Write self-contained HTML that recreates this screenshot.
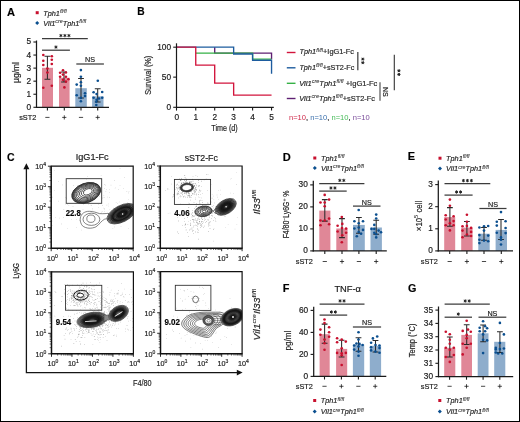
<!DOCTYPE html>
<html><head><meta charset="utf-8"><style>
html,body{margin:0;padding:0;background:#fff;}
body{width:520px;height:422px;overflow:hidden;}
svg{display:block;will-change:transform;}
text{stroke:#222;stroke-width:0.18px;}
</style></head><body>
<svg width="520" height="422" viewBox="0 0 520 422" style="font-family:'Liberation Sans',sans-serif">
<rect x="0" y="0" width="520" height="422" fill="#fff"/>
<text x="7.0" y="15.7" font-size="11" text-anchor="start" fill="#000" font-weight="bold" textLength="8.0" lengthAdjust="spacingAndGlyphs" >A</text>
<rect x="35.7" y="11.2" width="3.0" height="3.0" fill="#c8102e"/>
<path d="M37.2 21.0L39.2 23.0L37.2 25.0L35.2 23.0Z" fill="#0b4f8f"/>
<text x="43.3" y="15.5" font-size="7.3" fill="#2a2a2a"><tspan font-style="italic">Tph1</tspan><tspan dy="-2.8" font-size="5.3" stroke-width="0.05" font-style="italic">fl/fl</tspan></text>
<text x="43.3" y="25.9" font-size="7.3" fill="#2a2a2a"><tspan font-style="italic">Vil1</tspan><tspan dy="-2.8" font-size="5.3" stroke-width="0.05" font-style="italic">cre</tspan><tspan dy="2.8" font-style="italic">Tph1</tspan><tspan dy="-2.8" font-size="5.3" stroke-width="0.05" font-style="italic">fl/fl</tspan></text>
<rect x="42" y="67.8" width="11" height="39.5" fill="#e08797" stroke="none" stroke-width="1"/>
<rect x="59" y="77.7" width="10.59" height="29.59" fill="#e08797" stroke="none" stroke-width="1"/>
<rect x="75.3" y="88.2" width="11.5" height="19.09" fill="#8eadcc" stroke="none" stroke-width="1"/>
<rect x="92.1" y="96.3" width="11.40" height="11.0" fill="#8eadcc" stroke="none" stroke-width="1"/>
<path d="M47.4 56.3V79.2M44.5 56.3H50.3M44.5 79.2H50.3" stroke="#2a2a2a" stroke-width="1.05" fill="none"/>
<path d="M64 72V82M61.1 72H66.9M61.1 82H66.9" stroke="#2a2a2a" stroke-width="1.05" fill="none"/>
<path d="M81 78.4V97.9M78.1 78.4H83.9M78.1 97.9H83.9" stroke="#2a2a2a" stroke-width="1.05" fill="none"/>
<path d="M97.7 88.8V102M94.8 88.8H100.60M94.8 102H100.60" stroke="#2a2a2a" stroke-width="1.05" fill="none"/>
<circle cx="43.3" cy="55" r="1.32" fill="#c8102e"/>
<circle cx="51.8" cy="56.3" r="1.32" fill="#c8102e"/>
<circle cx="43.3" cy="60.8" r="1.32" fill="#c8102e"/>
<circle cx="51.8" cy="59.7" r="1.32" fill="#c8102e"/>
<circle cx="43.3" cy="65" r="1.32" fill="#c8102e"/>
<circle cx="51.8" cy="64" r="1.32" fill="#c8102e"/>
<circle cx="47.4" cy="68.5" r="1.32" fill="#c8102e"/>
<circle cx="47.4" cy="72.5" r="1.32" fill="#c8102e"/>
<circle cx="43.3" cy="87.8" r="1.32" fill="#c8102e"/>
<circle cx="51.8" cy="85.7" r="1.32" fill="#c8102e"/>
<circle cx="63" cy="70.3" r="1.32" fill="#c8102e"/>
<circle cx="60.1" cy="72.8" r="1.32" fill="#c8102e"/>
<circle cx="65.9" cy="72.5" r="1.32" fill="#c8102e"/>
<circle cx="63" cy="74.6" r="1.32" fill="#c8102e"/>
<circle cx="60.1" cy="76.8" r="1.32" fill="#c8102e"/>
<circle cx="65.9" cy="76.8" r="1.32" fill="#c8102e"/>
<circle cx="68.4" cy="79.2" r="1.32" fill="#c8102e"/>
<circle cx="63" cy="79.7" r="1.32" fill="#c8102e"/>
<circle cx="65.9" cy="81.6" r="1.32" fill="#c8102e"/>
<circle cx="64.4" cy="87.4" r="1.32" fill="#c8102e"/>
<circle cx="80.9" cy="70.1" r="1.32" fill="#0b4f8f"/>
<circle cx="80.9" cy="76.8" r="1.32" fill="#0b4f8f"/>
<circle cx="80.9" cy="82.3" r="1.32" fill="#0b4f8f"/>
<circle cx="76.7" cy="84.6" r="1.32" fill="#0b4f8f"/>
<circle cx="80.9" cy="85.8" r="1.32" fill="#0b4f8f"/>
<circle cx="85" cy="93.2" r="1.32" fill="#0b4f8f"/>
<circle cx="76.7" cy="95.3" r="1.32" fill="#0b4f8f"/>
<circle cx="85" cy="96.1" r="1.32" fill="#0b4f8f"/>
<circle cx="80.9" cy="97.9" r="1.32" fill="#0b4f8f"/>
<circle cx="80.9" cy="101.2" r="1.32" fill="#0b4f8f"/>
<circle cx="97.8" cy="80.7" r="1.32" fill="#0b4f8f"/>
<circle cx="93.6" cy="92.2" r="1.32" fill="#0b4f8f"/>
<circle cx="102.2" cy="92" r="1.32" fill="#0b4f8f"/>
<circle cx="96.6" cy="94.1" r="1.32" fill="#0b4f8f"/>
<circle cx="93.6" cy="97.7" r="1.32" fill="#0b4f8f"/>
<circle cx="99" cy="98.5" r="1.32" fill="#0b4f8f"/>
<circle cx="102.2" cy="97.7" r="1.32" fill="#0b4f8f"/>
<circle cx="96.6" cy="99.7" r="1.32" fill="#0b4f8f"/>
<circle cx="96.3" cy="101.7" r="1.32" fill="#0b4f8f"/>
<circle cx="96.3" cy="105" r="1.32" fill="#0b4f8f"/>
<line x1="36.5" y1="40.5" x2="36.5" y2="107.89" stroke="#1a1a1a" stroke-width="1.25" />
<line x1="35.9" y1="107.3" x2="109" y2="107.3" stroke="#1a1a1a" stroke-width="1.25" />
<line x1="33.4" y1="107.3" x2="36.5" y2="107.3" stroke="#1a1a1a" stroke-width="1.1" />
<text x="31.0" y="109.75" font-size="8.3" text-anchor="end" fill="#1a1a1a" >0</text>
<line x1="33.4" y1="94.24" x2="36.5" y2="94.24" stroke="#1a1a1a" stroke-width="1.1" />
<text x="31.0" y="96.69" font-size="8.3" text-anchor="end" fill="#1a1a1a" >1</text>
<line x1="33.4" y1="81.17" x2="36.5" y2="81.17" stroke="#1a1a1a" stroke-width="1.1" />
<text x="31.0" y="83.63" font-size="8.3" text-anchor="end" fill="#1a1a1a" >2</text>
<line x1="33.4" y1="68.12" x2="36.5" y2="68.12" stroke="#1a1a1a" stroke-width="1.1" />
<text x="31.0" y="70.57" font-size="8.3" text-anchor="end" fill="#1a1a1a" >3</text>
<line x1="33.4" y1="55.05" x2="36.5" y2="55.05" stroke="#1a1a1a" stroke-width="1.1" />
<text x="31.0" y="57.51" font-size="8.3" text-anchor="end" fill="#1a1a1a" >4</text>
<line x1="33.4" y1="42.0" x2="36.5" y2="42.0" stroke="#1a1a1a" stroke-width="1.1" />
<text x="31.0" y="44.45" font-size="8.3" text-anchor="end" fill="#1a1a1a" >5</text>
<line x1="47.4" y1="107.3" x2="47.4" y2="110.39" stroke="#1a1a1a" stroke-width="1.1" />
<line x1="64.3" y1="107.3" x2="64.3" y2="110.39" stroke="#1a1a1a" stroke-width="1.1" />
<line x1="81" y1="107.3" x2="81" y2="110.39" stroke="#1a1a1a" stroke-width="1.1" />
<line x1="97.7" y1="107.3" x2="97.7" y2="110.39" stroke="#1a1a1a" stroke-width="1.1" />
<line x1="42" y1="38.7" x2="87.8" y2="38.7" stroke="#3c3c3c" stroke-width="1.25" />
<g stroke="#222" stroke-width="1.0" stroke-linecap="round"><line x1="60.90" y1="34.35" x2="60.90" y2="36.85"/><line x1="59.82" y1="34.98" x2="61.98" y2="36.23"/><line x1="59.82" y1="36.23" x2="61.98" y2="34.98"/><line x1="64.90" y1="34.35" x2="64.90" y2="36.85"/><line x1="63.82" y1="34.98" x2="65.98" y2="36.23"/><line x1="63.82" y1="36.23" x2="65.98" y2="34.98"/><line x1="68.90" y1="34.35" x2="68.90" y2="36.85"/><line x1="67.82" y1="34.98" x2="69.98" y2="36.23"/><line x1="67.82" y1="36.23" x2="69.98" y2="34.98"/></g>
<line x1="42" y1="50.2" x2="69.9" y2="50.2" stroke="#3c3c3c" stroke-width="1.25" />
<g stroke="#222" stroke-width="1.0" stroke-linecap="round"><line x1="55.95" y1="45.85" x2="55.95" y2="48.35"/><line x1="54.87" y1="46.48" x2="57.03" y2="47.73"/><line x1="54.87" y1="47.73" x2="57.03" y2="46.48"/></g>
<line x1="76.3" y1="64" x2="103.9" y2="64" stroke="#3c3c3c" stroke-width="1.25" />
<text x="90.1" y="62.4" font-size="7.1" text-anchor="middle" fill="#1a1a1a" textLength="10" lengthAdjust="spacingAndGlyphs" >NS</text>
<text x="36.2" y="120" font-size="7.3" text-anchor="end" fill="#1a1a1a" >sST2</text>
<line x1="45.3" y1="117.4" x2="49.5" y2="117.4" stroke="#1a1a1a" stroke-width="0.8" />
<path d="M62.19 117.4H66.39M64.3 115.3V119.5" stroke="#1a1a1a" stroke-width="0.8" fill="none"/>
<line x1="78.9" y1="117.4" x2="83.1" y2="117.4" stroke="#1a1a1a" stroke-width="0.8" />
<path d="M95.60 117.4H99.8M97.7 115.3V119.5" stroke="#1a1a1a" stroke-width="0.8" fill="none"/>
<text x="19.0" y="72.5" font-size="9.4" text-anchor="middle" fill="#1a1a1a" textLength="21" lengthAdjust="spacingAndGlyphs" transform="rotate(-90 19.0 72.5)" >µg/ml</text>
<text x="137.2" y="15.3" font-size="11" text-anchor="start" fill="#000" font-weight="bold" textLength="7.4" lengthAdjust="spacingAndGlyphs" >B</text>
<path d="M214.70 47.19V53.19H271.55V59.17" fill="none" stroke="#5e1f72" stroke-width="1.35" stroke-linejoin="miter" stroke-linecap="butt"/>
<path d="M195.75 53.19H252.60V59.17H271.55" fill="none" stroke="#35b146" stroke-width="1.35" stroke-linejoin="miter" stroke-linecap="butt"/>
<path d="M176.8 47.19H233.65V54.02H252.60V60.25H271.55V73.85" fill="none" stroke="#1d5c9e" stroke-width="1.35" stroke-linejoin="miter" stroke-linecap="butt"/>
<path d="M176.8 47.19H195.75V65.16H214.70V83.13H233.65V95.11H271.55" fill="none" stroke="#d2143c" stroke-width="1.35" stroke-linejoin="miter" stroke-linecap="butt"/>
<line x1="176.5" y1="43.3" x2="176.5" y2="107.9" stroke="#1a1a1a" stroke-width="1.2" />
<line x1="175.9" y1="107.3" x2="273.8" y2="107.3" stroke="#1a1a1a" stroke-width="1.2" />
<line x1="173.2" y1="47.19" x2="176.5" y2="47.19" stroke="#1a1a1a" stroke-width="1.1" />
<text x="171.0" y="49.69" font-size="8.3" text-anchor="end" fill="#1a1a1a" >100</text>
<line x1="173.2" y1="77.14" x2="176.5" y2="77.14" stroke="#1a1a1a" stroke-width="1.1" />
<text x="171.0" y="79.64" font-size="8.3" text-anchor="end" fill="#1a1a1a" >50</text>
<line x1="173.2" y1="107.3" x2="176.5" y2="107.3" stroke="#1a1a1a" stroke-width="1.1" />
<text x="171.0" y="109.8" font-size="8.3" text-anchor="end" fill="#1a1a1a" >0</text>
<line x1="176.5" y1="107.3" x2="176.5" y2="110.6" stroke="#1a1a1a" stroke-width="1.1" />
<text x="176.8" y="119.6" font-size="8.3" text-anchor="middle" fill="#1a1a1a" >0</text>
<line x1="195.75" y1="107.3" x2="195.75" y2="110.6" stroke="#1a1a1a" stroke-width="1.1" />
<text x="195.75" y="119.6" font-size="8.3" text-anchor="middle" fill="#1a1a1a" >1</text>
<line x1="214.70" y1="107.3" x2="214.70" y2="110.6" stroke="#1a1a1a" stroke-width="1.1" />
<text x="214.70" y="119.6" font-size="8.3" text-anchor="middle" fill="#1a1a1a" >2</text>
<line x1="233.65" y1="107.3" x2="233.65" y2="110.6" stroke="#1a1a1a" stroke-width="1.1" />
<text x="233.65" y="119.6" font-size="8.3" text-anchor="middle" fill="#1a1a1a" >3</text>
<line x1="252.60" y1="107.3" x2="252.60" y2="110.6" stroke="#1a1a1a" stroke-width="1.1" />
<text x="252.60" y="119.6" font-size="8.3" text-anchor="middle" fill="#1a1a1a" >4</text>
<line x1="271.55" y1="107.3" x2="271.55" y2="110.6" stroke="#1a1a1a" stroke-width="1.1" />
<text x="271.55" y="119.6" font-size="8.3" text-anchor="middle" fill="#1a1a1a" >5</text>
<text x="224.5" y="131.4" font-size="8.4" text-anchor="middle" fill="#1a1a1a" textLength="26.4" lengthAdjust="spacingAndGlyphs" >Time (d)</text>
<text x="150.6" y="75.3" font-size="8.6" text-anchor="middle" fill="#1a1a1a" textLength="39" lengthAdjust="spacingAndGlyphs" transform="rotate(-90 150.6 75.3)" >Survival (%)</text>
<line x1="286.8" y1="52.5" x2="295.5" y2="52.5" stroke="#d2143c" stroke-width="1.4" />
<line x1="286.8" y1="67.8" x2="295.5" y2="67.8" stroke="#1d5c9e" stroke-width="1.4" />
<line x1="286.8" y1="83.3" x2="295.5" y2="83.3" stroke="#35b146" stroke-width="1.4" />
<line x1="286.8" y1="98.5" x2="295.5" y2="98.5" stroke="#5e1f72" stroke-width="1.4" />
<text x="299.4" y="54.3" font-size="7.3" fill="#2a2a2a" textLength="54.6" lengthAdjust="spacingAndGlyphs"><tspan font-style="italic">Tph1</tspan><tspan dy="-2.8" font-size="5.3" stroke-width="0.05" font-style="italic">fl/fl</tspan><tspan dy="2.8">+IgG1-Fc</tspan></text>
<text x="299.4" y="69.9" font-size="7.3" fill="#2a2a2a" textLength="55.0" lengthAdjust="spacingAndGlyphs"><tspan font-style="italic">Tph1</tspan><tspan dy="-2.8" font-size="5.3" stroke-width="0.05" font-style="italic">fl/fl</tspan><tspan dy="2.8">+sST2-Fc</tspan></text>
<text x="299.2" y="85.6" font-size="7.3" fill="#2a2a2a" textLength="78.2" lengthAdjust="spacingAndGlyphs"><tspan font-style="italic">Vil1</tspan><tspan dy="-2.8" font-size="5.3" stroke-width="0.05" font-style="italic">cre</tspan><tspan dy="2.8" font-style="italic">Tph1</tspan><tspan dy="-2.8" font-size="5.3" stroke-width="0.05" font-style="italic">fl/fl</tspan><tspan dy="2.8"> +IgG1-Fc</tspan></text>
<text x="299.2" y="100.7" font-size="7.3" fill="#2a2a2a" textLength="75.8" lengthAdjust="spacingAndGlyphs"><tspan font-style="italic">Vil1</tspan><tspan dy="-2.8" font-size="5.3" stroke-width="0.05" font-style="italic">cre</tspan><tspan dy="2.8" font-style="italic">Tph1</tspan><tspan dy="-2.8" font-size="5.3" stroke-width="0.05" font-style="italic">fl/fl</tspan><tspan dy="2.8">+sST2-Fc</tspan></text>
<line x1="357.8" y1="51.9" x2="357.8" y2="70.3" stroke="#555" stroke-width="1.4" />
<line x1="380.0" y1="82.3" x2="380.0" y2="100.7" stroke="#777" stroke-width="1.5" />
<line x1="394.3" y1="54.7" x2="394.3" y2="90.3" stroke="#333" stroke-width="1.1" />
<g stroke="#222" stroke-width="1.0" stroke-linecap="round"><line x1="361.60" y1="59.10" x2="364.00" y2="59.10"/><line x1="362.20" y1="58.06" x2="363.40" y2="60.14"/><line x1="362.20" y1="60.14" x2="363.40" y2="58.06"/><line x1="361.60" y1="62.70" x2="364.00" y2="62.70"/><line x1="362.20" y1="61.66" x2="363.40" y2="63.74"/><line x1="362.20" y1="63.74" x2="363.40" y2="61.66"/></g>
<g stroke="#222" stroke-width="1.0" stroke-linecap="round"><line x1="397.70" y1="70.75" x2="400.10" y2="70.75"/><line x1="398.30" y1="69.71" x2="399.50" y2="71.79"/><line x1="398.30" y1="71.79" x2="399.50" y2="69.71"/><line x1="397.70" y1="74.45" x2="400.10" y2="74.45"/><line x1="398.30" y1="73.41" x2="399.50" y2="75.49"/><line x1="398.30" y1="75.49" x2="399.50" y2="73.41"/></g>
<text x="383.0" y="91.8" font-size="7" text-anchor="middle" fill="#1a1a1a" transform="rotate(90 383.0 91.8)" >NS</text>
<text x="289" y="119.8" font-size="7.4" textLength="80.8" lengthAdjust="spacingAndGlyphs"><tspan fill="#d0284a" stroke="none">n=10</tspan><tspan fill="#333">, </tspan><tspan fill="#3a70ad" stroke="none">n=10</tspan><tspan fill="#333">, </tspan><tspan fill="#45bb58" stroke="none">n=10</tspan><tspan fill="#333">, </tspan><tspan fill="#7a4c9a" stroke="none">n=10</tspan></text>
<text x="7.0" y="160.5" font-size="11" text-anchor="start" fill="#000" font-weight="bold" textLength="7.6" lengthAdjust="spacingAndGlyphs" >C</text>
<text x="92.2" y="160.1" font-size="8.7" text-anchor="middle" fill="#1a1a1a" textLength="33.0" lengthAdjust="spacingAndGlyphs" >IgG1-Fc</text>
<text x="201.3" y="160.6" font-size="8.7" text-anchor="middle" fill="#1a1a1a" textLength="33.2" lengthAdjust="spacingAndGlyphs" >sST2-Fc</text>
<path d="M26.4 168.5V372.6H238" fill="none" stroke="#151515" stroke-width="1.3"/>
<path d="M26.4 163.3L23.4 169.2L29.4 169.2Z" fill="#111"/>
<path d="M242.6 372.6L236.8 369.8L236.8 375.4Z" fill="#111"/>
<text x="18.7" y="270.8" font-size="9.4" text-anchor="middle" fill="#1a1a1a" textLength="15.8" lengthAdjust="spacingAndGlyphs" transform="rotate(-90 18.7 270.8)" >Ly6G</text>
<text x="142.3" y="385.6" font-size="9.4" text-anchor="middle" fill="#1a1a1a" textLength="18.6" lengthAdjust="spacingAndGlyphs" >F4/80</text>
<text x="260" y="202" font-size="9.2" text-anchor="middle" transform="rotate(-90 260 202)" fill="#1a1a1a" textLength="25" lengthAdjust="spacingAndGlyphs"><tspan font-style="italic">Il33</tspan><tspan dy="-4" font-size="6.2" stroke-width="0.05">fl/fl</tspan></text>
<text x="260" y="314.6" font-size="9.2" text-anchor="middle" transform="rotate(-90 260 314.6)" fill="#1a1a1a" textLength="51.6" lengthAdjust="spacingAndGlyphs"><tspan font-style="italic">Vil1</tspan><tspan dy="-4" font-size="6.2" stroke-width="0.05" font-style="italic">cre</tspan><tspan dy="4" font-style="italic">Il33</tspan><tspan dy="-4" font-size="6.2" stroke-width="0.05">fl/fl</tspan></text>
<clipPath id="c1"><rect x="51.2" y="166.2" width="81.99" height="82.0"/></clipPath>
<g stroke="#111" stroke-width="0.6"><line x1="49.40" y1="242.03" x2="51.2" y2="242.03"/><line x1="57.37" y1="248.2" x2="57.37" y2="250.0"/><line x1="49.40" y1="238.42" x2="51.2" y2="238.42"/><line x1="60.98" y1="248.2" x2="60.98" y2="250.0"/><line x1="49.40" y1="235.86" x2="51.2" y2="235.86"/><line x1="63.54" y1="248.2" x2="63.54" y2="250.0"/><line x1="49.40" y1="233.87" x2="51.2" y2="233.87"/><line x1="65.53" y1="248.2" x2="65.53" y2="250.0"/><line x1="49.40" y1="232.25" x2="51.2" y2="232.25"/><line x1="67.15" y1="248.2" x2="67.15" y2="250.0"/><line x1="49.40" y1="230.88" x2="51.2" y2="230.88"/><line x1="68.52" y1="248.2" x2="68.52" y2="250.0"/><line x1="49.40" y1="229.69" x2="51.2" y2="229.69"/><line x1="69.71" y1="248.2" x2="69.71" y2="250.0"/><line x1="49.40" y1="228.64" x2="51.2" y2="228.64"/><line x1="70.76" y1="248.2" x2="70.76" y2="250.0"/><line x1="49.40" y1="221.53" x2="51.2" y2="221.53"/><line x1="77.87" y1="248.2" x2="77.87" y2="250.0"/><line x1="49.40" y1="217.92" x2="51.2" y2="217.92"/><line x1="81.48" y1="248.2" x2="81.48" y2="250.0"/><line x1="49.40" y1="215.36" x2="51.2" y2="215.36"/><line x1="84.04" y1="248.2" x2="84.04" y2="250.0"/><line x1="49.40" y1="213.37" x2="51.2" y2="213.37"/><line x1="86.03" y1="248.2" x2="86.03" y2="250.0"/><line x1="49.40" y1="211.75" x2="51.2" y2="211.75"/><line x1="87.65" y1="248.2" x2="87.65" y2="250.0"/><line x1="49.40" y1="210.38" x2="51.2" y2="210.38"/><line x1="89.02" y1="248.2" x2="89.02" y2="250.0"/><line x1="49.40" y1="209.19" x2="51.2" y2="209.19"/><line x1="90.21" y1="248.2" x2="90.21" y2="250.0"/><line x1="49.40" y1="208.14" x2="51.2" y2="208.14"/><line x1="91.26" y1="248.2" x2="91.26" y2="250.0"/><line x1="49.40" y1="201.03" x2="51.2" y2="201.03"/><line x1="98.37" y1="248.2" x2="98.37" y2="250.0"/><line x1="49.40" y1="197.42" x2="51.2" y2="197.42"/><line x1="101.98" y1="248.2" x2="101.98" y2="250.0"/><line x1="49.40" y1="194.86" x2="51.2" y2="194.86"/><line x1="104.54" y1="248.2" x2="104.54" y2="250.0"/><line x1="49.40" y1="192.87" x2="51.2" y2="192.87"/><line x1="106.53" y1="248.2" x2="106.53" y2="250.0"/><line x1="49.40" y1="191.25" x2="51.2" y2="191.25"/><line x1="108.15" y1="248.2" x2="108.15" y2="250.0"/><line x1="49.40" y1="189.88" x2="51.2" y2="189.88"/><line x1="109.52" y1="248.2" x2="109.52" y2="250.0"/><line x1="49.40" y1="188.69" x2="51.2" y2="188.69"/><line x1="110.71" y1="248.2" x2="110.71" y2="250.0"/><line x1="49.40" y1="187.64" x2="51.2" y2="187.64"/><line x1="111.76" y1="248.2" x2="111.76" y2="250.0"/><line x1="49.40" y1="180.53" x2="51.2" y2="180.53"/><line x1="118.87" y1="248.2" x2="118.87" y2="250.0"/><line x1="49.40" y1="176.92" x2="51.2" y2="176.92"/><line x1="122.48" y1="248.2" x2="122.48" y2="250.0"/><line x1="49.40" y1="174.36" x2="51.2" y2="174.36"/><line x1="125.04" y1="248.2" x2="125.04" y2="250.0"/><line x1="49.40" y1="172.37" x2="51.2" y2="172.37"/><line x1="127.03" y1="248.2" x2="127.03" y2="250.0"/><line x1="49.40" y1="170.75" x2="51.2" y2="170.75"/><line x1="128.65" y1="248.2" x2="128.65" y2="250.0"/><line x1="49.40" y1="169.38" x2="51.2" y2="169.38"/><line x1="130.02" y1="248.2" x2="130.02" y2="250.0"/><line x1="49.40" y1="168.19" x2="51.2" y2="168.19"/><line x1="131.21" y1="248.2" x2="131.21" y2="250.0"/><line x1="49.40" y1="167.14" x2="51.2" y2="167.14"/><line x1="132.26" y1="248.2" x2="132.26" y2="250.0"/></g>
<g stroke="#111" stroke-width="0.9"><line x1="47.90" y1="248.20" x2="51.2" y2="248.20"/><line x1="51.20" y1="248.2" x2="51.20" y2="251.2"/><line x1="47.90" y1="227.70" x2="51.2" y2="227.70"/><line x1="71.70" y1="248.2" x2="71.70" y2="251.2"/><line x1="47.90" y1="207.20" x2="51.2" y2="207.20"/><line x1="92.20" y1="248.2" x2="92.20" y2="251.2"/><line x1="47.90" y1="186.70" x2="51.2" y2="186.70"/><line x1="112.70" y1="248.2" x2="112.70" y2="251.2"/><line x1="47.90" y1="166.20" x2="51.2" y2="166.20"/><line x1="133.20" y1="248.2" x2="133.20" y2="251.2"/></g>
<text x="46.0" y="251.00" font-size="7.2" text-anchor="end" fill="#1a1a1a">10<tspan font-size="5" dy="-3">0</tspan></text>
<text x="52.50" y="260.50" font-size="7.2" text-anchor="middle" fill="#1a1a1a">10<tspan font-size="5" dy="-3">0</tspan></text>
<text x="46.0" y="230.50" font-size="7.2" text-anchor="end" fill="#1a1a1a">10<tspan font-size="5" dy="-3">1</tspan></text>
<text x="73.00" y="260.50" font-size="7.2" text-anchor="middle" fill="#1a1a1a">10<tspan font-size="5" dy="-3">1</tspan></text>
<text x="46.0" y="210.00" font-size="7.2" text-anchor="end" fill="#1a1a1a">10<tspan font-size="5" dy="-3">2</tspan></text>
<text x="93.50" y="260.50" font-size="7.2" text-anchor="middle" fill="#1a1a1a">10<tspan font-size="5" dy="-3">2</tspan></text>
<text x="46.0" y="189.50" font-size="7.2" text-anchor="end" fill="#1a1a1a">10<tspan font-size="5" dy="-3">3</tspan></text>
<text x="114.00" y="260.50" font-size="7.2" text-anchor="middle" fill="#1a1a1a">10<tspan font-size="5" dy="-3">3</tspan></text>
<text x="46.0" y="169.00" font-size="7.2" text-anchor="end" fill="#1a1a1a">10<tspan font-size="5" dy="-3">4</tspan></text>
<text x="134.50" y="260.50" font-size="7.2" text-anchor="middle" fill="#1a1a1a">10<tspan font-size="5" dy="-3">4</tspan></text>
<g fill="#999" clip-path="url(#c1)"><circle cx="90.4" cy="213.2" r="0.3"/><circle cx="91.0" cy="201.6" r="0.3"/><circle cx="75.5" cy="203.0" r="0.3"/><circle cx="120.5" cy="211.9" r="0.3"/><circle cx="118.8" cy="209.5" r="0.3"/><circle cx="104.7" cy="208.6" r="0.3"/><circle cx="59.3" cy="218.0" r="0.3"/><circle cx="107.1" cy="213.0" r="0.3"/><circle cx="58.8" cy="181.6" r="0.3"/><circle cx="76.4" cy="199.4" r="0.3"/><circle cx="102.7" cy="205.4" r="0.3"/><circle cx="107.5" cy="197.0" r="0.3"/><circle cx="102.8" cy="211.5" r="0.3"/><circle cx="81.5" cy="230.0" r="0.3"/><circle cx="108.2" cy="222.8" r="0.3"/><circle cx="82.4" cy="195.6" r="0.3"/><circle cx="88.4" cy="204.5" r="0.3"/><circle cx="109.9" cy="209.5" r="0.3"/><circle cx="86.2" cy="192.6" r="0.3"/><circle cx="84.5" cy="223.1" r="0.3"/><circle cx="105.4" cy="185.1" r="0.3"/><circle cx="97.1" cy="224.3" r="0.3"/><circle cx="51.7" cy="201.5" r="0.3"/><circle cx="93.7" cy="194.6" r="0.3"/><circle cx="106.9" cy="205.1" r="0.3"/><circle cx="63.8" cy="217.6" r="0.3"/><circle cx="110.7" cy="219.2" r="0.3"/><circle cx="127.7" cy="211.1" r="0.3"/><circle cx="98.6" cy="187.8" r="0.3"/><circle cx="109.5" cy="197.4" r="0.3"/><circle cx="86.0" cy="188.3" r="0.3"/><circle cx="74.7" cy="198.6" r="0.3"/><circle cx="124.4" cy="177.6" r="0.3"/><circle cx="63.9" cy="209.4" r="0.3"/><circle cx="127.8" cy="214.1" r="0.3"/><circle cx="54.2" cy="170.7" r="0.3"/><circle cx="103.9" cy="195.7" r="0.3"/><circle cx="71.4" cy="219.7" r="0.3"/><circle cx="120.2" cy="208.2" r="0.3"/><circle cx="101.4" cy="212.1" r="0.3"/><circle cx="131.1" cy="214.7" r="0.3"/><circle cx="107.4" cy="213.7" r="0.3"/><circle cx="61.5" cy="223.9" r="0.3"/><circle cx="117.0" cy="213.4" r="0.3"/><circle cx="52.6" cy="197.1" r="0.3"/><circle cx="114.5" cy="180.6" r="0.3"/><circle cx="92.0" cy="220.3" r="0.3"/><circle cx="67.2" cy="228.5" r="0.3"/><circle cx="108.1" cy="203.9" r="0.3"/><circle cx="103.1" cy="215.1" r="0.3"/><circle cx="98.6" cy="222.0" r="0.3"/><circle cx="81.4" cy="200.2" r="0.3"/><circle cx="118.9" cy="206.4" r="0.3"/><circle cx="76.6" cy="219.3" r="0.3"/><circle cx="128.2" cy="199.8" r="0.3"/><circle cx="65.6" cy="204.1" r="0.3"/><circle cx="92.7" cy="201.8" r="0.3"/><circle cx="126.9" cy="191.6" r="0.3"/><circle cx="123.7" cy="188.2" r="0.3"/><circle cx="120.8" cy="218.0" r="0.3"/><circle cx="103.6" cy="208.0" r="0.3"/><circle cx="99.4" cy="214.1" r="0.3"/><circle cx="92.1" cy="209.9" r="0.3"/><circle cx="108.6" cy="206.0" r="0.3"/><circle cx="112.8" cy="213.9" r="0.3"/><circle cx="140.2" cy="210.5" r="0.3"/><circle cx="86.6" cy="200.8" r="0.3"/><circle cx="95.7" cy="218.9" r="0.3"/><circle cx="88.6" cy="211.4" r="0.3"/><circle cx="136.4" cy="170.1" r="0.3"/><circle cx="104.8" cy="209.3" r="0.3"/><circle cx="86.5" cy="215.2" r="0.3"/><circle cx="102.2" cy="198.7" r="0.3"/><circle cx="149.5" cy="211.0" r="0.3"/><circle cx="83.8" cy="204.6" r="0.3"/><circle cx="91.0" cy="205.1" r="0.3"/><circle cx="36.0" cy="199.2" r="0.3"/><circle cx="118.2" cy="189.6" r="0.3"/><circle cx="94.5" cy="219.3" r="0.3"/><circle cx="114.8" cy="226.9" r="0.3"/><circle cx="58.6" cy="201.1" r="0.3"/><circle cx="88.5" cy="214.7" r="0.3"/><circle cx="120.0" cy="168.4" r="0.3"/><circle cx="120.0" cy="185.7" r="0.3"/><circle cx="111.0" cy="185.1" r="0.3"/><circle cx="99.9" cy="222.7" r="0.3"/><circle cx="92.7" cy="208.7" r="0.3"/><circle cx="113.5" cy="208.0" r="0.3"/><circle cx="94.1" cy="227.5" r="0.3"/><circle cx="119.1" cy="201.9" r="0.3"/><circle cx="156.4" cy="189.9" r="0.3"/><circle cx="116.1" cy="202.3" r="0.3"/><circle cx="98.9" cy="215.9" r="0.3"/><circle cx="100.9" cy="214.9" r="0.3"/><circle cx="62.4" cy="184.9" r="0.3"/><circle cx="109.5" cy="192.5" r="0.3"/><circle cx="73.4" cy="185.4" r="0.3"/><circle cx="123.9" cy="216.5" r="0.3"/><circle cx="128.4" cy="192.9" r="0.3"/><circle cx="96.0" cy="190.0" r="0.3"/><circle cx="112.9" cy="228.3" r="0.3"/><circle cx="76.4" cy="227.8" r="0.3"/><circle cx="117.7" cy="203.5" r="0.3"/><circle cx="52.6" cy="225.7" r="0.3"/><circle cx="93.9" cy="197.6" r="0.3"/><circle cx="104.8" cy="211.7" r="0.3"/><circle cx="129.0" cy="191.7" r="0.3"/><circle cx="121.0" cy="226.8" r="0.3"/><circle cx="127.9" cy="203.5" r="0.3"/><circle cx="79.6" cy="220.3" r="0.3"/><circle cx="98.5" cy="207.7" r="0.3"/><circle cx="127.3" cy="202.3" r="0.3"/><circle cx="45.5" cy="200.6" r="0.3"/><circle cx="55.2" cy="217.5" r="0.3"/><circle cx="103.0" cy="197.4" r="0.3"/><circle cx="95.8" cy="217.7" r="0.3"/><circle cx="97.7" cy="224.6" r="0.3"/><circle cx="94.7" cy="220.6" r="0.3"/><circle cx="128.8" cy="228.5" r="0.3"/><circle cx="81.2" cy="218.3" r="0.3"/><circle cx="54.7" cy="190.8" r="0.3"/><circle cx="52.8" cy="221.0" r="0.3"/><circle cx="68.9" cy="205.8" r="0.3"/><circle cx="91.8" cy="205.6" r="0.3"/><circle cx="83.0" cy="209.3" r="0.3"/><circle cx="135.4" cy="206.6" r="0.3"/><circle cx="107.7" cy="220.0" r="0.3"/></g>
<g fill="#888" clip-path="url(#c1)"><circle cx="83.0" cy="187.0" r="0.3"/><circle cx="85.7" cy="201.2" r="0.3"/><circle cx="71.6" cy="196.7" r="0.3"/><circle cx="99.1" cy="193.1" r="0.3"/><circle cx="90.1" cy="197.3" r="0.3"/><circle cx="86.5" cy="185.9" r="0.3"/><circle cx="72.2" cy="196.1" r="0.3"/><circle cx="94.9" cy="186.0" r="0.3"/><circle cx="77.9" cy="192.6" r="0.3"/><circle cx="73.8" cy="198.8" r="0.3"/><circle cx="78.2" cy="200.0" r="0.3"/><circle cx="67.4" cy="204.8" r="0.3"/><circle cx="77.3" cy="185.2" r="0.3"/><circle cx="93.9" cy="188.4" r="0.3"/><circle cx="65.6" cy="197.7" r="0.3"/><circle cx="89.5" cy="189.3" r="0.3"/><circle cx="97.0" cy="193.8" r="0.3"/><circle cx="94.9" cy="192.0" r="0.3"/><circle cx="101.8" cy="191.0" r="0.3"/><circle cx="86.8" cy="179.8" r="0.3"/><circle cx="99.4" cy="196.3" r="0.3"/><circle cx="84.1" cy="191.7" r="0.3"/><circle cx="101.1" cy="175.2" r="0.3"/><circle cx="98.4" cy="204.2" r="0.3"/><circle cx="81.3" cy="200.7" r="0.3"/><circle cx="104.8" cy="184.4" r="0.3"/><circle cx="95.4" cy="195.5" r="0.3"/><circle cx="79.6" cy="196.3" r="0.3"/><circle cx="92.7" cy="196.3" r="0.3"/><circle cx="87.2" cy="192.1" r="0.3"/><circle cx="77.9" cy="195.3" r="0.3"/><circle cx="96.3" cy="189.8" r="0.3"/><circle cx="78.1" cy="192.0" r="0.3"/><circle cx="115.1" cy="187.9" r="0.3"/><circle cx="87.2" cy="176.2" r="0.3"/><circle cx="94.9" cy="193.0" r="0.3"/><circle cx="104.3" cy="188.2" r="0.3"/><circle cx="88.7" cy="196.1" r="0.3"/><circle cx="73.0" cy="206.8" r="0.3"/><circle cx="89.2" cy="187.8" r="0.3"/><circle cx="104.6" cy="197.2" r="0.3"/><circle cx="73.6" cy="195.3" r="0.3"/><circle cx="91.1" cy="192.8" r="0.3"/><circle cx="81.9" cy="189.4" r="0.3"/><circle cx="109.8" cy="189.7" r="0.3"/><circle cx="73.8" cy="190.7" r="0.3"/><circle cx="105.9" cy="191.2" r="0.3"/><circle cx="106.6" cy="189.7" r="0.3"/><circle cx="80.8" cy="198.1" r="0.3"/><circle cx="66.5" cy="198.1" r="0.3"/></g>
<g clip-path="url(#c1)"><ellipse cx="86.20" cy="192.90" rx="15.00" ry="9.70" transform="rotate(-20 86.20 192.90)" fill="#666" stroke="#222" stroke-width="0.7"/><ellipse cx="86.30" cy="192.83" rx="14.35" ry="9.27" transform="rotate(-20 86.30 192.83)" fill="#888" stroke="#222" stroke-width="0.7"/><ellipse cx="86.44" cy="192.73" rx="13.44" ry="8.67" transform="rotate(-20 86.44 192.73)" fill="#aaa" stroke="#222" stroke-width="0.7"/><ellipse cx="86.60" cy="192.62" rx="12.40" ry="7.98" transform="rotate(-20 86.60 192.62)" fill="#ddd" stroke="#222" stroke-width="0.7"/><ellipse cx="86.80" cy="192.48" rx="11.10" ry="7.12" transform="rotate(-20 86.80 192.48)" fill="#fff" stroke="#222" stroke-width="0.7"/><ellipse cx="87.02" cy="192.33" rx="9.67" ry="6.17" transform="rotate(-20 87.02 192.33)" fill="#fff" stroke="#222" stroke-width="0.7"/><ellipse cx="87.26" cy="192.16" rx="8.11" ry="5.14" transform="rotate(-20 87.26 192.16)" fill="#fff" stroke="#222" stroke-width="0.7"/><ellipse cx="87.52" cy="191.98" rx="6.42" ry="4.02" transform="rotate(-20 87.52 191.98)" fill="#fff" stroke="#222" stroke-width="0.7"/><ellipse cx="87.80" cy="191.78" rx="4.60" ry="2.82" transform="rotate(-20 87.80 191.78)" fill="#fff" stroke="#222" stroke-width="0.7"/></g>
<path d="M80.20 219.50C80.15 217.53 80.98 215.35 82.20 214.00C83.42 212.65 85.45 211.73 87.50 211.40C89.55 211.07 92.50 211.63 94.50 212.00C96.50 212.37 97.75 213.33 99.50 213.60C101.25 213.87 103.42 213.57 105.00 213.60C106.58 213.63 108.17 213.03 109.00 213.80C109.83 214.57 110.75 217.30 110.00 218.20C109.25 219.10 106.08 218.48 104.50 219.20C102.92 219.92 101.92 221.23 100.50 222.50C99.08 223.77 97.92 225.85 96.00 226.80C94.08 227.75 91.25 228.37 89.00 228.20C86.75 228.03 83.97 227.25 82.50 225.80C81.03 224.35 80.25 221.47 80.20 219.50Z" fill="#fff" stroke="#333" stroke-width="0.6" clip-path="url(#c1)"/>
<ellipse cx="91.4" cy="219.3" rx="8.4" ry="6.1" fill="none" stroke="#333" stroke-width="0.6"/>
<ellipse cx="90.9" cy="218.7" rx="4.1" ry="3.7" fill="none" stroke="#333" stroke-width="0.6"/>
<g clip-path="url(#c1)"><ellipse cx="121.60" cy="213.70" rx="15.80" ry="8.20" transform="rotate(-27 121.60 213.70)" fill="#aaa" stroke="#1a1a1a" stroke-width="0.6"/><ellipse cx="121.67" cy="213.73" rx="14.52" ry="7.54" transform="rotate(-27 121.67 213.73)" fill="#888" stroke="#1a1a1a" stroke-width="0.6"/><ellipse cx="121.74" cy="213.75" rx="13.24" ry="6.89" transform="rotate(-27 121.74 213.75)" fill="#666" stroke="#1a1a1a" stroke-width="0.6"/><ellipse cx="121.82" cy="213.78" rx="11.97" ry="6.23" transform="rotate(-27 121.82 213.78)" fill="#333" stroke="#1a1a1a" stroke-width="0.6"/><ellipse cx="121.89" cy="213.81" rx="10.69" ry="5.57" transform="rotate(-27 121.89 213.81)" fill="#111" stroke="#1a1a1a" stroke-width="0.6"/><ellipse cx="121.96" cy="213.83" rx="9.41" ry="4.91" transform="rotate(-27 121.96 213.83)" fill="#444" stroke="#1a1a1a" stroke-width="0.6"/><ellipse cx="122.03" cy="213.86" rx="8.13" ry="4.26" transform="rotate(-27 122.03 213.86)" fill="#555" stroke="#1a1a1a" stroke-width="0.6"/><ellipse cx="122.10" cy="213.89" rx="6.85" ry="3.60" transform="rotate(-27 122.10 213.89)" fill="#333" stroke="#1a1a1a" stroke-width="0.6"/><ellipse cx="122.18" cy="213.92" rx="5.58" ry="2.94" transform="rotate(-27 122.18 213.92)" fill="#111" stroke="#1a1a1a" stroke-width="0.6"/><ellipse cx="122.25" cy="213.94" rx="4.30" ry="2.29" transform="rotate(-27 122.25 213.94)" fill="#111" stroke="#1a1a1a" stroke-width="0.6"/><ellipse cx="122.32" cy="213.97" rx="3.02" ry="1.63" transform="rotate(-27 122.32 213.97)" fill="#222" stroke="#1a1a1a" stroke-width="0.6"/></g>
<circle cx="122.6" cy="214.0" r="0.75" fill="#fff"/>
<path d="M51.2 166.2H133.2V248.2" fill="none" stroke="#111" stroke-width="1.2"/>
<path d="M51.2 165.7V248.2H133.7" fill="none" stroke="#111" stroke-width="1.5"/>
<rect x="66.2" y="178.7" width="35.5" height="24.60" fill="none" stroke="#2a2a2a" stroke-width="0.85"/>
<text x="65.8" y="215.9" font-size="8.6" text-anchor="start" fill="#000" font-weight="bold" textLength="15.0" lengthAdjust="spacingAndGlyphs" >22.8</text>
<clipPath id="c2"><rect x="160.3" y="166.0" width="81.79" height="82.19"/></clipPath>
<g stroke="#111" stroke-width="0.6"><line x1="158.5" y1="242.01" x2="160.3" y2="242.01"/><line x1="166.46" y1="248.2" x2="166.46" y2="250.0"/><line x1="158.5" y1="238.40" x2="160.3" y2="238.40"/><line x1="170.06" y1="248.2" x2="170.06" y2="250.0"/><line x1="158.5" y1="235.83" x2="160.3" y2="235.83"/><line x1="172.61" y1="248.2" x2="172.61" y2="250.0"/><line x1="158.5" y1="233.84" x2="160.3" y2="233.84"/><line x1="174.59" y1="248.2" x2="174.59" y2="250.0"/><line x1="158.5" y1="232.21" x2="160.3" y2="232.21"/><line x1="176.21" y1="248.2" x2="176.21" y2="250.0"/><line x1="158.5" y1="230.83" x2="160.3" y2="230.83"/><line x1="177.58" y1="248.2" x2="177.58" y2="250.0"/><line x1="158.5" y1="229.64" x2="160.3" y2="229.64"/><line x1="178.77" y1="248.2" x2="178.77" y2="250.0"/><line x1="158.5" y1="228.59" x2="160.3" y2="228.59"/><line x1="179.81" y1="248.2" x2="179.81" y2="250.0"/><line x1="158.5" y1="221.46" x2="160.3" y2="221.46"/><line x1="186.91" y1="248.2" x2="186.91" y2="250.0"/><line x1="158.5" y1="217.85" x2="160.3" y2="217.85"/><line x1="190.51" y1="248.2" x2="190.51" y2="250.0"/><line x1="158.5" y1="215.28" x2="160.3" y2="215.28"/><line x1="193.06" y1="248.2" x2="193.06" y2="250.0"/><line x1="158.5" y1="213.29" x2="160.3" y2="213.29"/><line x1="195.04" y1="248.2" x2="195.04" y2="250.0"/><line x1="158.5" y1="211.66" x2="160.3" y2="211.66"/><line x1="196.66" y1="248.2" x2="196.66" y2="250.0"/><line x1="158.5" y1="210.28" x2="160.3" y2="210.28"/><line x1="198.03" y1="248.2" x2="198.03" y2="250.0"/><line x1="158.5" y1="209.09" x2="160.3" y2="209.09"/><line x1="199.22" y1="248.2" x2="199.22" y2="250.0"/><line x1="158.5" y1="208.04" x2="160.3" y2="208.04"/><line x1="200.26" y1="248.2" x2="200.26" y2="250.0"/><line x1="158.5" y1="200.91" x2="160.3" y2="200.91"/><line x1="207.36" y1="248.2" x2="207.36" y2="250.0"/><line x1="158.5" y1="197.30" x2="160.3" y2="197.30"/><line x1="210.96" y1="248.2" x2="210.96" y2="250.0"/><line x1="158.5" y1="194.73" x2="160.3" y2="194.73"/><line x1="213.51" y1="248.2" x2="213.51" y2="250.0"/><line x1="158.5" y1="192.74" x2="160.3" y2="192.74"/><line x1="215.49" y1="248.2" x2="215.49" y2="250.0"/><line x1="158.5" y1="191.11" x2="160.3" y2="191.11"/><line x1="217.11" y1="248.2" x2="217.11" y2="250.0"/><line x1="158.5" y1="189.73" x2="160.3" y2="189.73"/><line x1="218.48" y1="248.2" x2="218.48" y2="250.0"/><line x1="158.5" y1="188.54" x2="160.3" y2="188.54"/><line x1="219.67" y1="248.2" x2="219.67" y2="250.0"/><line x1="158.5" y1="187.49" x2="160.3" y2="187.49"/><line x1="220.71" y1="248.2" x2="220.71" y2="250.0"/><line x1="158.5" y1="180.36" x2="160.3" y2="180.36"/><line x1="227.81" y1="248.2" x2="227.81" y2="250.0"/><line x1="158.5" y1="176.75" x2="160.3" y2="176.75"/><line x1="231.41" y1="248.2" x2="231.41" y2="250.0"/><line x1="158.5" y1="174.18" x2="160.3" y2="174.18"/><line x1="233.96" y1="248.2" x2="233.96" y2="250.0"/><line x1="158.5" y1="172.19" x2="160.3" y2="172.19"/><line x1="235.94" y1="248.2" x2="235.94" y2="250.0"/><line x1="158.5" y1="170.56" x2="160.3" y2="170.56"/><line x1="237.56" y1="248.2" x2="237.56" y2="250.0"/><line x1="158.5" y1="169.18" x2="160.3" y2="169.18"/><line x1="238.93" y1="248.2" x2="238.93" y2="250.0"/><line x1="158.5" y1="167.99" x2="160.3" y2="167.99"/><line x1="240.12" y1="248.2" x2="240.12" y2="250.0"/><line x1="158.5" y1="166.94" x2="160.3" y2="166.94"/><line x1="241.16" y1="248.2" x2="241.16" y2="250.0"/></g>
<g stroke="#111" stroke-width="0.9"><line x1="157.0" y1="248.20" x2="160.3" y2="248.20"/><line x1="160.30" y1="248.2" x2="160.30" y2="251.2"/><line x1="157.0" y1="227.65" x2="160.3" y2="227.65"/><line x1="180.75" y1="248.2" x2="180.75" y2="251.2"/><line x1="157.0" y1="207.10" x2="160.3" y2="207.10"/><line x1="201.20" y1="248.2" x2="201.20" y2="251.2"/><line x1="157.0" y1="186.55" x2="160.3" y2="186.55"/><line x1="221.65" y1="248.2" x2="221.65" y2="251.2"/><line x1="157.0" y1="166.00" x2="160.3" y2="166.00"/><line x1="242.10" y1="248.2" x2="242.10" y2="251.2"/></g>
<text x="155.10" y="251.00" font-size="7.2" text-anchor="end" fill="#1a1a1a">10<tspan font-size="5" dy="-3">0</tspan></text>
<text x="161.60" y="260.50" font-size="7.2" text-anchor="middle" fill="#1a1a1a">10<tspan font-size="5" dy="-3">0</tspan></text>
<text x="155.10" y="230.45" font-size="7.2" text-anchor="end" fill="#1a1a1a">10<tspan font-size="5" dy="-3">1</tspan></text>
<text x="182.05" y="260.50" font-size="7.2" text-anchor="middle" fill="#1a1a1a">10<tspan font-size="5" dy="-3">1</tspan></text>
<text x="155.10" y="209.90" font-size="7.2" text-anchor="end" fill="#1a1a1a">10<tspan font-size="5" dy="-3">2</tspan></text>
<text x="202.50" y="260.50" font-size="7.2" text-anchor="middle" fill="#1a1a1a">10<tspan font-size="5" dy="-3">2</tspan></text>
<text x="155.10" y="189.35" font-size="7.2" text-anchor="end" fill="#1a1a1a">10<tspan font-size="5" dy="-3">3</tspan></text>
<text x="222.95" y="260.50" font-size="7.2" text-anchor="middle" fill="#1a1a1a">10<tspan font-size="5" dy="-3">3</tspan></text>
<text x="155.10" y="168.80" font-size="7.2" text-anchor="end" fill="#1a1a1a">10<tspan font-size="5" dy="-3">4</tspan></text>
<text x="243.40" y="260.50" font-size="7.2" text-anchor="middle" fill="#1a1a1a">10<tspan font-size="5" dy="-3">4</tspan></text>
<g fill="#333" clip-path="url(#c2)"><circle cx="186.5" cy="189.7" r="0.33"/><circle cx="183.0" cy="187.4" r="0.33"/><circle cx="189.2" cy="189.2" r="0.33"/><circle cx="190.1" cy="188.6" r="0.33"/><circle cx="185.1" cy="190.6" r="0.33"/><circle cx="187.1" cy="184.8" r="0.33"/><circle cx="183.5" cy="187.8" r="0.33"/><circle cx="186.2" cy="188.4" r="0.33"/><circle cx="186.8" cy="188.4" r="0.33"/><circle cx="186.1" cy="183.3" r="0.33"/><circle cx="189.0" cy="191.6" r="0.33"/><circle cx="189.1" cy="187.1" r="0.33"/><circle cx="189.1" cy="184.3" r="0.33"/><circle cx="176.9" cy="188.0" r="0.33"/><circle cx="182.0" cy="190.5" r="0.33"/><circle cx="181.2" cy="178.3" r="0.33"/><circle cx="181.4" cy="193.5" r="0.33"/><circle cx="184.8" cy="182.9" r="0.33"/><circle cx="182.8" cy="189.7" r="0.33"/><circle cx="189.4" cy="188.4" r="0.33"/><circle cx="194.5" cy="190.3" r="0.33"/><circle cx="186.7" cy="189.9" r="0.33"/><circle cx="195.4" cy="191.3" r="0.33"/><circle cx="192.1" cy="183.9" r="0.33"/><circle cx="186.0" cy="190.4" r="0.33"/><circle cx="185.3" cy="191.6" r="0.33"/><circle cx="189.9" cy="191.1" r="0.33"/><circle cx="185.7" cy="197.0" r="0.33"/><circle cx="193.2" cy="187.0" r="0.33"/><circle cx="187.3" cy="197.1" r="0.33"/><circle cx="185.0" cy="190.9" r="0.33"/><circle cx="191.9" cy="187.8" r="0.33"/><circle cx="180.7" cy="188.5" r="0.33"/><circle cx="188.7" cy="191.9" r="0.33"/><circle cx="190.9" cy="187.9" r="0.33"/><circle cx="191.2" cy="189.7" r="0.33"/><circle cx="187.9" cy="188.0" r="0.33"/><circle cx="185.5" cy="190.3" r="0.33"/><circle cx="181.3" cy="185.5" r="0.33"/><circle cx="186.8" cy="182.5" r="0.33"/><circle cx="184.5" cy="180.6" r="0.33"/><circle cx="183.2" cy="189.8" r="0.33"/><circle cx="189.7" cy="187.6" r="0.33"/><circle cx="185.6" cy="182.7" r="0.33"/><circle cx="196.3" cy="189.7" r="0.33"/><circle cx="192.5" cy="184.6" r="0.33"/><circle cx="185.8" cy="181.2" r="0.33"/><circle cx="190.9" cy="191.2" r="0.33"/><circle cx="176.9" cy="187.6" r="0.33"/><circle cx="190.1" cy="181.5" r="0.33"/><circle cx="177.3" cy="184.0" r="0.33"/><circle cx="183.5" cy="182.7" r="0.33"/><circle cx="187.0" cy="188.7" r="0.33"/><circle cx="190.1" cy="190.3" r="0.33"/><circle cx="194.6" cy="192.0" r="0.33"/><circle cx="180.0" cy="186.0" r="0.33"/><circle cx="181.3" cy="183.9" r="0.33"/><circle cx="186.4" cy="187.8" r="0.33"/><circle cx="189.3" cy="182.1" r="0.33"/><circle cx="180.4" cy="187.7" r="0.33"/><circle cx="185.8" cy="186.7" r="0.33"/><circle cx="186.5" cy="185.1" r="0.33"/><circle cx="190.4" cy="189.1" r="0.33"/><circle cx="186.3" cy="185.4" r="0.33"/><circle cx="185.9" cy="178.0" r="0.33"/><circle cx="181.7" cy="187.9" r="0.33"/><circle cx="179.0" cy="188.5" r="0.33"/><circle cx="187.6" cy="182.8" r="0.33"/><circle cx="185.5" cy="186.7" r="0.33"/><circle cx="189.2" cy="190.0" r="0.33"/><circle cx="186.6" cy="184.7" r="0.33"/><circle cx="186.0" cy="187.6" r="0.33"/><circle cx="190.6" cy="188.9" r="0.33"/><circle cx="183.0" cy="182.9" r="0.33"/><circle cx="184.9" cy="185.1" r="0.33"/><circle cx="181.0" cy="187.4" r="0.33"/><circle cx="184.2" cy="188.2" r="0.33"/><circle cx="189.5" cy="186.3" r="0.33"/><circle cx="198.9" cy="186.6" r="0.33"/><circle cx="192.5" cy="188.2" r="0.33"/><circle cx="192.6" cy="179.2" r="0.33"/><circle cx="182.9" cy="188.7" r="0.33"/><circle cx="189.9" cy="196.2" r="0.33"/><circle cx="188.5" cy="192.4" r="0.33"/><circle cx="190.8" cy="191.2" r="0.33"/><circle cx="189.5" cy="187.2" r="0.33"/><circle cx="189.4" cy="183.9" r="0.33"/><circle cx="192.9" cy="184.1" r="0.33"/><circle cx="188.1" cy="195.4" r="0.33"/><circle cx="185.6" cy="187.9" r="0.33"/><circle cx="192.8" cy="187.9" r="0.33"/><circle cx="182.6" cy="188.7" r="0.33"/><circle cx="189.8" cy="190.4" r="0.33"/><circle cx="182.8" cy="194.1" r="0.33"/><circle cx="195.5" cy="187.9" r="0.33"/><circle cx="188.2" cy="186.3" r="0.33"/><circle cx="194.2" cy="185.3" r="0.33"/><circle cx="190.3" cy="186.1" r="0.33"/><circle cx="183.2" cy="190.4" r="0.33"/><circle cx="193.7" cy="187.8" r="0.33"/><circle cx="183.3" cy="190.7" r="0.33"/><circle cx="186.5" cy="188.9" r="0.33"/><circle cx="194.7" cy="191.9" r="0.33"/><circle cx="184.1" cy="196.0" r="0.33"/><circle cx="186.8" cy="190.6" r="0.33"/><circle cx="183.4" cy="187.6" r="0.33"/><circle cx="177.7" cy="194.2" r="0.33"/><circle cx="193.9" cy="183.4" r="0.33"/><circle cx="179.0" cy="182.0" r="0.33"/><circle cx="192.9" cy="186.1" r="0.33"/><circle cx="186.5" cy="186.7" r="0.33"/><circle cx="186.2" cy="183.9" r="0.33"/><circle cx="186.9" cy="182.6" r="0.33"/><circle cx="186.4" cy="188.9" r="0.33"/><circle cx="189.2" cy="187.0" r="0.33"/><circle cx="182.1" cy="188.4" r="0.33"/><circle cx="184.3" cy="193.4" r="0.33"/><circle cx="190.8" cy="187.4" r="0.33"/><circle cx="184.4" cy="185.3" r="0.33"/><circle cx="181.9" cy="186.5" r="0.33"/><circle cx="188.3" cy="189.7" r="0.33"/><circle cx="189.8" cy="195.4" r="0.33"/><circle cx="183.1" cy="187.8" r="0.33"/><circle cx="201.3" cy="181.1" r="0.33"/><circle cx="184.1" cy="188.4" r="0.33"/><circle cx="187.6" cy="189.3" r="0.33"/><circle cx="185.6" cy="189.1" r="0.33"/><circle cx="187.1" cy="190.6" r="0.33"/><circle cx="177.0" cy="184.6" r="0.33"/><circle cx="186.8" cy="184.1" r="0.33"/><circle cx="181.4" cy="190.1" r="0.33"/><circle cx="183.4" cy="190.1" r="0.33"/><circle cx="190.7" cy="188.9" r="0.33"/><circle cx="189.4" cy="187.4" r="0.33"/><circle cx="179.5" cy="187.7" r="0.33"/><circle cx="189.2" cy="185.9" r="0.33"/><circle cx="186.3" cy="190.5" r="0.33"/><circle cx="182.2" cy="190.1" r="0.33"/><circle cx="196.5" cy="185.8" r="0.33"/><circle cx="187.6" cy="187.3" r="0.33"/><circle cx="194.8" cy="188.9" r="0.33"/><circle cx="191.5" cy="185.3" r="0.33"/><circle cx="186.7" cy="187.8" r="0.33"/><circle cx="177.6" cy="193.0" r="0.33"/><circle cx="191.5" cy="181.5" r="0.33"/><circle cx="190.7" cy="187.3" r="0.33"/><circle cx="189.1" cy="189.1" r="0.33"/><circle cx="179.0" cy="187.0" r="0.33"/><circle cx="194.6" cy="185.7" r="0.33"/><circle cx="181.5" cy="182.9" r="0.33"/><circle cx="180.5" cy="189.0" r="0.33"/><circle cx="195.6" cy="189.3" r="0.33"/><circle cx="188.1" cy="195.8" r="0.33"/><circle cx="184.1" cy="185.4" r="0.33"/><circle cx="189.5" cy="189.8" r="0.33"/><circle cx="181.5" cy="183.6" r="0.33"/><circle cx="188.3" cy="188.7" r="0.33"/><circle cx="180.0" cy="187.1" r="0.33"/><circle cx="184.0" cy="189.5" r="0.33"/><circle cx="186.2" cy="187.5" r="0.33"/><circle cx="185.0" cy="191.6" r="0.33"/><circle cx="194.0" cy="186.5" r="0.33"/><circle cx="191.2" cy="185.1" r="0.33"/><circle cx="187.2" cy="190.5" r="0.33"/><circle cx="194.7" cy="186.4" r="0.33"/><circle cx="186.4" cy="188.5" r="0.33"/><circle cx="179.0" cy="187.9" r="0.33"/><circle cx="183.3" cy="189.1" r="0.33"/><circle cx="180.9" cy="180.7" r="0.33"/><circle cx="187.0" cy="188.7" r="0.33"/><circle cx="183.9" cy="191.0" r="0.33"/><circle cx="185.4" cy="185.6" r="0.33"/><circle cx="189.3" cy="182.2" r="0.33"/><circle cx="183.3" cy="187.7" r="0.33"/><circle cx="191.2" cy="187.2" r="0.33"/><circle cx="188.4" cy="185.4" r="0.33"/><circle cx="188.4" cy="193.8" r="0.33"/><circle cx="183.2" cy="196.3" r="0.33"/><circle cx="183.5" cy="187.9" r="0.33"/><circle cx="187.7" cy="191.5" r="0.33"/><circle cx="180.4" cy="180.2" r="0.33"/><circle cx="190.0" cy="190.7" r="0.33"/><circle cx="190.0" cy="197.3" r="0.33"/><circle cx="187.9" cy="188.7" r="0.33"/><circle cx="191.6" cy="189.1" r="0.33"/><circle cx="195.5" cy="183.3" r="0.33"/><circle cx="184.8" cy="175.4" r="0.33"/><circle cx="191.0" cy="186.5" r="0.33"/><circle cx="191.6" cy="195.6" r="0.33"/><circle cx="186.8" cy="186.9" r="0.33"/><circle cx="184.2" cy="184.8" r="0.33"/><circle cx="183.5" cy="190.1" r="0.33"/><circle cx="187.0" cy="188.0" r="0.33"/><circle cx="185.9" cy="191.1" r="0.33"/><circle cx="189.4" cy="187.3" r="0.33"/><circle cx="190.3" cy="187.3" r="0.33"/><circle cx="180.8" cy="193.0" r="0.33"/><circle cx="189.2" cy="184.4" r="0.33"/><circle cx="192.4" cy="189.0" r="0.33"/><circle cx="178.7" cy="193.6" r="0.33"/><circle cx="188.5" cy="191.0" r="0.33"/><circle cx="187.8" cy="187.3" r="0.33"/><circle cx="178.7" cy="191.3" r="0.33"/><circle cx="187.0" cy="186.8" r="0.33"/><circle cx="188.6" cy="188.1" r="0.33"/><circle cx="190.3" cy="186.5" r="0.33"/><circle cx="186.6" cy="180.1" r="0.33"/><circle cx="184.6" cy="190.2" r="0.33"/><circle cx="193.8" cy="186.5" r="0.33"/><circle cx="186.2" cy="193.5" r="0.33"/><circle cx="185.1" cy="190.4" r="0.33"/><circle cx="195.5" cy="187.9" r="0.33"/><circle cx="193.2" cy="185.2" r="0.33"/><circle cx="187.9" cy="187.5" r="0.33"/><circle cx="187.4" cy="191.9" r="0.33"/><circle cx="199.2" cy="185.4" r="0.33"/><circle cx="183.8" cy="189.6" r="0.33"/><circle cx="181.3" cy="189.6" r="0.33"/><circle cx="189.8" cy="186.8" r="0.33"/><circle cx="189.6" cy="182.2" r="0.33"/><circle cx="190.8" cy="182.2" r="0.33"/><circle cx="183.2" cy="185.8" r="0.33"/><circle cx="184.7" cy="190.9" r="0.33"/><circle cx="187.2" cy="186.4" r="0.33"/><circle cx="189.6" cy="193.5" r="0.33"/><circle cx="186.8" cy="189.1" r="0.33"/><circle cx="193.2" cy="188.8" r="0.33"/><circle cx="180.1" cy="196.8" r="0.33"/><circle cx="198.3" cy="180.7" r="0.33"/><circle cx="186.6" cy="189.3" r="0.33"/><circle cx="191.8" cy="190.2" r="0.33"/><circle cx="185.4" cy="184.0" r="0.33"/><circle cx="187.3" cy="191.5" r="0.33"/><circle cx="181.1" cy="184.1" r="0.33"/><circle cx="186.7" cy="180.8" r="0.33"/><circle cx="185.4" cy="186.2" r="0.33"/><circle cx="189.1" cy="185.3" r="0.33"/><circle cx="182.2" cy="186.4" r="0.33"/><circle cx="186.5" cy="185.4" r="0.33"/><circle cx="186.9" cy="190.5" r="0.33"/><circle cx="193.0" cy="193.9" r="0.33"/><circle cx="182.7" cy="186.3" r="0.33"/><circle cx="173.9" cy="194.6" r="0.33"/><circle cx="183.0" cy="187.7" r="0.33"/><circle cx="189.5" cy="182.9" r="0.33"/><circle cx="189.2" cy="187.7" r="0.33"/><circle cx="177.3" cy="188.9" r="0.33"/><circle cx="193.0" cy="181.1" r="0.33"/><circle cx="191.0" cy="188.6" r="0.33"/><circle cx="189.3" cy="189.4" r="0.33"/><circle cx="193.6" cy="187.0" r="0.33"/><circle cx="191.3" cy="186.3" r="0.33"/><circle cx="190.6" cy="184.9" r="0.33"/><circle cx="186.2" cy="194.0" r="0.33"/><circle cx="189.1" cy="187.2" r="0.33"/><circle cx="180.8" cy="185.0" r="0.33"/><circle cx="187.8" cy="191.2" r="0.33"/><circle cx="189.0" cy="189.7" r="0.33"/><circle cx="186.6" cy="192.7" r="0.33"/><circle cx="184.8" cy="185.8" r="0.33"/></g>
<g fill="#777" clip-path="url(#c2)"><circle cx="196.0" cy="190.4" r="0.3"/><circle cx="185.5" cy="186.5" r="0.3"/><circle cx="185.7" cy="193.7" r="0.3"/><circle cx="191.2" cy="182.7" r="0.3"/><circle cx="191.8" cy="191.1" r="0.3"/><circle cx="179.0" cy="194.6" r="0.3"/><circle cx="185.5" cy="188.0" r="0.3"/><circle cx="195.2" cy="197.9" r="0.3"/><circle cx="181.8" cy="192.6" r="0.3"/><circle cx="180.1" cy="203.9" r="0.3"/><circle cx="183.6" cy="197.2" r="0.3"/><circle cx="182.2" cy="194.9" r="0.3"/><circle cx="208.0" cy="174.8" r="0.3"/><circle cx="184.1" cy="193.0" r="0.3"/><circle cx="187.2" cy="186.0" r="0.3"/><circle cx="207.4" cy="190.5" r="0.3"/><circle cx="173.2" cy="195.1" r="0.3"/><circle cx="172.5" cy="196.9" r="0.3"/><circle cx="182.8" cy="190.9" r="0.3"/><circle cx="199.3" cy="190.7" r="0.3"/><circle cx="175.5" cy="179.8" r="0.3"/><circle cx="198.6" cy="194.4" r="0.3"/><circle cx="180.7" cy="195.2" r="0.3"/><circle cx="192.5" cy="193.9" r="0.3"/><circle cx="167.7" cy="188.2" r="0.3"/><circle cx="196.1" cy="194.4" r="0.3"/><circle cx="195.9" cy="175.3" r="0.3"/><circle cx="189.5" cy="193.0" r="0.3"/><circle cx="211.0" cy="184.3" r="0.3"/><circle cx="185.0" cy="190.2" r="0.3"/><circle cx="196.0" cy="187.3" r="0.3"/><circle cx="198.3" cy="185.3" r="0.3"/><circle cx="190.4" cy="186.8" r="0.3"/><circle cx="189.4" cy="185.9" r="0.3"/><circle cx="173.6" cy="196.6" r="0.3"/><circle cx="190.7" cy="186.6" r="0.3"/><circle cx="189.8" cy="195.9" r="0.3"/><circle cx="179.2" cy="189.3" r="0.3"/><circle cx="192.9" cy="193.2" r="0.3"/><circle cx="185.0" cy="177.4" r="0.3"/><circle cx="199.2" cy="192.0" r="0.3"/><circle cx="188.1" cy="188.3" r="0.3"/><circle cx="190.4" cy="187.4" r="0.3"/><circle cx="178.8" cy="185.6" r="0.3"/><circle cx="182.6" cy="186.3" r="0.3"/><circle cx="177.6" cy="193.8" r="0.3"/><circle cx="176.2" cy="194.0" r="0.3"/><circle cx="178.9" cy="192.1" r="0.3"/><circle cx="200.4" cy="191.2" r="0.3"/><circle cx="181.4" cy="190.3" r="0.3"/><circle cx="189.3" cy="179.6" r="0.3"/><circle cx="182.5" cy="191.0" r="0.3"/><circle cx="183.8" cy="190.5" r="0.3"/><circle cx="194.6" cy="194.6" r="0.3"/><circle cx="196.2" cy="193.5" r="0.3"/><circle cx="185.4" cy="189.9" r="0.3"/><circle cx="185.6" cy="188.1" r="0.3"/><circle cx="186.4" cy="179.7" r="0.3"/><circle cx="185.0" cy="189.9" r="0.3"/><circle cx="179.2" cy="189.9" r="0.3"/><circle cx="192.6" cy="189.0" r="0.3"/><circle cx="206.7" cy="174.4" r="0.3"/><circle cx="186.1" cy="179.0" r="0.3"/><circle cx="196.8" cy="205.9" r="0.3"/><circle cx="165.5" cy="190.8" r="0.3"/><circle cx="192.7" cy="188.2" r="0.3"/><circle cx="193.0" cy="176.5" r="0.3"/><circle cx="195.7" cy="192.2" r="0.3"/><circle cx="188.2" cy="186.5" r="0.3"/><circle cx="193.7" cy="187.1" r="0.3"/><circle cx="190.0" cy="186.9" r="0.3"/><circle cx="167.8" cy="189.8" r="0.3"/><circle cx="189.8" cy="194.5" r="0.3"/><circle cx="180.1" cy="189.8" r="0.3"/><circle cx="193.6" cy="190.9" r="0.3"/><circle cx="199.2" cy="201.9" r="0.3"/><circle cx="179.8" cy="178.5" r="0.3"/><circle cx="195.7" cy="199.2" r="0.3"/><circle cx="196.3" cy="194.9" r="0.3"/><circle cx="182.4" cy="185.7" r="0.3"/><circle cx="196.0" cy="184.5" r="0.3"/><circle cx="171.7" cy="184.0" r="0.3"/><circle cx="210.4" cy="201.5" r="0.3"/><circle cx="181.8" cy="185.6" r="0.3"/><circle cx="190.1" cy="185.5" r="0.3"/><circle cx="199.8" cy="189.5" r="0.3"/><circle cx="178.2" cy="197.9" r="0.3"/><circle cx="182.8" cy="191.3" r="0.3"/><circle cx="187.9" cy="188.1" r="0.3"/><circle cx="190.9" cy="185.8" r="0.3"/><circle cx="171.4" cy="176.8" r="0.3"/><circle cx="176.6" cy="185.4" r="0.3"/><circle cx="187.8" cy="190.3" r="0.3"/><circle cx="193.0" cy="190.7" r="0.3"/><circle cx="180.9" cy="185.7" r="0.3"/><circle cx="168.9" cy="189.0" r="0.3"/><circle cx="192.4" cy="193.2" r="0.3"/><circle cx="186.9" cy="189.0" r="0.3"/><circle cx="196.4" cy="190.1" r="0.3"/><circle cx="194.6" cy="193.5" r="0.3"/><circle cx="189.9" cy="197.8" r="0.3"/><circle cx="182.8" cy="187.8" r="0.3"/><circle cx="180.7" cy="185.2" r="0.3"/><circle cx="202.0" cy="200.6" r="0.3"/><circle cx="188.2" cy="193.4" r="0.3"/><circle cx="198.6" cy="194.8" r="0.3"/><circle cx="198.8" cy="182.4" r="0.3"/><circle cx="182.2" cy="192.7" r="0.3"/><circle cx="200.9" cy="190.6" r="0.3"/><circle cx="180.3" cy="187.9" r="0.3"/><circle cx="182.1" cy="184.9" r="0.3"/><circle cx="201.5" cy="186.2" r="0.3"/><circle cx="188.2" cy="203.0" r="0.3"/><circle cx="198.7" cy="192.0" r="0.3"/><circle cx="182.5" cy="192.5" r="0.3"/><circle cx="202.6" cy="193.7" r="0.3"/><circle cx="199.4" cy="190.6" r="0.3"/><circle cx="192.6" cy="188.8" r="0.3"/><circle cx="191.8" cy="197.8" r="0.3"/><circle cx="175.1" cy="189.6" r="0.3"/></g>
<g fill="#555" clip-path="url(#c2)"><circle cx="199.7" cy="212.3" r="0.32"/><circle cx="200.6" cy="223.3" r="0.32"/><circle cx="218.9" cy="209.1" r="0.32"/><circle cx="196.4" cy="206.2" r="0.32"/><circle cx="216.1" cy="206.4" r="0.32"/><circle cx="195.2" cy="210.8" r="0.32"/><circle cx="195.1" cy="211.0" r="0.32"/><circle cx="202.5" cy="219.3" r="0.32"/><circle cx="201.4" cy="218.4" r="0.32"/><circle cx="198.8" cy="230.1" r="0.32"/><circle cx="195.4" cy="213.7" r="0.32"/><circle cx="190.3" cy="220.8" r="0.32"/><circle cx="197.6" cy="208.6" r="0.32"/><circle cx="204.6" cy="226.0" r="0.32"/><circle cx="205.0" cy="212.2" r="0.32"/><circle cx="200.6" cy="215.6" r="0.32"/><circle cx="202.5" cy="221.5" r="0.32"/><circle cx="189.6" cy="203.7" r="0.32"/><circle cx="196.3" cy="212.0" r="0.32"/><circle cx="202.9" cy="209.8" r="0.32"/><circle cx="210.0" cy="228.6" r="0.32"/><circle cx="186.1" cy="229.9" r="0.32"/><circle cx="190.3" cy="229.0" r="0.32"/><circle cx="192.2" cy="219.3" r="0.32"/><circle cx="208.2" cy="222.9" r="0.32"/><circle cx="220.0" cy="211.8" r="0.32"/><circle cx="201.9" cy="217.2" r="0.32"/><circle cx="220.5" cy="214.9" r="0.32"/><circle cx="199.3" cy="221.4" r="0.32"/><circle cx="202.6" cy="215.7" r="0.32"/><circle cx="212.2" cy="213.1" r="0.32"/><circle cx="195.7" cy="231.9" r="0.32"/><circle cx="199.6" cy="200.9" r="0.32"/><circle cx="218.3" cy="211.1" r="0.32"/><circle cx="212.0" cy="198.1" r="0.32"/><circle cx="206.0" cy="216.4" r="0.32"/><circle cx="202.3" cy="216.8" r="0.32"/><circle cx="202.6" cy="202.4" r="0.32"/><circle cx="193.0" cy="216.7" r="0.32"/><circle cx="204.1" cy="216.4" r="0.32"/><circle cx="197.5" cy="212.9" r="0.32"/><circle cx="200.2" cy="225.0" r="0.32"/><circle cx="206.7" cy="213.2" r="0.32"/><circle cx="203.6" cy="227.8" r="0.32"/><circle cx="197.7" cy="224.1" r="0.32"/><circle cx="208.4" cy="208.9" r="0.32"/><circle cx="202.3" cy="205.9" r="0.32"/><circle cx="209.1" cy="212.3" r="0.32"/><circle cx="189.7" cy="229.9" r="0.32"/><circle cx="197.8" cy="229.5" r="0.32"/><circle cx="193.8" cy="219.9" r="0.32"/><circle cx="201.0" cy="213.5" r="0.32"/><circle cx="199.9" cy="212.3" r="0.32"/><circle cx="205.5" cy="213.2" r="0.32"/><circle cx="190.7" cy="200.0" r="0.32"/><circle cx="209.6" cy="210.5" r="0.32"/><circle cx="185.8" cy="227.8" r="0.32"/><circle cx="208.1" cy="220.5" r="0.32"/><circle cx="197.3" cy="232.1" r="0.32"/><circle cx="208.3" cy="231.6" r="0.32"/><circle cx="201.5" cy="221.7" r="0.32"/><circle cx="192.5" cy="212.7" r="0.32"/><circle cx="212.6" cy="215.9" r="0.32"/><circle cx="216.0" cy="213.1" r="0.32"/><circle cx="192.0" cy="216.9" r="0.32"/><circle cx="195.7" cy="225.0" r="0.32"/><circle cx="201.6" cy="213.6" r="0.32"/><circle cx="200.8" cy="215.2" r="0.32"/><circle cx="204.8" cy="220.1" r="0.32"/><circle cx="205.1" cy="207.6" r="0.32"/><circle cx="193.4" cy="233.8" r="0.32"/><circle cx="205.4" cy="222.7" r="0.32"/><circle cx="185.2" cy="224.5" r="0.32"/><circle cx="194.4" cy="208.6" r="0.32"/><circle cx="198.7" cy="224.1" r="0.32"/><circle cx="215.2" cy="220.0" r="0.32"/><circle cx="208.0" cy="219.4" r="0.32"/><circle cx="196.4" cy="208.4" r="0.32"/><circle cx="209.6" cy="217.1" r="0.32"/><circle cx="202.6" cy="211.0" r="0.32"/><circle cx="205.7" cy="219.8" r="0.32"/><circle cx="204.6" cy="217.9" r="0.32"/><circle cx="203.7" cy="222.0" r="0.32"/><circle cx="194.9" cy="219.9" r="0.32"/><circle cx="199.8" cy="222.0" r="0.32"/><circle cx="212.1" cy="206.4" r="0.32"/><circle cx="223.0" cy="214.0" r="0.32"/><circle cx="208.8" cy="215.8" r="0.32"/><circle cx="213.8" cy="205.8" r="0.32"/><circle cx="194.8" cy="211.5" r="0.32"/><circle cx="209.3" cy="222.0" r="0.32"/><circle cx="206.1" cy="216.4" r="0.32"/><circle cx="199.0" cy="219.1" r="0.32"/><circle cx="192.5" cy="231.2" r="0.32"/><circle cx="192.2" cy="213.0" r="0.32"/><circle cx="211.3" cy="218.2" r="0.32"/><circle cx="192.6" cy="230.1" r="0.32"/><circle cx="204.9" cy="208.6" r="0.32"/><circle cx="184.8" cy="221.3" r="0.32"/><circle cx="196.2" cy="222.6" r="0.32"/><circle cx="188.9" cy="207.4" r="0.32"/><circle cx="195.8" cy="206.9" r="0.32"/><circle cx="202.6" cy="204.9" r="0.32"/><circle cx="200.8" cy="227.6" r="0.32"/><circle cx="209.4" cy="215.6" r="0.32"/><circle cx="196.4" cy="206.3" r="0.32"/><circle cx="193.5" cy="216.8" r="0.32"/><circle cx="194.0" cy="225.5" r="0.32"/><circle cx="210.2" cy="221.2" r="0.32"/><circle cx="197.5" cy="210.4" r="0.32"/><circle cx="178.5" cy="233.5" r="0.32"/><circle cx="211.2" cy="211.7" r="0.32"/><circle cx="213.5" cy="220.2" r="0.32"/><circle cx="207.5" cy="208.0" r="0.32"/><circle cx="211.7" cy="215.4" r="0.32"/><circle cx="185.8" cy="223.5" r="0.32"/><circle cx="187.9" cy="224.5" r="0.32"/><circle cx="200.4" cy="207.6" r="0.32"/><circle cx="188.4" cy="236.2" r="0.32"/><circle cx="209.0" cy="223.3" r="0.32"/><circle cx="193.4" cy="230.7" r="0.32"/><circle cx="225.0" cy="216.6" r="0.32"/><circle cx="199.4" cy="219.7" r="0.32"/><circle cx="202.7" cy="223.6" r="0.32"/><circle cx="208.9" cy="211.5" r="0.32"/><circle cx="191.8" cy="229.0" r="0.32"/><circle cx="198.7" cy="223.3" r="0.32"/><circle cx="208.7" cy="224.8" r="0.32"/><circle cx="207.5" cy="207.9" r="0.32"/><circle cx="209.9" cy="225.1" r="0.32"/><circle cx="197.3" cy="222.6" r="0.32"/><circle cx="214.8" cy="217.4" r="0.32"/><circle cx="198.9" cy="206.5" r="0.32"/><circle cx="190.7" cy="225.7" r="0.32"/><circle cx="213.4" cy="229.4" r="0.32"/><circle cx="197.5" cy="228.5" r="0.32"/><circle cx="199.6" cy="203.0" r="0.32"/><circle cx="194.0" cy="222.6" r="0.32"/><circle cx="195.3" cy="218.9" r="0.32"/><circle cx="200.6" cy="209.7" r="0.32"/><circle cx="201.3" cy="210.7" r="0.32"/><circle cx="197.7" cy="223.2" r="0.32"/><circle cx="196.5" cy="221.9" r="0.32"/><circle cx="213.2" cy="208.0" r="0.32"/><circle cx="201.8" cy="222.1" r="0.32"/><circle cx="201.4" cy="225.3" r="0.32"/><circle cx="192.0" cy="227.9" r="0.32"/><circle cx="192.6" cy="215.4" r="0.32"/><circle cx="211.1" cy="202.0" r="0.32"/><circle cx="217.0" cy="210.7" r="0.32"/><circle cx="208.0" cy="203.1" r="0.32"/><circle cx="215.7" cy="218.5" r="0.32"/><circle cx="198.5" cy="216.9" r="0.32"/><circle cx="220.8" cy="203.9" r="0.32"/><circle cx="194.0" cy="215.8" r="0.32"/><circle cx="205.0" cy="216.3" r="0.32"/><circle cx="208.4" cy="225.9" r="0.32"/><circle cx="199.2" cy="221.6" r="0.32"/><circle cx="207.9" cy="202.9" r="0.32"/><circle cx="215.9" cy="221.5" r="0.32"/><circle cx="184.5" cy="218.5" r="0.32"/><circle cx="196.3" cy="203.8" r="0.32"/><circle cx="209.9" cy="222.5" r="0.32"/><circle cx="185.5" cy="224.4" r="0.32"/><circle cx="187.4" cy="232.5" r="0.32"/><circle cx="192.9" cy="219.7" r="0.32"/><circle cx="202.6" cy="219.8" r="0.32"/><circle cx="197.2" cy="219.1" r="0.32"/><circle cx="196.0" cy="220.8" r="0.32"/><circle cx="190.7" cy="224.1" r="0.32"/><circle cx="182.2" cy="225.3" r="0.32"/><circle cx="216.0" cy="206.5" r="0.32"/><circle cx="190.7" cy="225.7" r="0.32"/><circle cx="196.9" cy="225.4" r="0.32"/><circle cx="202.8" cy="214.2" r="0.32"/><circle cx="212.0" cy="210.7" r="0.32"/><circle cx="198.7" cy="239.1" r="0.32"/><circle cx="190.3" cy="223.1" r="0.32"/><circle cx="201.1" cy="214.9" r="0.32"/><circle cx="192.2" cy="210.7" r="0.32"/><circle cx="198.2" cy="232.7" r="0.32"/><circle cx="197.2" cy="226.2" r="0.32"/><circle cx="185.0" cy="225.1" r="0.32"/><circle cx="206.3" cy="221.4" r="0.32"/><circle cx="193.2" cy="226.9" r="0.32"/><circle cx="200.2" cy="210.6" r="0.32"/><circle cx="200.3" cy="209.1" r="0.32"/><circle cx="193.4" cy="221.5" r="0.32"/><circle cx="177.3" cy="231.9" r="0.32"/><circle cx="199.6" cy="223.8" r="0.32"/><circle cx="201.8" cy="226.6" r="0.32"/><circle cx="214.3" cy="210.4" r="0.32"/><circle cx="204.4" cy="206.8" r="0.32"/><circle cx="207.6" cy="213.9" r="0.32"/><circle cx="205.4" cy="213.4" r="0.32"/><circle cx="207.3" cy="206.4" r="0.32"/><circle cx="206.5" cy="206.1" r="0.32"/><circle cx="187.7" cy="217.6" r="0.32"/><circle cx="195.1" cy="215.1" r="0.32"/><circle cx="191.6" cy="214.7" r="0.32"/><circle cx="198.5" cy="214.1" r="0.32"/><circle cx="201.9" cy="217.8" r="0.32"/><circle cx="194.0" cy="202.5" r="0.32"/><circle cx="192.4" cy="215.5" r="0.32"/><circle cx="200.0" cy="203.5" r="0.32"/><circle cx="193.0" cy="219.4" r="0.32"/><circle cx="201.2" cy="224.6" r="0.32"/><circle cx="200.2" cy="225.1" r="0.32"/><circle cx="211.7" cy="212.5" r="0.32"/><circle cx="204.5" cy="214.9" r="0.32"/><circle cx="199.1" cy="207.3" r="0.32"/><circle cx="205.6" cy="208.5" r="0.32"/><circle cx="208.4" cy="211.8" r="0.32"/><circle cx="178.7" cy="220.9" r="0.32"/><circle cx="208.7" cy="209.7" r="0.32"/><circle cx="197.7" cy="220.7" r="0.32"/><circle cx="194.3" cy="216.3" r="0.32"/></g>
<g fill="#999" clip-path="url(#c2)"><circle cx="217.0" cy="207.0" r="0.3"/><circle cx="245.3" cy="205.6" r="0.3"/><circle cx="252.6" cy="230.2" r="0.3"/><circle cx="249.3" cy="219.9" r="0.3"/><circle cx="217.6" cy="206.9" r="0.3"/><circle cx="212.1" cy="194.8" r="0.3"/><circle cx="213.7" cy="196.0" r="0.3"/><circle cx="247.8" cy="212.5" r="0.3"/><circle cx="206.1" cy="178.2" r="0.3"/><circle cx="213.9" cy="199.2" r="0.3"/><circle cx="193.3" cy="189.1" r="0.3"/><circle cx="170.0" cy="213.0" r="0.3"/><circle cx="213.7" cy="241.1" r="0.3"/><circle cx="214.4" cy="202.9" r="0.3"/><circle cx="243.9" cy="206.9" r="0.3"/><circle cx="218.3" cy="199.8" r="0.3"/><circle cx="202.9" cy="226.0" r="0.3"/><circle cx="235.0" cy="229.0" r="0.3"/><circle cx="208.0" cy="205.4" r="0.3"/><circle cx="197.4" cy="218.5" r="0.3"/><circle cx="236.9" cy="224.8" r="0.3"/><circle cx="196.2" cy="220.3" r="0.3"/><circle cx="200.7" cy="194.4" r="0.3"/><circle cx="188.5" cy="221.2" r="0.3"/><circle cx="248.0" cy="196.7" r="0.3"/><circle cx="199.8" cy="200.3" r="0.3"/><circle cx="265.1" cy="219.1" r="0.3"/><circle cx="204.1" cy="179.9" r="0.3"/><circle cx="201.5" cy="221.6" r="0.3"/><circle cx="252.4" cy="201.3" r="0.3"/><circle cx="201.2" cy="197.9" r="0.3"/><circle cx="177.3" cy="217.7" r="0.3"/><circle cx="193.3" cy="219.9" r="0.3"/><circle cx="180.8" cy="187.2" r="0.3"/><circle cx="220.8" cy="194.3" r="0.3"/><circle cx="230.6" cy="205.1" r="0.3"/><circle cx="191.5" cy="213.7" r="0.3"/><circle cx="231.8" cy="178.2" r="0.3"/><circle cx="251.5" cy="212.0" r="0.3"/><circle cx="230.2" cy="179.0" r="0.3"/><circle cx="200.6" cy="200.1" r="0.3"/><circle cx="236.5" cy="184.6" r="0.3"/><circle cx="197.3" cy="176.6" r="0.3"/><circle cx="210.2" cy="209.8" r="0.3"/><circle cx="181.3" cy="196.7" r="0.3"/><circle cx="225.2" cy="227.2" r="0.3"/><circle cx="228.3" cy="200.7" r="0.3"/><circle cx="191.4" cy="191.9" r="0.3"/><circle cx="201.7" cy="207.1" r="0.3"/><circle cx="214.0" cy="228.3" r="0.3"/><circle cx="220.7" cy="190.0" r="0.3"/><circle cx="245.9" cy="218.3" r="0.3"/><circle cx="217.0" cy="194.9" r="0.3"/><circle cx="177.6" cy="190.7" r="0.3"/><circle cx="233.2" cy="193.8" r="0.3"/><circle cx="188.6" cy="207.7" r="0.3"/><circle cx="219.9" cy="213.5" r="0.3"/><circle cx="228.1" cy="224.7" r="0.3"/><circle cx="198.2" cy="218.7" r="0.3"/><circle cx="195.3" cy="214.7" r="0.3"/><circle cx="218.6" cy="208.4" r="0.3"/><circle cx="234.4" cy="204.8" r="0.3"/><circle cx="237.2" cy="217.3" r="0.3"/><circle cx="217.7" cy="197.1" r="0.3"/><circle cx="199.9" cy="197.6" r="0.3"/><circle cx="211.0" cy="204.7" r="0.3"/><circle cx="274.6" cy="213.9" r="0.3"/><circle cx="230.4" cy="193.0" r="0.3"/><circle cx="200.8" cy="200.5" r="0.3"/><circle cx="218.8" cy="190.5" r="0.3"/><circle cx="247.2" cy="197.1" r="0.3"/><circle cx="236.6" cy="172.3" r="0.3"/><circle cx="214.9" cy="208.9" r="0.3"/><circle cx="218.8" cy="213.4" r="0.3"/><circle cx="220.6" cy="207.3" r="0.3"/><circle cx="177.1" cy="195.0" r="0.3"/><circle cx="168.1" cy="213.8" r="0.3"/><circle cx="221.1" cy="202.3" r="0.3"/><circle cx="198.6" cy="196.9" r="0.3"/></g>
<ellipse cx="186.8" cy="187.6" rx="6.6" ry="4.3" transform="rotate(-6 186.8 187.6)" fill="#444" stroke="#222" stroke-width="0.6"/>
<ellipse cx="186.9" cy="187.6" rx="5.0" ry="3.0" transform="rotate(-6 186.9 187.6)" fill="#fff" stroke="#111" stroke-width="0.6"/>
<g clip-path="url(#c2)"><ellipse cx="203.40" cy="211.30" rx="8.60" ry="5.20" transform="rotate(-8 203.40 211.30)" fill="#bbb" stroke="#1a1a1a" stroke-width="0.7"/><ellipse cx="203.50" cy="211.31" rx="7.81" ry="4.73" transform="rotate(-8 203.50 211.31)" fill="#eee" stroke="#1a1a1a" stroke-width="0.7"/><ellipse cx="203.64" cy="211.33" rx="6.62" ry="4.03" transform="rotate(-8 203.64 211.33)" fill="#fff" stroke="#1a1a1a" stroke-width="0.7"/><ellipse cx="203.80" cy="211.35" rx="5.30" ry="3.25" transform="rotate(-8 203.80 211.35)" fill="#fff" stroke="#1a1a1a" stroke-width="0.7"/><ellipse cx="203.98" cy="211.37" rx="3.85" ry="2.39" transform="rotate(-8 203.98 211.37)" fill="#fff" stroke="#1a1a1a" stroke-width="0.7"/><ellipse cx="204.20" cy="211.40" rx="2.00" ry="1.30" transform="rotate(-8 204.20 211.40)" fill="#fff" stroke="#1a1a1a" stroke-width="0.7"/></g>
<path d="M210.5 208.2L215.8 214M210.5 214L215.8 208.2" stroke="#333" stroke-width="0.6"/>
<g clip-path="url(#c2)"><ellipse cx="225.70" cy="206.90" rx="11.60" ry="6.90" transform="rotate(-31 225.70 206.90)" fill="#bbb" stroke="#1a1a1a" stroke-width="0.6"/><ellipse cx="225.74" cy="206.88" rx="10.59" ry="6.30" transform="rotate(-31 225.74 206.88)" fill="#999" stroke="#1a1a1a" stroke-width="0.6"/><ellipse cx="225.78" cy="206.86" rx="9.58" ry="5.70" transform="rotate(-31 225.78 206.86)" fill="#777" stroke="#1a1a1a" stroke-width="0.6"/><ellipse cx="225.82" cy="206.84" rx="8.57" ry="5.10" transform="rotate(-31 225.82 206.84)" fill="#555" stroke="#1a1a1a" stroke-width="0.6"/><ellipse cx="225.86" cy="206.82" rx="7.56" ry="4.50" transform="rotate(-31 225.86 206.82)" fill="#333" stroke="#1a1a1a" stroke-width="0.6"/><ellipse cx="225.90" cy="206.80" rx="6.55" ry="3.90" transform="rotate(-31 225.90 206.80)" fill="#222" stroke="#1a1a1a" stroke-width="0.6"/><ellipse cx="225.94" cy="206.78" rx="5.54" ry="3.30" transform="rotate(-31 225.94 206.78)" fill="#111" stroke="#1a1a1a" stroke-width="0.6"/><ellipse cx="225.98" cy="206.76" rx="4.53" ry="2.70" transform="rotate(-31 225.98 206.76)" fill="#111" stroke="#1a1a1a" stroke-width="0.6"/><ellipse cx="226.02" cy="206.74" rx="3.52" ry="2.10" transform="rotate(-31 226.02 206.74)" fill="#1a1a1a" stroke="#1a1a1a" stroke-width="0.6"/><ellipse cx="226.06" cy="206.72" rx="2.51" ry="1.50" transform="rotate(-31 226.06 206.72)" fill="#333" stroke="#1a1a1a" stroke-width="0.6"/></g>
<circle cx="226.1" cy="206.7" r="0.7" fill="#fff"/>
<path d="M160.3 166.0H242.1V248.2" fill="none" stroke="#111" stroke-width="1.2"/>
<path d="M160.3 165.5V248.2H242.6" fill="none" stroke="#111" stroke-width="1.5"/>
<rect x="174.4" y="179.4" width="36.19" height="25.0" fill="none" stroke="#2a2a2a" stroke-width="0.85"/>
<text x="174.2" y="215.60" font-size="8.6" text-anchor="start" fill="#000" font-weight="bold" textLength="15.60" lengthAdjust="spacingAndGlyphs" >4.06</text>
<clipPath id="c3"><rect x="51.5" y="271.8" width="81.9" height="82.0"/></clipPath>
<g stroke="#111" stroke-width="0.6"><line x1="49.7" y1="347.63" x2="51.5" y2="347.63"/><line x1="57.66" y1="353.8" x2="57.66" y2="355.6"/><line x1="49.7" y1="344.02" x2="51.5" y2="344.02"/><line x1="61.27" y1="353.8" x2="61.27" y2="355.6"/><line x1="49.7" y1="341.46" x2="51.5" y2="341.46"/><line x1="63.83" y1="353.8" x2="63.83" y2="355.6"/><line x1="49.7" y1="339.47" x2="51.5" y2="339.47"/><line x1="65.81" y1="353.8" x2="65.81" y2="355.6"/><line x1="49.7" y1="337.85" x2="51.5" y2="337.85"/><line x1="67.43" y1="353.8" x2="67.43" y2="355.6"/><line x1="49.7" y1="336.48" x2="51.5" y2="336.48"/><line x1="68.80" y1="353.8" x2="68.80" y2="355.6"/><line x1="49.7" y1="335.29" x2="51.5" y2="335.29"/><line x1="69.99" y1="353.8" x2="69.99" y2="355.6"/><line x1="49.7" y1="334.24" x2="51.5" y2="334.24"/><line x1="71.04" y1="353.8" x2="71.04" y2="355.6"/><line x1="49.7" y1="327.13" x2="51.5" y2="327.13"/><line x1="78.14" y1="353.8" x2="78.14" y2="355.6"/><line x1="49.7" y1="323.52" x2="51.5" y2="323.52"/><line x1="81.74" y1="353.8" x2="81.74" y2="355.6"/><line x1="49.7" y1="320.96" x2="51.5" y2="320.96"/><line x1="84.30" y1="353.8" x2="84.30" y2="355.6"/><line x1="49.7" y1="318.97" x2="51.5" y2="318.97"/><line x1="86.29" y1="353.8" x2="86.29" y2="355.6"/><line x1="49.7" y1="317.35" x2="51.5" y2="317.35"/><line x1="87.91" y1="353.8" x2="87.91" y2="355.6"/><line x1="49.7" y1="315.98" x2="51.5" y2="315.98"/><line x1="89.28" y1="353.8" x2="89.28" y2="355.6"/><line x1="49.7" y1="314.79" x2="51.5" y2="314.79"/><line x1="90.47" y1="353.8" x2="90.47" y2="355.6"/><line x1="49.7" y1="313.74" x2="51.5" y2="313.74"/><line x1="91.51" y1="353.8" x2="91.51" y2="355.6"/><line x1="49.7" y1="306.63" x2="51.5" y2="306.63"/><line x1="98.61" y1="353.8" x2="98.61" y2="355.6"/><line x1="49.7" y1="303.02" x2="51.5" y2="303.02"/><line x1="102.22" y1="353.8" x2="102.22" y2="355.6"/><line x1="49.7" y1="300.46" x2="51.5" y2="300.46"/><line x1="104.78" y1="353.8" x2="104.78" y2="355.6"/><line x1="49.7" y1="298.47" x2="51.5" y2="298.47"/><line x1="106.76" y1="353.8" x2="106.76" y2="355.6"/><line x1="49.7" y1="296.85" x2="51.5" y2="296.85"/><line x1="108.38" y1="353.8" x2="108.38" y2="355.6"/><line x1="49.7" y1="295.48" x2="51.5" y2="295.48"/><line x1="109.75" y1="353.8" x2="109.75" y2="355.6"/><line x1="49.7" y1="294.29" x2="51.5" y2="294.29"/><line x1="110.94" y1="353.8" x2="110.94" y2="355.6"/><line x1="49.7" y1="293.24" x2="51.5" y2="293.24"/><line x1="111.99" y1="353.8" x2="111.99" y2="355.6"/><line x1="49.7" y1="286.13" x2="51.5" y2="286.13"/><line x1="119.09" y1="353.8" x2="119.09" y2="355.6"/><line x1="49.7" y1="282.52" x2="51.5" y2="282.52"/><line x1="122.69" y1="353.8" x2="122.69" y2="355.6"/><line x1="49.7" y1="279.96" x2="51.5" y2="279.96"/><line x1="125.25" y1="353.8" x2="125.25" y2="355.6"/><line x1="49.7" y1="277.97" x2="51.5" y2="277.97"/><line x1="127.24" y1="353.8" x2="127.24" y2="355.6"/><line x1="49.7" y1="276.35" x2="51.5" y2="276.35"/><line x1="128.86" y1="353.8" x2="128.86" y2="355.6"/><line x1="49.7" y1="274.98" x2="51.5" y2="274.98"/><line x1="130.23" y1="353.8" x2="130.23" y2="355.6"/><line x1="49.7" y1="273.79" x2="51.5" y2="273.79"/><line x1="131.42" y1="353.8" x2="131.42" y2="355.6"/><line x1="49.7" y1="272.74" x2="51.5" y2="272.74"/><line x1="132.46" y1="353.8" x2="132.46" y2="355.6"/></g>
<g stroke="#111" stroke-width="0.9"><line x1="48.2" y1="353.80" x2="51.5" y2="353.80"/><line x1="51.50" y1="353.8" x2="51.50" y2="356.8"/><line x1="48.2" y1="333.30" x2="51.5" y2="333.30"/><line x1="71.97" y1="353.8" x2="71.97" y2="356.8"/><line x1="48.2" y1="312.80" x2="51.5" y2="312.80"/><line x1="92.45" y1="353.8" x2="92.45" y2="356.8"/><line x1="48.2" y1="292.30" x2="51.5" y2="292.30"/><line x1="112.93" y1="353.8" x2="112.93" y2="356.8"/><line x1="48.2" y1="271.80" x2="51.5" y2="271.80"/><line x1="133.40" y1="353.8" x2="133.40" y2="356.8"/></g>
<text x="46.3" y="356.60" font-size="7.2" text-anchor="end" fill="#1a1a1a">10<tspan font-size="5" dy="-3">0</tspan></text>
<text x="52.80" y="366.10" font-size="7.2" text-anchor="middle" fill="#1a1a1a">10<tspan font-size="5" dy="-3">0</tspan></text>
<text x="46.3" y="336.10" font-size="7.2" text-anchor="end" fill="#1a1a1a">10<tspan font-size="5" dy="-3">1</tspan></text>
<text x="73.27" y="366.10" font-size="7.2" text-anchor="middle" fill="#1a1a1a">10<tspan font-size="5" dy="-3">1</tspan></text>
<text x="46.3" y="315.60" font-size="7.2" text-anchor="end" fill="#1a1a1a">10<tspan font-size="5" dy="-3">2</tspan></text>
<text x="93.75" y="366.10" font-size="7.2" text-anchor="middle" fill="#1a1a1a">10<tspan font-size="5" dy="-3">2</tspan></text>
<text x="46.3" y="295.10" font-size="7.2" text-anchor="end" fill="#1a1a1a">10<tspan font-size="5" dy="-3">3</tspan></text>
<text x="114.23" y="366.10" font-size="7.2" text-anchor="middle" fill="#1a1a1a">10<tspan font-size="5" dy="-3">3</tspan></text>
<text x="46.3" y="274.60" font-size="7.2" text-anchor="end" fill="#1a1a1a">10<tspan font-size="5" dy="-3">4</tspan></text>
<text x="134.70" y="366.10" font-size="7.2" text-anchor="middle" fill="#1a1a1a">10<tspan font-size="5" dy="-3">4</tspan></text>
<g fill="#666" clip-path="url(#c3)"><circle cx="94.8" cy="304.7" r="0.32"/><circle cx="80.6" cy="302.4" r="0.32"/><circle cx="69.1" cy="286.3" r="0.32"/><circle cx="77.4" cy="291.6" r="0.32"/><circle cx="76.8" cy="296.9" r="0.32"/><circle cx="103.7" cy="292.7" r="0.32"/><circle cx="81.4" cy="297.4" r="0.32"/><circle cx="80.7" cy="300.7" r="0.32"/><circle cx="94.3" cy="289.8" r="0.32"/><circle cx="82.2" cy="294.7" r="0.32"/><circle cx="83.7" cy="288.3" r="0.32"/><circle cx="67.8" cy="284.4" r="0.32"/><circle cx="84.9" cy="297.0" r="0.32"/><circle cx="81.6" cy="284.2" r="0.32"/><circle cx="78.2" cy="292.2" r="0.32"/><circle cx="70.4" cy="291.4" r="0.32"/><circle cx="86.2" cy="298.7" r="0.32"/><circle cx="80.8" cy="298.6" r="0.32"/><circle cx="76.5" cy="296.4" r="0.32"/><circle cx="81.3" cy="298.8" r="0.32"/><circle cx="80.5" cy="295.3" r="0.32"/><circle cx="80.0" cy="292.8" r="0.32"/><circle cx="97.8" cy="298.6" r="0.32"/><circle cx="84.2" cy="307.5" r="0.32"/><circle cx="91.5" cy="288.2" r="0.32"/><circle cx="86.2" cy="300.2" r="0.32"/><circle cx="95.1" cy="302.6" r="0.32"/><circle cx="86.8" cy="290.1" r="0.32"/><circle cx="74.5" cy="297.3" r="0.32"/><circle cx="84.8" cy="290.9" r="0.32"/><circle cx="78.1" cy="294.0" r="0.32"/><circle cx="81.5" cy="297.7" r="0.32"/><circle cx="78.8" cy="289.8" r="0.32"/><circle cx="90.3" cy="304.0" r="0.32"/><circle cx="80.2" cy="301.1" r="0.32"/><circle cx="84.3" cy="299.3" r="0.32"/><circle cx="84.6" cy="292.2" r="0.32"/><circle cx="85.3" cy="301.1" r="0.32"/><circle cx="74.3" cy="305.8" r="0.32"/><circle cx="96.7" cy="305.1" r="0.32"/><circle cx="95.9" cy="299.7" r="0.32"/><circle cx="78.5" cy="293.0" r="0.32"/><circle cx="74.9" cy="296.6" r="0.32"/><circle cx="80.8" cy="299.4" r="0.32"/><circle cx="65.9" cy="307.6" r="0.32"/><circle cx="98.1" cy="295.9" r="0.32"/><circle cx="86.1" cy="298.4" r="0.32"/><circle cx="83.1" cy="295.0" r="0.32"/><circle cx="80.1" cy="291.9" r="0.32"/><circle cx="82.3" cy="295.9" r="0.32"/><circle cx="83.4" cy="291.7" r="0.32"/><circle cx="81.3" cy="296.2" r="0.32"/><circle cx="85.5" cy="290.7" r="0.32"/><circle cx="84.1" cy="300.9" r="0.32"/><circle cx="85.5" cy="294.2" r="0.32"/><circle cx="77.3" cy="294.8" r="0.32"/><circle cx="86.5" cy="303.8" r="0.32"/><circle cx="79.8" cy="292.8" r="0.32"/><circle cx="83.8" cy="297.0" r="0.32"/><circle cx="74.2" cy="292.3" r="0.32"/><circle cx="80.2" cy="299.4" r="0.32"/><circle cx="72.1" cy="290.9" r="0.32"/><circle cx="84.7" cy="289.9" r="0.32"/><circle cx="81.8" cy="297.8" r="0.32"/><circle cx="80.2" cy="290.9" r="0.32"/><circle cx="80.6" cy="294.3" r="0.32"/><circle cx="83.5" cy="291.8" r="0.32"/><circle cx="89.2" cy="287.6" r="0.32"/><circle cx="79.7" cy="296.0" r="0.32"/><circle cx="88.2" cy="293.0" r="0.32"/><circle cx="85.1" cy="293.2" r="0.32"/><circle cx="86.5" cy="304.7" r="0.32"/><circle cx="78.0" cy="298.2" r="0.32"/><circle cx="74.0" cy="300.9" r="0.32"/><circle cx="90.1" cy="296.2" r="0.32"/><circle cx="72.5" cy="298.0" r="0.32"/><circle cx="89.6" cy="301.4" r="0.32"/><circle cx="87.1" cy="286.8" r="0.32"/><circle cx="75.9" cy="303.1" r="0.32"/><circle cx="71.8" cy="301.7" r="0.32"/><circle cx="95.1" cy="299.8" r="0.32"/><circle cx="89.4" cy="294.3" r="0.32"/><circle cx="71.8" cy="295.5" r="0.32"/><circle cx="79.5" cy="295.8" r="0.32"/><circle cx="86.2" cy="295.3" r="0.32"/><circle cx="82.4" cy="298.1" r="0.32"/><circle cx="81.0" cy="305.2" r="0.32"/><circle cx="84.3" cy="296.4" r="0.32"/><circle cx="79.4" cy="292.9" r="0.32"/><circle cx="91.1" cy="296.8" r="0.32"/><circle cx="72.9" cy="293.2" r="0.32"/><circle cx="80.0" cy="293.8" r="0.32"/><circle cx="89.1" cy="290.2" r="0.32"/><circle cx="84.7" cy="296.7" r="0.32"/><circle cx="72.2" cy="296.2" r="0.32"/><circle cx="80.3" cy="298.5" r="0.32"/><circle cx="77.6" cy="297.5" r="0.32"/><circle cx="68.5" cy="290.6" r="0.32"/><circle cx="86.9" cy="301.2" r="0.32"/><circle cx="80.9" cy="293.0" r="0.32"/><circle cx="89.1" cy="285.5" r="0.32"/><circle cx="75.0" cy="299.4" r="0.32"/><circle cx="85.9" cy="290.8" r="0.32"/><circle cx="66.8" cy="303.3" r="0.32"/><circle cx="82.1" cy="291.5" r="0.32"/><circle cx="81.4" cy="300.5" r="0.32"/><circle cx="61.6" cy="301.6" r="0.32"/><circle cx="86.6" cy="285.6" r="0.32"/><circle cx="86.8" cy="287.1" r="0.32"/><circle cx="89.5" cy="298.0" r="0.32"/><circle cx="97.9" cy="292.9" r="0.32"/><circle cx="81.0" cy="301.2" r="0.32"/><circle cx="76.2" cy="292.5" r="0.32"/><circle cx="78.2" cy="295.6" r="0.32"/><circle cx="72.9" cy="298.4" r="0.32"/><circle cx="85.1" cy="296.4" r="0.32"/><circle cx="93.8" cy="294.4" r="0.32"/><circle cx="90.8" cy="293.3" r="0.32"/><circle cx="86.7" cy="286.3" r="0.32"/><circle cx="82.5" cy="295.1" r="0.32"/><circle cx="77.3" cy="292.9" r="0.32"/><circle cx="78.4" cy="292.4" r="0.32"/><circle cx="64.6" cy="293.0" r="0.32"/><circle cx="76.9" cy="293.4" r="0.32"/><circle cx="73.1" cy="295.3" r="0.32"/><circle cx="86.9" cy="294.7" r="0.32"/><circle cx="77.3" cy="302.8" r="0.32"/><circle cx="88.3" cy="300.6" r="0.32"/><circle cx="89.7" cy="294.4" r="0.32"/><circle cx="80.0" cy="301.6" r="0.32"/><circle cx="76.8" cy="295.4" r="0.32"/><circle cx="83.8" cy="297.9" r="0.32"/><circle cx="78.9" cy="300.9" r="0.32"/><circle cx="79.7" cy="299.6" r="0.32"/><circle cx="89.0" cy="299.3" r="0.32"/><circle cx="86.5" cy="290.2" r="0.32"/><circle cx="71.2" cy="292.9" r="0.32"/><circle cx="84.6" cy="303.5" r="0.32"/><circle cx="71.8" cy="297.5" r="0.32"/><circle cx="74.6" cy="292.3" r="0.32"/><circle cx="78.9" cy="299.5" r="0.32"/><circle cx="82.6" cy="301.9" r="0.32"/><circle cx="73.6" cy="300.4" r="0.32"/><circle cx="88.0" cy="296.3" r="0.32"/><circle cx="84.6" cy="293.2" r="0.32"/><circle cx="72.8" cy="294.0" r="0.32"/><circle cx="76.2" cy="310.5" r="0.32"/><circle cx="77.4" cy="304.3" r="0.32"/><circle cx="82.5" cy="297.6" r="0.32"/><circle cx="86.6" cy="292.1" r="0.32"/><circle cx="87.9" cy="297.9" r="0.32"/><circle cx="69.6" cy="299.0" r="0.32"/><circle cx="85.1" cy="298.3" r="0.32"/><circle cx="92.9" cy="293.9" r="0.32"/><circle cx="84.8" cy="299.7" r="0.32"/><circle cx="74.2" cy="302.0" r="0.32"/><circle cx="70.1" cy="289.5" r="0.32"/><circle cx="84.9" cy="290.6" r="0.32"/><circle cx="80.1" cy="287.8" r="0.32"/><circle cx="81.5" cy="290.3" r="0.32"/><circle cx="83.6" cy="288.3" r="0.32"/><circle cx="84.4" cy="294.7" r="0.32"/><circle cx="81.5" cy="295.7" r="0.32"/><circle cx="82.0" cy="289.4" r="0.32"/><circle cx="61.8" cy="296.2" r="0.32"/><circle cx="74.0" cy="293.7" r="0.32"/><circle cx="84.2" cy="286.1" r="0.32"/><circle cx="75.3" cy="292.9" r="0.32"/><circle cx="73.1" cy="297.6" r="0.32"/><circle cx="79.9" cy="291.9" r="0.32"/><circle cx="73.6" cy="300.0" r="0.32"/><circle cx="76.1" cy="298.9" r="0.32"/><circle cx="84.4" cy="286.5" r="0.32"/><circle cx="72.9" cy="296.0" r="0.32"/><circle cx="83.6" cy="299.9" r="0.32"/><circle cx="87.0" cy="301.2" r="0.32"/><circle cx="78.2" cy="294.9" r="0.32"/><circle cx="86.8" cy="293.9" r="0.32"/><circle cx="88.9" cy="288.1" r="0.32"/><circle cx="85.9" cy="295.1" r="0.32"/><circle cx="66.2" cy="300.9" r="0.32"/><circle cx="83.3" cy="296.1" r="0.32"/><circle cx="72.9" cy="293.7" r="0.32"/><circle cx="92.3" cy="291.9" r="0.32"/><circle cx="55.0" cy="291.7" r="0.32"/><circle cx="72.0" cy="295.3" r="0.32"/><circle cx="78.1" cy="291.4" r="0.32"/><circle cx="74.7" cy="301.2" r="0.32"/><circle cx="70.2" cy="305.8" r="0.32"/><circle cx="76.9" cy="290.5" r="0.32"/><circle cx="86.9" cy="298.8" r="0.32"/><circle cx="73.2" cy="299.7" r="0.32"/><circle cx="67.2" cy="291.4" r="0.32"/><circle cx="89.4" cy="294.7" r="0.32"/><circle cx="71.2" cy="298.6" r="0.32"/><circle cx="87.9" cy="295.9" r="0.32"/><circle cx="67.4" cy="294.3" r="0.32"/><circle cx="84.1" cy="299.8" r="0.32"/><circle cx="94.9" cy="294.7" r="0.32"/><circle cx="77.4" cy="295.8" r="0.32"/><circle cx="90.0" cy="291.3" r="0.32"/><circle cx="90.8" cy="282.3" r="0.32"/><circle cx="87.0" cy="292.6" r="0.32"/><circle cx="84.4" cy="299.4" r="0.32"/><circle cx="72.1" cy="295.6" r="0.32"/><circle cx="82.8" cy="298.9" r="0.32"/><circle cx="74.0" cy="291.0" r="0.32"/><circle cx="66.6" cy="308.7" r="0.32"/><circle cx="79.6" cy="294.9" r="0.32"/><circle cx="69.8" cy="300.6" r="0.32"/><circle cx="77.0" cy="303.2" r="0.32"/><circle cx="87.4" cy="296.1" r="0.32"/><circle cx="86.5" cy="290.4" r="0.32"/><circle cx="78.6" cy="293.1" r="0.32"/><circle cx="71.5" cy="296.1" r="0.32"/><circle cx="79.9" cy="303.2" r="0.32"/><circle cx="55.9" cy="292.6" r="0.32"/><circle cx="74.1" cy="293.7" r="0.32"/><circle cx="84.2" cy="298.0" r="0.32"/><circle cx="81.2" cy="293.6" r="0.32"/><circle cx="84.7" cy="297.8" r="0.32"/><circle cx="67.2" cy="294.7" r="0.32"/><circle cx="70.7" cy="290.1" r="0.32"/><circle cx="82.1" cy="296.3" r="0.32"/><circle cx="81.9" cy="291.6" r="0.32"/><circle cx="79.5" cy="291.4" r="0.32"/><circle cx="83.9" cy="299.4" r="0.32"/><circle cx="94.2" cy="302.3" r="0.32"/><circle cx="75.0" cy="293.7" r="0.32"/><circle cx="74.0" cy="297.5" r="0.32"/><circle cx="95.9" cy="299.5" r="0.32"/><circle cx="64.5" cy="289.7" r="0.32"/><circle cx="71.3" cy="298.6" r="0.32"/><circle cx="81.0" cy="297.5" r="0.32"/><circle cx="94.4" cy="291.9" r="0.32"/><circle cx="74.6" cy="305.8" r="0.32"/><circle cx="83.6" cy="292.1" r="0.32"/><circle cx="65.8" cy="288.4" r="0.32"/><circle cx="62.7" cy="296.3" r="0.32"/><circle cx="81.3" cy="301.0" r="0.32"/><circle cx="80.0" cy="292.5" r="0.32"/><circle cx="75.4" cy="305.5" r="0.32"/><circle cx="67.8" cy="296.9" r="0.32"/><circle cx="81.2" cy="299.1" r="0.32"/><circle cx="78.0" cy="298.5" r="0.32"/><circle cx="87.1" cy="295.3" r="0.32"/><circle cx="77.6" cy="295.1" r="0.32"/><circle cx="73.8" cy="295.0" r="0.32"/><circle cx="78.7" cy="297.1" r="0.32"/><circle cx="91.0" cy="302.5" r="0.32"/><circle cx="77.7" cy="299.0" r="0.32"/><circle cx="83.2" cy="299.8" r="0.32"/><circle cx="81.2" cy="297.3" r="0.32"/><circle cx="77.5" cy="292.1" r="0.32"/><circle cx="87.5" cy="302.5" r="0.32"/><circle cx="86.0" cy="298.2" r="0.32"/><circle cx="83.0" cy="293.7" r="0.32"/><circle cx="67.6" cy="299.3" r="0.32"/><circle cx="82.5" cy="293.2" r="0.32"/><circle cx="73.8" cy="302.4" r="0.32"/><circle cx="67.5" cy="304.8" r="0.32"/><circle cx="85.8" cy="307.9" r="0.32"/><circle cx="75.6" cy="295.9" r="0.32"/><circle cx="77.2" cy="296.8" r="0.32"/><circle cx="79.4" cy="292.3" r="0.32"/><circle cx="89.1" cy="292.1" r="0.32"/><circle cx="77.2" cy="298.8" r="0.32"/><circle cx="77.0" cy="293.8" r="0.32"/><circle cx="83.7" cy="294.2" r="0.32"/><circle cx="71.7" cy="295.5" r="0.32"/><circle cx="79.4" cy="304.5" r="0.32"/><circle cx="72.8" cy="300.8" r="0.32"/><circle cx="75.1" cy="294.2" r="0.32"/><circle cx="78.5" cy="297.4" r="0.32"/><circle cx="87.5" cy="304.7" r="0.32"/><circle cx="76.2" cy="302.6" r="0.32"/><circle cx="88.5" cy="300.1" r="0.32"/><circle cx="75.3" cy="300.5" r="0.32"/><circle cx="80.2" cy="297.8" r="0.32"/><circle cx="79.0" cy="299.3" r="0.32"/><circle cx="89.4" cy="301.7" r="0.32"/><circle cx="79.5" cy="301.0" r="0.32"/><circle cx="91.9" cy="291.3" r="0.32"/><circle cx="92.0" cy="289.3" r="0.32"/><circle cx="85.1" cy="299.0" r="0.32"/><circle cx="92.1" cy="297.4" r="0.32"/><circle cx="77.4" cy="292.0" r="0.32"/><circle cx="71.6" cy="299.8" r="0.32"/><circle cx="79.2" cy="292.4" r="0.32"/><circle cx="85.0" cy="292.2" r="0.32"/><circle cx="77.7" cy="293.7" r="0.32"/><circle cx="93.4" cy="303.3" r="0.32"/><circle cx="79.8" cy="288.1" r="0.32"/><circle cx="83.1" cy="296.4" r="0.32"/><circle cx="83.6" cy="298.8" r="0.32"/><circle cx="78.6" cy="300.6" r="0.32"/><circle cx="87.3" cy="297.1" r="0.32"/><circle cx="78.0" cy="293.6" r="0.32"/><circle cx="86.2" cy="290.5" r="0.32"/><circle cx="79.8" cy="292.3" r="0.32"/></g>
<g fill="#888" clip-path="url(#c3)"><circle cx="67.3" cy="302.8" r="0.3"/><circle cx="83.7" cy="298.3" r="0.3"/><circle cx="94.5" cy="286.0" r="0.3"/><circle cx="83.2" cy="300.3" r="0.3"/><circle cx="94.0" cy="289.3" r="0.3"/><circle cx="92.6" cy="299.8" r="0.3"/><circle cx="100.3" cy="307.1" r="0.3"/><circle cx="90.6" cy="315.2" r="0.3"/><circle cx="84.0" cy="294.6" r="0.3"/><circle cx="79.9" cy="290.5" r="0.3"/><circle cx="83.7" cy="283.0" r="0.3"/><circle cx="83.0" cy="301.4" r="0.3"/><circle cx="95.9" cy="295.2" r="0.3"/><circle cx="100.7" cy="292.8" r="0.3"/><circle cx="82.4" cy="283.0" r="0.3"/><circle cx="74.9" cy="291.7" r="0.3"/><circle cx="101.5" cy="302.1" r="0.3"/><circle cx="71.1" cy="302.2" r="0.3"/><circle cx="89.6" cy="296.2" r="0.3"/><circle cx="84.3" cy="295.6" r="0.3"/><circle cx="77.6" cy="284.2" r="0.3"/><circle cx="82.9" cy="308.0" r="0.3"/><circle cx="100.8" cy="295.8" r="0.3"/><circle cx="75.2" cy="296.3" r="0.3"/><circle cx="94.5" cy="300.7" r="0.3"/><circle cx="77.2" cy="300.8" r="0.3"/><circle cx="81.6" cy="302.0" r="0.3"/><circle cx="79.2" cy="286.5" r="0.3"/><circle cx="84.7" cy="303.9" r="0.3"/><circle cx="71.0" cy="297.2" r="0.3"/><circle cx="94.3" cy="295.1" r="0.3"/><circle cx="76.4" cy="313.8" r="0.3"/><circle cx="93.7" cy="306.0" r="0.3"/><circle cx="72.9" cy="310.7" r="0.3"/><circle cx="64.6" cy="294.0" r="0.3"/><circle cx="92.6" cy="308.4" r="0.3"/><circle cx="73.1" cy="292.8" r="0.3"/><circle cx="86.3" cy="283.0" r="0.3"/><circle cx="91.5" cy="302.4" r="0.3"/><circle cx="78.8" cy="302.2" r="0.3"/><circle cx="93.1" cy="300.4" r="0.3"/><circle cx="90.1" cy="309.8" r="0.3"/><circle cx="78.4" cy="299.3" r="0.3"/><circle cx="77.9" cy="306.0" r="0.3"/><circle cx="79.3" cy="301.7" r="0.3"/><circle cx="85.6" cy="298.5" r="0.3"/><circle cx="104.0" cy="297.3" r="0.3"/><circle cx="100.5" cy="304.4" r="0.3"/><circle cx="99.3" cy="296.7" r="0.3"/><circle cx="94.8" cy="303.9" r="0.3"/><circle cx="76.9" cy="300.1" r="0.3"/><circle cx="82.5" cy="297.7" r="0.3"/><circle cx="99.1" cy="292.4" r="0.3"/><circle cx="64.5" cy="284.5" r="0.3"/><circle cx="78.8" cy="293.0" r="0.3"/><circle cx="84.2" cy="302.4" r="0.3"/><circle cx="104.4" cy="300.4" r="0.3"/><circle cx="89.4" cy="292.3" r="0.3"/><circle cx="90.7" cy="308.5" r="0.3"/><circle cx="99.5" cy="282.9" r="0.3"/><circle cx="94.3" cy="310.2" r="0.3"/><circle cx="93.6" cy="286.5" r="0.3"/><circle cx="80.4" cy="302.5" r="0.3"/><circle cx="88.8" cy="291.7" r="0.3"/><circle cx="73.7" cy="305.4" r="0.3"/><circle cx="68.6" cy="309.1" r="0.3"/><circle cx="84.2" cy="300.3" r="0.3"/><circle cx="68.6" cy="293.4" r="0.3"/><circle cx="92.0" cy="286.7" r="0.3"/><circle cx="107.9" cy="287.2" r="0.3"/><circle cx="69.9" cy="298.3" r="0.3"/><circle cx="89.6" cy="303.6" r="0.3"/><circle cx="79.7" cy="296.4" r="0.3"/><circle cx="81.3" cy="293.6" r="0.3"/><circle cx="54.3" cy="305.4" r="0.3"/><circle cx="86.9" cy="299.2" r="0.3"/><circle cx="76.7" cy="299.9" r="0.3"/><circle cx="83.8" cy="297.4" r="0.3"/><circle cx="96.7" cy="284.8" r="0.3"/><circle cx="86.9" cy="289.8" r="0.3"/><circle cx="80.3" cy="309.5" r="0.3"/><circle cx="71.5" cy="297.2" r="0.3"/><circle cx="77.2" cy="305.3" r="0.3"/><circle cx="72.7" cy="285.1" r="0.3"/><circle cx="89.9" cy="295.3" r="0.3"/><circle cx="80.3" cy="306.3" r="0.3"/><circle cx="73.8" cy="295.1" r="0.3"/><circle cx="85.7" cy="301.2" r="0.3"/><circle cx="78.0" cy="306.0" r="0.3"/><circle cx="109.8" cy="294.9" r="0.3"/></g>
<g fill="#777" clip-path="url(#c3)"><circle cx="121.5" cy="283.5" r="0.3"/><circle cx="122.7" cy="294.5" r="0.3"/><circle cx="112.2" cy="300.6" r="0.3"/><circle cx="103.0" cy="299.7" r="0.3"/><circle cx="112.5" cy="311.4" r="0.3"/><circle cx="120.5" cy="295.8" r="0.3"/><circle cx="105.6" cy="302.0" r="0.3"/><circle cx="107.2" cy="317.8" r="0.3"/><circle cx="117.9" cy="300.4" r="0.3"/><circle cx="105.0" cy="300.3" r="0.3"/><circle cx="125.2" cy="300.6" r="0.3"/><circle cx="106.9" cy="312.5" r="0.3"/><circle cx="104.6" cy="311.5" r="0.3"/><circle cx="102.8" cy="305.5" r="0.3"/><circle cx="117.4" cy="302.8" r="0.3"/><circle cx="118.0" cy="294.0" r="0.3"/><circle cx="129.0" cy="302.1" r="0.3"/><circle cx="113.3" cy="305.4" r="0.3"/><circle cx="105.1" cy="306.0" r="0.3"/><circle cx="101.3" cy="309.8" r="0.3"/><circle cx="117.5" cy="308.7" r="0.3"/><circle cx="122.2" cy="302.5" r="0.3"/><circle cx="108.3" cy="303.6" r="0.3"/><circle cx="109.8" cy="305.7" r="0.3"/><circle cx="98.2" cy="316.1" r="0.3"/><circle cx="97.5" cy="308.0" r="0.3"/><circle cx="110.7" cy="300.3" r="0.3"/><circle cx="125.5" cy="294.5" r="0.3"/><circle cx="128.4" cy="301.3" r="0.3"/><circle cx="109.0" cy="307.4" r="0.3"/><circle cx="121.8" cy="295.1" r="0.3"/><circle cx="111.1" cy="299.8" r="0.3"/><circle cx="111.5" cy="301.0" r="0.3"/><circle cx="115.6" cy="307.6" r="0.3"/><circle cx="124.0" cy="297.0" r="0.3"/><circle cx="116.1" cy="306.3" r="0.3"/><circle cx="106.5" cy="299.1" r="0.3"/><circle cx="118.5" cy="293.0" r="0.3"/><circle cx="117.0" cy="293.7" r="0.3"/><circle cx="124.2" cy="289.0" r="0.3"/><circle cx="123.4" cy="306.4" r="0.3"/><circle cx="108.3" cy="315.0" r="0.3"/><circle cx="100.1" cy="298.2" r="0.3"/><circle cx="120.0" cy="303.0" r="0.3"/><circle cx="103.0" cy="291.4" r="0.3"/><circle cx="110.7" cy="301.7" r="0.3"/><circle cx="108.0" cy="303.4" r="0.3"/><circle cx="95.5" cy="308.8" r="0.3"/><circle cx="131.4" cy="302.1" r="0.3"/><circle cx="106.9" cy="301.2" r="0.3"/><circle cx="118.4" cy="306.4" r="0.3"/><circle cx="114.6" cy="293.7" r="0.3"/><circle cx="113.8" cy="302.9" r="0.3"/><circle cx="127.4" cy="302.1" r="0.3"/><circle cx="119.9" cy="306.6" r="0.3"/><circle cx="113.1" cy="312.6" r="0.3"/><circle cx="109.6" cy="307.0" r="0.3"/><circle cx="117.0" cy="294.0" r="0.3"/><circle cx="101.1" cy="297.6" r="0.3"/><circle cx="113.2" cy="301.9" r="0.3"/><circle cx="110.7" cy="307.1" r="0.3"/><circle cx="94.3" cy="313.0" r="0.3"/><circle cx="112.0" cy="301.3" r="0.3"/><circle cx="123.6" cy="307.9" r="0.3"/><circle cx="105.6" cy="300.5" r="0.3"/><circle cx="107.2" cy="306.4" r="0.3"/><circle cx="114.4" cy="295.9" r="0.3"/><circle cx="117.4" cy="293.1" r="0.3"/><circle cx="120.1" cy="301.2" r="0.3"/><circle cx="122.1" cy="311.5" r="0.3"/><circle cx="109.3" cy="303.4" r="0.3"/><circle cx="118.4" cy="305.0" r="0.3"/><circle cx="101.7" cy="310.8" r="0.3"/><circle cx="107.6" cy="309.7" r="0.3"/><circle cx="123.5" cy="296.7" r="0.3"/><circle cx="111.6" cy="304.4" r="0.3"/><circle cx="89.7" cy="321.0" r="0.3"/><circle cx="117.1" cy="301.1" r="0.3"/><circle cx="106.6" cy="301.3" r="0.3"/><circle cx="114.0" cy="309.9" r="0.3"/><circle cx="115.0" cy="310.2" r="0.3"/><circle cx="89.3" cy="313.1" r="0.3"/><circle cx="114.2" cy="301.6" r="0.3"/><circle cx="96.3" cy="307.7" r="0.3"/><circle cx="118.7" cy="290.6" r="0.3"/><circle cx="100.6" cy="302.3" r="0.3"/><circle cx="109.3" cy="308.9" r="0.3"/><circle cx="111.1" cy="290.0" r="0.3"/><circle cx="122.4" cy="293.0" r="0.3"/><circle cx="111.9" cy="314.1" r="0.3"/></g>
<g fill="#777" clip-path="url(#c3)"><circle cx="91.1" cy="322.0" r="0.3"/><circle cx="84.6" cy="324.5" r="0.3"/><circle cx="80.4" cy="326.4" r="0.3"/><circle cx="102.1" cy="329.7" r="0.3"/><circle cx="76.1" cy="341.4" r="0.3"/><circle cx="80.6" cy="328.6" r="0.3"/><circle cx="92.4" cy="331.7" r="0.3"/><circle cx="88.2" cy="330.2" r="0.3"/><circle cx="116.3" cy="328.5" r="0.3"/><circle cx="79.5" cy="329.6" r="0.3"/><circle cx="82.8" cy="326.2" r="0.3"/><circle cx="94.2" cy="329.6" r="0.3"/><circle cx="88.7" cy="332.1" r="0.3"/><circle cx="89.8" cy="321.7" r="0.3"/><circle cx="102.1" cy="326.3" r="0.3"/><circle cx="106.0" cy="324.9" r="0.3"/><circle cx="98.6" cy="329.5" r="0.3"/><circle cx="79.1" cy="334.8" r="0.3"/><circle cx="70.2" cy="332.4" r="0.3"/><circle cx="104.6" cy="330.4" r="0.3"/><circle cx="99.8" cy="325.6" r="0.3"/><circle cx="91.9" cy="329.1" r="0.3"/><circle cx="96.8" cy="331.4" r="0.3"/><circle cx="89.6" cy="324.6" r="0.3"/><circle cx="85.5" cy="330.0" r="0.3"/><circle cx="72.9" cy="322.0" r="0.3"/><circle cx="87.3" cy="325.3" r="0.3"/><circle cx="88.9" cy="315.2" r="0.3"/><circle cx="88.1" cy="326.8" r="0.3"/><circle cx="100.9" cy="318.5" r="0.3"/><circle cx="88.5" cy="330.3" r="0.3"/><circle cx="97.6" cy="333.7" r="0.3"/><circle cx="104.2" cy="323.0" r="0.3"/><circle cx="99.3" cy="326.4" r="0.3"/><circle cx="82.7" cy="335.4" r="0.3"/><circle cx="84.7" cy="323.9" r="0.3"/><circle cx="87.3" cy="323.9" r="0.3"/><circle cx="103.6" cy="329.8" r="0.3"/><circle cx="108.2" cy="330.0" r="0.3"/><circle cx="84.9" cy="333.0" r="0.3"/><circle cx="84.4" cy="325.8" r="0.3"/><circle cx="90.1" cy="328.2" r="0.3"/><circle cx="105.8" cy="325.1" r="0.3"/><circle cx="96.1" cy="327.9" r="0.3"/><circle cx="77.5" cy="322.7" r="0.3"/><circle cx="89.5" cy="329.9" r="0.3"/><circle cx="95.7" cy="330.3" r="0.3"/><circle cx="92.6" cy="325.8" r="0.3"/><circle cx="96.9" cy="323.2" r="0.3"/><circle cx="76.5" cy="326.4" r="0.3"/><circle cx="75.5" cy="325.5" r="0.3"/><circle cx="83.4" cy="325.3" r="0.3"/><circle cx="91.5" cy="324.1" r="0.3"/><circle cx="87.1" cy="319.8" r="0.3"/><circle cx="93.7" cy="323.8" r="0.3"/><circle cx="96.7" cy="314.4" r="0.3"/><circle cx="82.7" cy="329.2" r="0.3"/><circle cx="93.1" cy="328.5" r="0.3"/><circle cx="74.7" cy="329.1" r="0.3"/><circle cx="93.7" cy="323.3" r="0.3"/><circle cx="100.6" cy="327.8" r="0.3"/><circle cx="92.2" cy="325.8" r="0.3"/><circle cx="98.3" cy="328.5" r="0.3"/><circle cx="105.2" cy="330.2" r="0.3"/><circle cx="84.9" cy="326.9" r="0.3"/><circle cx="102.6" cy="326.2" r="0.3"/><circle cx="96.4" cy="330.5" r="0.3"/><circle cx="89.9" cy="316.8" r="0.3"/><circle cx="93.5" cy="329.0" r="0.3"/><circle cx="93.6" cy="324.3" r="0.3"/><circle cx="106.0" cy="327.3" r="0.3"/><circle cx="84.8" cy="324.5" r="0.3"/><circle cx="96.2" cy="322.7" r="0.3"/><circle cx="80.4" cy="337.7" r="0.3"/><circle cx="107.2" cy="333.1" r="0.3"/><circle cx="107.8" cy="330.9" r="0.3"/><circle cx="72.4" cy="333.8" r="0.3"/><circle cx="106.4" cy="330.4" r="0.3"/><circle cx="69.3" cy="334.0" r="0.3"/><circle cx="107.9" cy="325.6" r="0.3"/><circle cx="93.5" cy="331.8" r="0.3"/><circle cx="91.0" cy="333.3" r="0.3"/><circle cx="92.9" cy="331.3" r="0.3"/><circle cx="93.0" cy="320.8" r="0.3"/><circle cx="80.4" cy="343.3" r="0.3"/><circle cx="95.2" cy="334.3" r="0.3"/><circle cx="105.2" cy="336.3" r="0.3"/><circle cx="98.4" cy="325.1" r="0.3"/><circle cx="92.2" cy="318.7" r="0.3"/><circle cx="89.8" cy="332.4" r="0.3"/><circle cx="66.8" cy="329.0" r="0.3"/><circle cx="101.6" cy="334.4" r="0.3"/><circle cx="81.2" cy="324.8" r="0.3"/><circle cx="98.2" cy="338.0" r="0.3"/><circle cx="78.7" cy="334.7" r="0.3"/><circle cx="97.0" cy="325.6" r="0.3"/><circle cx="117.6" cy="315.8" r="0.3"/><circle cx="91.2" cy="329.1" r="0.3"/><circle cx="116.8" cy="336.7" r="0.3"/><circle cx="118.4" cy="328.7" r="0.3"/><circle cx="103.4" cy="334.6" r="0.3"/><circle cx="98.0" cy="329.7" r="0.3"/><circle cx="89.9" cy="326.0" r="0.3"/><circle cx="77.7" cy="337.5" r="0.3"/><circle cx="86.8" cy="317.9" r="0.3"/><circle cx="95.1" cy="327.8" r="0.3"/><circle cx="94.1" cy="336.8" r="0.3"/><circle cx="90.8" cy="326.7" r="0.3"/><circle cx="83.3" cy="327.9" r="0.3"/><circle cx="86.9" cy="329.0" r="0.3"/><circle cx="128.4" cy="329.9" r="0.3"/><circle cx="82.0" cy="337.4" r="0.3"/><circle cx="102.1" cy="332.0" r="0.3"/><circle cx="100.3" cy="332.0" r="0.3"/><circle cx="99.9" cy="334.9" r="0.3"/><circle cx="103.8" cy="334.6" r="0.3"/><circle cx="86.1" cy="328.0" r="0.3"/></g>
<g fill="#666" clip-path="url(#c3)"><circle cx="86.8" cy="331.4" r="0.32"/><circle cx="105.3" cy="316.1" r="0.32"/><circle cx="107.0" cy="340.3" r="0.32"/><circle cx="109.7" cy="310.0" r="0.32"/><circle cx="94.8" cy="327.1" r="0.32"/><circle cx="95.2" cy="325.0" r="0.32"/><circle cx="111.3" cy="321.2" r="0.32"/><circle cx="81.5" cy="330.6" r="0.32"/><circle cx="93.9" cy="323.1" r="0.32"/><circle cx="85.2" cy="313.1" r="0.32"/><circle cx="77.8" cy="322.8" r="0.32"/><circle cx="76.3" cy="304.3" r="0.32"/><circle cx="108.4" cy="309.9" r="0.32"/><circle cx="86.2" cy="328.1" r="0.32"/><circle cx="65.0" cy="339.1" r="0.32"/><circle cx="85.8" cy="329.2" r="0.32"/><circle cx="89.1" cy="325.7" r="0.32"/><circle cx="96.4" cy="321.7" r="0.32"/><circle cx="68.3" cy="316.0" r="0.32"/><circle cx="96.7" cy="332.9" r="0.32"/><circle cx="88.6" cy="327.6" r="0.32"/><circle cx="98.0" cy="325.2" r="0.32"/><circle cx="105.8" cy="307.8" r="0.32"/><circle cx="98.4" cy="319.9" r="0.32"/><circle cx="89.5" cy="316.4" r="0.32"/><circle cx="82.8" cy="316.4" r="0.32"/><circle cx="84.4" cy="344.2" r="0.32"/><circle cx="117.7" cy="317.3" r="0.32"/><circle cx="103.3" cy="312.5" r="0.32"/><circle cx="54.9" cy="316.0" r="0.32"/><circle cx="99.2" cy="332.6" r="0.32"/><circle cx="92.8" cy="314.5" r="0.32"/><circle cx="90.2" cy="315.1" r="0.32"/><circle cx="76.0" cy="324.2" r="0.32"/><circle cx="88.4" cy="316.9" r="0.32"/><circle cx="81.7" cy="317.4" r="0.32"/><circle cx="100.4" cy="332.0" r="0.32"/><circle cx="95.8" cy="339.6" r="0.32"/><circle cx="73.9" cy="328.7" r="0.32"/><circle cx="79.3" cy="324.1" r="0.32"/><circle cx="97.3" cy="326.0" r="0.32"/><circle cx="109.2" cy="314.6" r="0.32"/><circle cx="78.1" cy="324.1" r="0.32"/><circle cx="97.8" cy="315.8" r="0.32"/><circle cx="109.7" cy="332.3" r="0.32"/><circle cx="76.6" cy="328.8" r="0.32"/><circle cx="105.5" cy="304.5" r="0.32"/><circle cx="97.4" cy="319.7" r="0.32"/><circle cx="78.1" cy="336.1" r="0.32"/><circle cx="97.1" cy="317.7" r="0.32"/><circle cx="102.0" cy="325.6" r="0.32"/><circle cx="106.2" cy="324.2" r="0.32"/><circle cx="98.5" cy="311.9" r="0.32"/><circle cx="89.6" cy="324.2" r="0.32"/><circle cx="61.5" cy="346.1" r="0.32"/><circle cx="88.2" cy="315.0" r="0.32"/><circle cx="71.1" cy="329.1" r="0.32"/><circle cx="94.5" cy="317.5" r="0.32"/><circle cx="88.0" cy="316.4" r="0.32"/><circle cx="84.8" cy="323.4" r="0.32"/><circle cx="87.5" cy="329.0" r="0.32"/><circle cx="93.3" cy="323.4" r="0.32"/><circle cx="102.5" cy="330.5" r="0.32"/><circle cx="103.4" cy="322.0" r="0.32"/><circle cx="91.5" cy="316.3" r="0.32"/><circle cx="91.5" cy="328.2" r="0.32"/><circle cx="97.4" cy="318.4" r="0.32"/><circle cx="74.7" cy="314.1" r="0.32"/><circle cx="101.0" cy="328.9" r="0.32"/><circle cx="97.8" cy="310.5" r="0.32"/><circle cx="92.5" cy="324.3" r="0.32"/><circle cx="83.3" cy="327.2" r="0.32"/><circle cx="91.0" cy="316.2" r="0.32"/><circle cx="79.7" cy="331.7" r="0.32"/><circle cx="98.3" cy="314.2" r="0.32"/><circle cx="82.9" cy="331.7" r="0.32"/><circle cx="102.5" cy="318.0" r="0.32"/><circle cx="115.8" cy="315.3" r="0.32"/><circle cx="82.7" cy="333.3" r="0.32"/><circle cx="93.0" cy="325.2" r="0.32"/><circle cx="93.9" cy="314.3" r="0.32"/><circle cx="78.9" cy="323.9" r="0.32"/><circle cx="112.1" cy="310.4" r="0.32"/><circle cx="113.5" cy="319.8" r="0.32"/><circle cx="80.6" cy="327.2" r="0.32"/><circle cx="101.1" cy="313.5" r="0.32"/><circle cx="67.2" cy="330.8" r="0.32"/><circle cx="80.9" cy="328.5" r="0.32"/><circle cx="81.8" cy="313.0" r="0.32"/><circle cx="92.1" cy="324.0" r="0.32"/><circle cx="85.7" cy="314.6" r="0.32"/><circle cx="95.0" cy="308.1" r="0.32"/><circle cx="102.9" cy="324.2" r="0.32"/><circle cx="118.8" cy="324.0" r="0.32"/><circle cx="100.2" cy="323.0" r="0.32"/><circle cx="93.2" cy="311.8" r="0.32"/><circle cx="115.3" cy="321.9" r="0.32"/><circle cx="89.3" cy="314.1" r="0.32"/><circle cx="115.6" cy="321.8" r="0.32"/><circle cx="80.3" cy="330.5" r="0.32"/><circle cx="120.2" cy="316.5" r="0.32"/><circle cx="99.7" cy="317.7" r="0.32"/><circle cx="88.4" cy="331.9" r="0.32"/><circle cx="136.2" cy="314.2" r="0.32"/><circle cx="94.6" cy="328.4" r="0.32"/><circle cx="92.1" cy="328.4" r="0.32"/><circle cx="104.4" cy="311.9" r="0.32"/><circle cx="80.6" cy="324.5" r="0.32"/><circle cx="106.5" cy="321.8" r="0.32"/><circle cx="109.3" cy="308.0" r="0.32"/><circle cx="100.6" cy="315.9" r="0.32"/><circle cx="96.9" cy="324.2" r="0.32"/><circle cx="81.7" cy="323.0" r="0.32"/><circle cx="80.0" cy="327.3" r="0.32"/><circle cx="82.9" cy="320.7" r="0.32"/><circle cx="96.9" cy="316.4" r="0.32"/><circle cx="109.2" cy="313.9" r="0.32"/><circle cx="106.7" cy="321.7" r="0.32"/><circle cx="80.9" cy="323.3" r="0.32"/><circle cx="83.3" cy="321.6" r="0.32"/><circle cx="94.3" cy="336.6" r="0.32"/><circle cx="92.0" cy="335.1" r="0.32"/><circle cx="98.8" cy="310.8" r="0.32"/><circle cx="65.4" cy="333.7" r="0.32"/><circle cx="69.7" cy="333.1" r="0.32"/><circle cx="109.3" cy="322.1" r="0.32"/><circle cx="91.8" cy="320.7" r="0.32"/><circle cx="98.0" cy="319.0" r="0.32"/><circle cx="87.3" cy="320.7" r="0.32"/><circle cx="109.5" cy="314.0" r="0.32"/><circle cx="98.2" cy="312.2" r="0.32"/><circle cx="83.3" cy="313.6" r="0.32"/><circle cx="93.5" cy="327.7" r="0.32"/><circle cx="98.3" cy="317.4" r="0.32"/><circle cx="102.6" cy="317.6" r="0.32"/><circle cx="100.4" cy="323.0" r="0.32"/><circle cx="98.2" cy="301.7" r="0.32"/><circle cx="79.0" cy="331.5" r="0.32"/><circle cx="97.2" cy="339.3" r="0.32"/><circle cx="91.0" cy="318.5" r="0.32"/><circle cx="115.7" cy="322.0" r="0.32"/><circle cx="121.0" cy="320.5" r="0.32"/><circle cx="93.5" cy="328.1" r="0.32"/><circle cx="83.8" cy="320.8" r="0.32"/><circle cx="87.3" cy="321.9" r="0.32"/><circle cx="104.5" cy="316.2" r="0.32"/><circle cx="98.5" cy="317.3" r="0.32"/><circle cx="102.3" cy="298.7" r="0.32"/><circle cx="92.5" cy="323.9" r="0.32"/><circle cx="82.3" cy="332.7" r="0.32"/><circle cx="99.9" cy="331.1" r="0.32"/><circle cx="108.8" cy="324.1" r="0.32"/><circle cx="91.3" cy="314.2" r="0.32"/><circle cx="91.3" cy="319.1" r="0.32"/><circle cx="97.6" cy="317.8" r="0.32"/><circle cx="132.9" cy="301.3" r="0.32"/><circle cx="109.8" cy="315.1" r="0.32"/><circle cx="93.3" cy="329.7" r="0.32"/><circle cx="93.1" cy="312.8" r="0.32"/><circle cx="100.2" cy="319.4" r="0.32"/><circle cx="68.1" cy="329.3" r="0.32"/><circle cx="79.8" cy="319.3" r="0.32"/><circle cx="101.9" cy="322.9" r="0.32"/><circle cx="94.6" cy="339.2" r="0.32"/><circle cx="99.6" cy="316.2" r="0.32"/><circle cx="97.9" cy="320.4" r="0.32"/><circle cx="63.3" cy="316.3" r="0.32"/><circle cx="79.9" cy="341.5" r="0.32"/><circle cx="92.1" cy="320.4" r="0.32"/><circle cx="89.1" cy="331.0" r="0.32"/><circle cx="98.1" cy="334.8" r="0.32"/><circle cx="108.1" cy="332.2" r="0.32"/><circle cx="94.1" cy="325.2" r="0.32"/><circle cx="89.0" cy="321.9" r="0.32"/><circle cx="81.4" cy="319.8" r="0.32"/><circle cx="111.5" cy="320.6" r="0.32"/><circle cx="112.6" cy="325.0" r="0.32"/><circle cx="108.8" cy="327.0" r="0.32"/><circle cx="88.3" cy="329.8" r="0.32"/><circle cx="89.9" cy="318.9" r="0.32"/><circle cx="114.2" cy="335.0" r="0.32"/><circle cx="84.9" cy="337.8" r="0.32"/><circle cx="104.6" cy="313.3" r="0.32"/><circle cx="99.2" cy="324.0" r="0.32"/><circle cx="99.4" cy="318.3" r="0.32"/><circle cx="78.1" cy="325.8" r="0.32"/><circle cx="107.6" cy="325.5" r="0.32"/><circle cx="105.5" cy="328.5" r="0.32"/><circle cx="81.9" cy="324.5" r="0.32"/><circle cx="101.1" cy="328.6" r="0.32"/><circle cx="97.9" cy="325.5" r="0.32"/><circle cx="100.1" cy="337.4" r="0.32"/><circle cx="66.2" cy="327.9" r="0.32"/><circle cx="128.0" cy="316.8" r="0.32"/><circle cx="71.0" cy="328.1" r="0.32"/><circle cx="75.0" cy="320.9" r="0.32"/><circle cx="100.7" cy="334.3" r="0.32"/><circle cx="102.2" cy="325.7" r="0.32"/><circle cx="108.8" cy="320.7" r="0.32"/><circle cx="83.5" cy="323.7" r="0.32"/><circle cx="99.0" cy="319.0" r="0.32"/><circle cx="85.6" cy="321.2" r="0.32"/><circle cx="73.6" cy="318.5" r="0.32"/><circle cx="93.2" cy="319.5" r="0.32"/><circle cx="97.7" cy="332.5" r="0.32"/><circle cx="98.9" cy="320.9" r="0.32"/><circle cx="77.8" cy="317.2" r="0.32"/><circle cx="98.6" cy="314.4" r="0.32"/><circle cx="98.9" cy="312.7" r="0.32"/><circle cx="96.7" cy="321.1" r="0.32"/><circle cx="107.5" cy="316.3" r="0.32"/><circle cx="90.5" cy="324.9" r="0.32"/><circle cx="98.4" cy="334.6" r="0.32"/><circle cx="90.7" cy="318.7" r="0.32"/><circle cx="91.6" cy="326.5" r="0.32"/><circle cx="99.2" cy="326.6" r="0.32"/><circle cx="80.7" cy="344.5" r="0.32"/><circle cx="119.2" cy="316.6" r="0.32"/><circle cx="79.3" cy="326.6" r="0.32"/><circle cx="96.9" cy="304.0" r="0.32"/><circle cx="92.8" cy="310.8" r="0.32"/><circle cx="103.2" cy="331.1" r="0.32"/><circle cx="106.2" cy="307.8" r="0.32"/><circle cx="114.7" cy="325.0" r="0.32"/><circle cx="91.0" cy="326.8" r="0.32"/><circle cx="114.5" cy="315.3" r="0.32"/><circle cx="93.9" cy="317.8" r="0.32"/><circle cx="106.8" cy="302.5" r="0.32"/><circle cx="112.2" cy="310.7" r="0.32"/><circle cx="104.6" cy="307.2" r="0.32"/><circle cx="81.7" cy="320.1" r="0.32"/><circle cx="103.3" cy="307.5" r="0.32"/><circle cx="101.9" cy="315.5" r="0.32"/><circle cx="110.9" cy="316.2" r="0.32"/><circle cx="101.1" cy="319.3" r="0.32"/><circle cx="118.1" cy="314.3" r="0.32"/><circle cx="97.8" cy="337.0" r="0.32"/><circle cx="97.1" cy="326.9" r="0.32"/><circle cx="85.6" cy="325.6" r="0.32"/><circle cx="65.3" cy="329.1" r="0.32"/><circle cx="84.1" cy="312.5" r="0.32"/><circle cx="78.2" cy="334.6" r="0.32"/><circle cx="98.2" cy="309.4" r="0.32"/><circle cx="117.8" cy="311.7" r="0.32"/><circle cx="90.5" cy="324.9" r="0.32"/><circle cx="77.4" cy="313.0" r="0.32"/><circle cx="87.1" cy="333.0" r="0.32"/><circle cx="105.0" cy="307.4" r="0.32"/><circle cx="110.9" cy="318.9" r="0.32"/><circle cx="101.7" cy="321.0" r="0.32"/><circle cx="98.8" cy="313.3" r="0.32"/><circle cx="81.9" cy="319.3" r="0.32"/><circle cx="91.1" cy="327.7" r="0.32"/><circle cx="81.5" cy="337.4" r="0.32"/><circle cx="85.7" cy="319.3" r="0.32"/><circle cx="105.0" cy="323.3" r="0.32"/><circle cx="88.8" cy="314.9" r="0.32"/><circle cx="79.3" cy="312.8" r="0.32"/><circle cx="111.8" cy="327.0" r="0.32"/><circle cx="120.4" cy="320.5" r="0.32"/><circle cx="100.6" cy="326.8" r="0.32"/><circle cx="107.1" cy="317.4" r="0.32"/><circle cx="103.1" cy="337.2" r="0.32"/><circle cx="70.4" cy="316.2" r="0.32"/><circle cx="83.5" cy="330.4" r="0.32"/><circle cx="110.1" cy="316.1" r="0.32"/><circle cx="103.8" cy="319.8" r="0.32"/><circle cx="98.1" cy="317.1" r="0.32"/><circle cx="94.6" cy="322.0" r="0.32"/><circle cx="113.5" cy="335.6" r="0.32"/><circle cx="71.9" cy="331.1" r="0.32"/><circle cx="96.5" cy="329.3" r="0.32"/><circle cx="110.2" cy="324.9" r="0.32"/><circle cx="104.1" cy="312.6" r="0.32"/><circle cx="75.2" cy="339.4" r="0.32"/><circle cx="109.4" cy="311.4" r="0.32"/><circle cx="113.1" cy="323.4" r="0.32"/><circle cx="64.1" cy="335.7" r="0.32"/><circle cx="83.8" cy="333.6" r="0.32"/><circle cx="84.8" cy="318.3" r="0.32"/><circle cx="74.3" cy="324.7" r="0.32"/><circle cx="107.3" cy="314.1" r="0.32"/><circle cx="73.9" cy="343.4" r="0.32"/><circle cx="120.4" cy="322.0" r="0.32"/><circle cx="86.0" cy="314.4" r="0.32"/><circle cx="74.3" cy="330.8" r="0.32"/><circle cx="110.4" cy="310.4" r="0.32"/><circle cx="94.6" cy="319.9" r="0.32"/><circle cx="92.4" cy="326.5" r="0.32"/><circle cx="121.6" cy="311.3" r="0.32"/><circle cx="108.0" cy="327.8" r="0.32"/><circle cx="91.0" cy="321.7" r="0.32"/><circle cx="79.0" cy="333.9" r="0.32"/><circle cx="86.9" cy="318.6" r="0.32"/><circle cx="94.5" cy="315.3" r="0.32"/><circle cx="80.8" cy="322.7" r="0.32"/><circle cx="114.3" cy="316.3" r="0.32"/><circle cx="99.6" cy="309.5" r="0.32"/></g>
<g fill="#888" clip-path="url(#c3)"><circle cx="92.9" cy="344.2" r="0.3"/><circle cx="99.5" cy="301.8" r="0.3"/><circle cx="113.2" cy="320.5" r="0.3"/><circle cx="83.9" cy="316.8" r="0.3"/><circle cx="111.5" cy="303.4" r="0.3"/><circle cx="127.5" cy="318.1" r="0.3"/><circle cx="116.3" cy="307.0" r="0.3"/><circle cx="108.5" cy="308.2" r="0.3"/><circle cx="111.6" cy="317.9" r="0.3"/><circle cx="112.2" cy="325.3" r="0.3"/><circle cx="145.9" cy="291.8" r="0.3"/><circle cx="120.5" cy="319.7" r="0.3"/><circle cx="120.0" cy="307.5" r="0.3"/><circle cx="109.8" cy="326.8" r="0.3"/><circle cx="123.0" cy="314.8" r="0.3"/><circle cx="103.6" cy="325.3" r="0.3"/><circle cx="122.3" cy="307.0" r="0.3"/><circle cx="130.8" cy="330.7" r="0.3"/><circle cx="88.4" cy="332.1" r="0.3"/><circle cx="89.5" cy="308.5" r="0.3"/><circle cx="111.2" cy="320.8" r="0.3"/><circle cx="107.5" cy="302.4" r="0.3"/><circle cx="89.3" cy="318.0" r="0.3"/><circle cx="108.5" cy="305.9" r="0.3"/><circle cx="98.8" cy="340.7" r="0.3"/><circle cx="99.5" cy="318.0" r="0.3"/><circle cx="101.7" cy="311.9" r="0.3"/><circle cx="111.2" cy="310.9" r="0.3"/><circle cx="115.4" cy="298.5" r="0.3"/><circle cx="99.9" cy="342.5" r="0.3"/><circle cx="114.4" cy="321.9" r="0.3"/><circle cx="131.0" cy="311.6" r="0.3"/><circle cx="105.5" cy="298.8" r="0.3"/><circle cx="93.9" cy="333.9" r="0.3"/><circle cx="124.1" cy="315.1" r="0.3"/><circle cx="79.1" cy="304.3" r="0.3"/><circle cx="91.8" cy="309.5" r="0.3"/><circle cx="109.6" cy="303.1" r="0.3"/><circle cx="131.4" cy="297.6" r="0.3"/><circle cx="108.0" cy="326.0" r="0.3"/><circle cx="112.6" cy="303.2" r="0.3"/><circle cx="132.2" cy="327.2" r="0.3"/><circle cx="93.6" cy="319.6" r="0.3"/><circle cx="88.1" cy="302.3" r="0.3"/><circle cx="124.0" cy="316.6" r="0.3"/><circle cx="127.6" cy="311.8" r="0.3"/><circle cx="83.5" cy="327.0" r="0.3"/><circle cx="97.3" cy="307.0" r="0.3"/><circle cx="99.9" cy="328.7" r="0.3"/><circle cx="116.7" cy="335.0" r="0.3"/><circle cx="110.0" cy="292.4" r="0.3"/><circle cx="130.2" cy="320.2" r="0.3"/><circle cx="107.0" cy="302.1" r="0.3"/><circle cx="131.0" cy="289.7" r="0.3"/><circle cx="102.2" cy="296.1" r="0.3"/><circle cx="86.6" cy="305.8" r="0.3"/><circle cx="132.7" cy="318.3" r="0.3"/><circle cx="100.2" cy="303.5" r="0.3"/><circle cx="112.9" cy="318.1" r="0.3"/><circle cx="85.2" cy="312.8" r="0.3"/><circle cx="113.7" cy="321.5" r="0.3"/><circle cx="115.1" cy="317.9" r="0.3"/><circle cx="83.1" cy="298.0" r="0.3"/><circle cx="112.2" cy="303.0" r="0.3"/><circle cx="108.5" cy="311.2" r="0.3"/><circle cx="115.3" cy="303.3" r="0.3"/><circle cx="132.6" cy="304.8" r="0.3"/><circle cx="122.3" cy="316.6" r="0.3"/><circle cx="128.5" cy="311.1" r="0.3"/><circle cx="84.4" cy="319.4" r="0.3"/><circle cx="140.5" cy="306.3" r="0.3"/><circle cx="122.1" cy="314.8" r="0.3"/><circle cx="99.8" cy="311.6" r="0.3"/><circle cx="108.1" cy="329.6" r="0.3"/><circle cx="125.3" cy="328.9" r="0.3"/><circle cx="127.7" cy="329.1" r="0.3"/><circle cx="113.1" cy="299.4" r="0.3"/><circle cx="138.2" cy="305.8" r="0.3"/><circle cx="129.9" cy="308.2" r="0.3"/><circle cx="108.1" cy="317.8" r="0.3"/><circle cx="90.6" cy="309.8" r="0.3"/><circle cx="97.0" cy="314.8" r="0.3"/><circle cx="92.3" cy="322.0" r="0.3"/><circle cx="125.6" cy="331.8" r="0.3"/><circle cx="137.9" cy="301.3" r="0.3"/><circle cx="123.6" cy="306.0" r="0.3"/><circle cx="117.4" cy="311.1" r="0.3"/><circle cx="104.6" cy="318.3" r="0.3"/><circle cx="93.0" cy="328.1" r="0.3"/><circle cx="102.9" cy="305.3" r="0.3"/><circle cx="109.4" cy="321.8" r="0.3"/><circle cx="104.5" cy="323.2" r="0.3"/><circle cx="127.3" cy="325.5" r="0.3"/><circle cx="96.0" cy="320.1" r="0.3"/><circle cx="126.2" cy="325.3" r="0.3"/><circle cx="119.2" cy="319.7" r="0.3"/><circle cx="88.4" cy="318.0" r="0.3"/><circle cx="134.4" cy="300.1" r="0.3"/><circle cx="139.5" cy="292.4" r="0.3"/><circle cx="100.7" cy="300.2" r="0.3"/><circle cx="122.3" cy="312.4" r="0.3"/><circle cx="141.6" cy="302.2" r="0.3"/><circle cx="102.0" cy="301.8" r="0.3"/><circle cx="115.2" cy="323.9" r="0.3"/><circle cx="128.2" cy="321.1" r="0.3"/><circle cx="124.2" cy="307.8" r="0.3"/><circle cx="121.4" cy="311.7" r="0.3"/><circle cx="100.8" cy="339.7" r="0.3"/><circle cx="112.5" cy="301.2" r="0.3"/><circle cx="118.8" cy="314.3" r="0.3"/><circle cx="132.9" cy="321.6" r="0.3"/><circle cx="71.0" cy="339.8" r="0.3"/><circle cx="129.6" cy="294.4" r="0.3"/><circle cx="86.6" cy="329.2" r="0.3"/><circle cx="118.4" cy="315.2" r="0.3"/><circle cx="93.9" cy="316.8" r="0.3"/><circle cx="118.2" cy="320.0" r="0.3"/><circle cx="144.8" cy="302.2" r="0.3"/><circle cx="92.5" cy="294.7" r="0.3"/><circle cx="126.8" cy="305.5" r="0.3"/></g>
<ellipse cx="81.0" cy="295.2" rx="7.3" ry="4.9" transform="rotate(-6 81 295.2)" fill="none" stroke="#111" stroke-width="0.95"/>
<ellipse cx="80.3" cy="295.3" rx="3.3" ry="2.1" fill="#fff" stroke="#111" stroke-width="0.9"/>
<g clip-path="url(#c3)"><path d="M106.97 317.26C107.08 317.89 107.02 318.57 106.79 319.24C106.56 319.90 106.16 320.60 105.61 321.26C105.06 321.92 104.33 322.58 103.49 323.19C102.66 323.79 101.66 324.38 100.60 324.89C99.53 325.40 98.33 325.87 97.12 326.26C95.90 326.64 94.58 326.96 93.28 327.19C91.99 327.42 90.64 327.57 89.37 327.62C88.09 327.68 86.80 327.65 85.63 327.53C84.45 327.41 83.32 327.20 82.32 326.92C81.33 326.64 80.42 326.26 79.68 325.83C78.94 325.40 78.31 324.88 77.87 324.34C77.43 323.79 77.14 323.17 77.03 322.54C76.92 321.91 76.98 321.23 77.21 320.56C77.44 319.90 77.84 319.20 78.39 318.54C78.94 317.88 79.67 317.22 80.51 316.61C81.34 316.01 82.34 315.42 83.40 314.91C84.47 314.40 85.67 313.93 86.88 313.54C88.10 313.16 89.42 312.84 90.72 312.61C92.01 312.38 93.36 312.23 94.63 312.18C95.91 312.12 97.20 312.15 98.37 312.27C99.55 312.39 100.68 312.60 101.68 312.88C102.67 313.16 103.58 313.54 104.32 313.97C105.06 314.40 105.69 314.92 106.13 315.46C106.57 316.01 106.86 316.63 106.97 317.26Z" fill="#b0b0b0" stroke="#1a1a1a" stroke-width="0.55"/><path d="M105.92 317.47C106.02 318.05 105.97 318.68 105.76 319.30C105.54 319.92 105.16 320.57 104.65 321.18C104.14 321.80 103.47 322.41 102.69 322.98C101.91 323.54 100.98 324.09 100.00 324.56C99.01 325.04 97.89 325.48 96.76 325.83C95.62 326.19 94.40 326.49 93.20 326.70C91.99 326.91 90.74 327.05 89.55 327.10C88.36 327.16 87.17 327.13 86.07 327.02C84.98 326.91 83.92 326.71 83.00 326.45C82.08 326.19 81.23 325.84 80.54 325.44C79.85 325.04 79.27 324.56 78.86 324.05C78.45 323.54 78.18 322.96 78.08 322.38C77.98 321.79 78.03 321.16 78.24 320.54C78.46 319.92 78.84 319.27 79.35 318.66C79.86 318.05 80.53 317.43 81.31 316.86C82.09 316.30 83.02 315.75 84.00 315.28C84.99 314.80 86.11 314.37 87.24 314.01C88.38 313.65 89.60 313.36 90.80 313.14C92.01 312.93 93.26 312.79 94.45 312.74C95.64 312.69 96.83 312.72 97.93 312.82C99.02 312.93 100.08 313.13 101.00 313.39C101.92 313.66 102.77 314.01 103.46 314.41C104.15 314.81 104.73 315.29 105.14 315.80C105.55 316.31 105.82 316.88 105.92 317.47Z" fill="#999" stroke="#1a1a1a" stroke-width="0.55"/><path d="M104.87 317.67C104.97 318.21 104.92 318.80 104.72 319.37C104.53 319.94 104.17 320.54 103.70 321.11C103.23 321.68 102.60 322.25 101.88 322.77C101.17 323.29 100.31 323.79 99.39 324.23C98.48 324.67 97.45 325.08 96.40 325.41C95.35 325.74 94.22 326.01 93.11 326.21C91.99 326.41 90.83 326.53 89.74 326.58C88.64 326.63 87.53 326.61 86.52 326.50C85.51 326.40 84.53 326.22 83.68 325.98C82.83 325.73 82.04 325.41 81.40 325.04C80.77 324.67 80.23 324.23 79.85 323.76C79.47 323.29 79.22 322.75 79.13 322.21C79.03 321.67 79.08 321.09 79.28 320.51C79.47 319.94 79.83 319.34 80.30 318.77C80.77 318.21 81.40 317.64 82.12 317.12C82.83 316.59 83.69 316.09 84.61 315.65C85.52 315.21 86.55 314.80 87.60 314.48C88.65 314.15 89.78 313.87 90.89 313.67C92.01 313.48 93.17 313.35 94.26 313.30C95.36 313.25 96.47 313.28 97.48 313.38C98.49 313.48 99.47 313.66 100.32 313.91C101.17 314.15 101.96 314.47 102.60 314.84C103.23 315.21 103.77 315.66 104.15 316.13C104.53 316.60 104.78 317.13 104.87 317.67Z" fill="#888" stroke="#1a1a1a" stroke-width="0.55"/><path d="M103.68 317.91C103.76 318.40 103.71 318.93 103.54 319.45C103.36 319.97 103.04 320.51 102.61 321.03C102.18 321.54 101.62 322.06 100.96 322.53C100.31 323.00 99.54 323.46 98.71 323.86C97.88 324.26 96.94 324.63 95.99 324.92C95.04 325.22 94.01 325.47 93.00 325.65C91.99 325.83 90.94 325.94 89.95 325.99C88.95 326.03 87.95 326.01 87.03 325.92C86.11 325.83 85.23 325.66 84.45 325.44C83.68 325.22 82.97 324.93 82.39 324.59C81.81 324.26 81.33 323.85 80.98 323.43C80.64 323.00 80.41 322.52 80.32 322.02C80.24 321.53 80.29 321.00 80.46 320.48C80.64 319.96 80.96 319.42 81.39 318.91C81.82 318.39 82.38 317.87 83.04 317.40C83.69 316.93 84.46 316.47 85.29 316.07C86.12 315.67 87.06 315.31 88.01 315.01C88.96 314.71 89.99 314.46 91.00 314.28C92.01 314.10 93.06 313.99 94.05 313.94C95.05 313.90 96.05 313.92 96.97 314.01C97.89 314.11 98.77 314.27 99.55 314.49C100.32 314.71 101.03 315.01 101.61 315.34C102.19 315.68 102.67 316.08 103.02 316.51C103.36 316.93 103.59 317.42 103.68 317.91Z" fill="#666" stroke="#1a1a1a" stroke-width="0.55"/><path d="M102.48 318.14C102.56 318.58 102.51 319.06 102.35 319.53C102.20 319.99 101.91 320.48 101.52 320.94C101.14 321.40 100.63 321.87 100.05 322.29C99.46 322.71 98.76 323.13 98.02 323.48C97.27 323.84 96.43 324.17 95.58 324.44C94.73 324.71 93.80 324.93 92.90 325.09C92.00 325.25 91.05 325.36 90.16 325.40C89.26 325.44 88.36 325.41 87.54 325.33C86.72 325.25 85.92 325.10 85.23 324.90C84.53 324.71 83.89 324.44 83.38 324.14C82.86 323.84 82.42 323.48 82.11 323.09C81.80 322.71 81.60 322.28 81.52 321.84C81.44 321.40 81.49 320.92 81.65 320.45C81.80 319.99 82.09 319.50 82.48 319.04C82.86 318.58 83.37 318.11 83.95 317.69C84.54 317.27 85.24 316.85 85.98 316.50C86.73 316.14 87.57 315.81 88.42 315.54C89.27 315.27 90.20 315.05 91.10 314.89C92.00 314.73 92.95 314.62 93.84 314.58C94.74 314.54 95.64 314.57 96.46 314.65C97.28 314.73 98.08 314.88 98.77 315.08C99.47 315.27 100.11 315.54 100.62 315.84C101.14 316.14 101.58 316.50 101.89 316.89C102.20 317.27 102.40 317.70 102.48 318.14Z" fill="#333" stroke="#1a1a1a" stroke-width="0.55"/><path d="M100.98 318.44C101.05 318.81 101.01 319.22 100.87 319.62C100.74 320.02 100.49 320.44 100.16 320.83C99.83 321.23 99.40 321.63 98.90 321.99C98.40 322.36 97.80 322.71 97.16 323.01C96.52 323.32 95.80 323.60 95.07 323.83C94.34 324.06 93.55 324.26 92.77 324.39C92.00 324.53 91.19 324.62 90.42 324.65C89.65 324.69 88.88 324.67 88.18 324.60C87.47 324.53 86.79 324.40 86.19 324.23C85.60 324.06 85.05 323.84 84.61 323.58C84.16 323.32 83.79 323.01 83.52 322.68C83.26 322.35 83.09 321.98 83.02 321.60C82.95 321.23 82.99 320.82 83.13 320.42C83.26 320.02 83.51 319.60 83.84 319.21C84.17 318.81 84.60 318.41 85.10 318.05C85.60 317.68 86.20 317.33 86.84 317.03C87.48 316.72 88.20 316.44 88.93 316.21C89.66 315.98 90.45 315.78 91.23 315.65C92.00 315.51 92.81 315.42 93.58 315.39C94.35 315.35 95.12 315.37 95.82 315.44C96.53 315.51 97.21 315.64 97.81 315.81C98.40 315.98 98.95 316.20 99.39 316.46C99.84 316.72 100.21 317.03 100.48 317.36C100.74 317.69 100.91 318.06 100.98 318.44Z" fill="#1a1a1a" stroke="#1a1a1a" stroke-width="0.55"/><path d="M99.48 318.73C99.54 319.04 99.51 319.39 99.40 319.72C99.28 320.05 99.08 320.40 98.80 320.73C98.53 321.06 98.16 321.39 97.75 321.69C97.33 322.00 96.83 322.29 96.30 322.55C95.77 322.80 95.17 323.04 94.56 323.23C93.95 323.42 93.29 323.58 92.64 323.69C92.00 323.81 91.32 323.88 90.68 323.91C90.05 323.94 89.40 323.92 88.81 323.87C88.23 323.81 87.66 323.70 87.16 323.56C86.67 323.42 86.21 323.23 85.84 323.01C85.47 322.80 85.16 322.54 84.94 322.27C84.72 321.99 84.57 321.68 84.52 321.37C84.46 321.06 84.49 320.71 84.60 320.38C84.72 320.05 84.92 319.70 85.20 319.37C85.47 319.04 85.84 318.71 86.25 318.41C86.67 318.10 87.17 317.81 87.70 317.55C88.23 317.30 88.83 317.06 89.44 316.87C90.05 316.68 90.71 316.52 91.36 316.41C92.00 316.29 92.68 316.22 93.32 316.19C93.95 316.16 94.60 316.18 95.19 316.23C95.77 316.29 96.34 316.40 96.84 316.54C97.33 316.68 97.79 316.87 98.16 317.09C98.53 317.30 98.84 317.56 99.06 317.83C99.28 318.11 99.43 318.42 99.48 318.73Z" fill="#111" stroke="#1a1a1a" stroke-width="0.55"/><path d="M97.99 319.02C98.03 319.28 98.01 319.55 97.92 319.81C97.83 320.08 97.66 320.36 97.44 320.62C97.22 320.89 96.93 321.15 96.60 321.39C96.26 321.64 95.86 321.87 95.44 322.08C95.01 322.28 94.53 322.47 94.05 322.62C93.56 322.78 93.03 322.90 92.51 323.00C92.00 323.09 91.46 323.15 90.95 323.17C90.44 323.19 89.92 323.18 89.45 323.13C88.98 323.09 88.53 323.00 88.13 322.89C87.73 322.77 87.37 322.62 87.07 322.45C86.77 322.28 86.53 322.07 86.35 321.85C86.17 321.63 86.06 321.39 86.01 321.14C85.97 320.88 85.99 320.61 86.08 320.35C86.17 320.08 86.34 319.80 86.56 319.54C86.78 319.27 87.07 319.01 87.40 318.77C87.74 318.52 88.14 318.29 88.56 318.08C88.99 317.88 89.47 317.69 89.95 317.54C90.44 317.38 90.97 317.26 91.49 317.16C92.00 317.07 92.54 317.01 93.05 316.99C93.56 316.97 94.08 316.98 94.55 317.03C95.02 317.07 95.47 317.16 95.87 317.27C96.27 317.39 96.63 317.54 96.93 317.71C97.23 317.88 97.47 318.09 97.65 318.31C97.83 318.53 97.94 318.77 97.99 319.02Z" fill="#1a1a1a" stroke="#1a1a1a" stroke-width="0.55"/><path d="M96.49 319.32C96.52 319.51 96.51 319.71 96.44 319.91C96.37 320.11 96.25 320.32 96.08 320.52C95.92 320.71 95.70 320.91 95.45 321.10C95.20 321.28 94.90 321.45 94.58 321.61C94.26 321.76 93.90 321.90 93.53 322.02C93.17 322.13 92.77 322.23 92.39 322.30C92.00 322.36 91.59 322.41 91.21 322.43C90.83 322.44 90.44 322.43 90.09 322.40C89.74 322.36 89.39 322.30 89.10 322.22C88.80 322.13 88.53 322.02 88.30 321.89C88.08 321.76 87.89 321.61 87.76 321.44C87.63 321.28 87.54 321.09 87.51 320.90C87.48 320.71 87.49 320.51 87.56 320.31C87.63 320.11 87.75 319.90 87.92 319.70C88.08 319.51 88.30 319.31 88.55 319.12C88.80 318.94 89.10 318.77 89.42 318.61C89.74 318.46 90.10 318.32 90.47 318.20C90.83 318.09 91.23 317.99 91.61 317.92C92.00 317.86 92.41 317.81 92.79 317.79C93.17 317.78 93.56 317.79 93.91 317.82C94.26 317.86 94.61 317.92 94.90 318.00C95.20 318.09 95.47 318.20 95.70 318.33C95.92 318.46 96.11 318.61 96.24 318.78C96.37 318.94 96.46 319.13 96.49 319.32Z" fill="#222" stroke="#1a1a1a" stroke-width="0.55"/><path d="M94.99 319.61C95.02 319.74 95.00 319.87 94.96 320.01C94.91 320.14 94.83 320.28 94.72 320.41C94.61 320.54 94.47 320.68 94.30 320.80C94.13 320.92 93.93 321.04 93.72 321.14C93.51 321.24 93.27 321.33 93.02 321.41C92.78 321.49 92.52 321.55 92.26 321.60C92.00 321.64 91.73 321.67 91.47 321.68C91.22 321.70 90.96 321.69 90.73 321.67C90.49 321.64 90.26 321.60 90.06 321.54C89.87 321.49 89.68 321.41 89.54 321.33C89.39 321.24 89.26 321.14 89.17 321.03C89.09 320.92 89.03 320.79 89.01 320.67C88.98 320.54 89.00 320.41 89.04 320.27C89.09 320.14 89.17 320.00 89.28 319.87C89.39 319.74 89.53 319.60 89.70 319.48C89.87 319.36 90.07 319.24 90.28 319.14C90.49 319.04 90.73 318.95 90.98 318.87C91.22 318.79 91.48 318.73 91.74 318.68C92.00 318.64 92.27 318.61 92.53 318.60C92.78 318.58 93.04 318.59 93.27 318.61C93.51 318.64 93.74 318.68 93.94 318.74C94.13 318.79 94.32 318.87 94.46 318.95C94.61 319.04 94.74 319.14 94.83 319.25C94.91 319.36 94.97 319.49 94.99 319.61Z" fill="#444" stroke="#1a1a1a" stroke-width="0.55"/></g>
<path d="M104 314.5C106.5 315.5 108.5 315.5 110.5 314.5L111.5 320C109 319.5 106.5 320 104 321.5Z" fill="#888" stroke="#333" stroke-width="0.5"/>
<g clip-path="url(#c3)"><path d="M127.78 308.10C128.08 308.62 128.29 309.23 128.37 309.85C128.46 310.47 128.43 311.16 128.30 311.84C128.17 312.52 127.91 313.25 127.57 313.94C127.22 314.63 126.76 315.34 126.22 316.00C125.69 316.66 125.04 317.31 124.36 317.88C123.67 318.46 122.89 319.00 122.10 319.46C121.31 319.92 120.45 320.32 119.60 320.63C118.76 320.93 117.88 321.17 117.04 321.30C116.20 321.43 115.36 321.48 114.58 321.43C113.81 321.39 113.06 321.25 112.40 321.02C111.74 320.80 111.14 320.48 110.64 320.09C110.14 319.70 109.72 319.22 109.42 318.70C109.12 318.18 108.91 317.57 108.83 316.95C108.74 316.33 108.77 315.64 108.90 314.96C109.03 314.28 109.29 313.55 109.63 312.86C109.98 312.17 110.44 311.46 110.98 310.80C111.51 310.14 112.16 309.49 112.84 308.92C113.53 308.34 114.31 307.80 115.10 307.34C115.89 306.88 116.75 306.48 117.60 306.17C118.44 305.87 119.32 305.63 120.16 305.50C121.00 305.37 121.84 305.32 122.62 305.37C123.39 305.41 124.14 305.55 124.80 305.78C125.46 306.00 126.06 306.32 126.56 306.71C127.06 307.10 127.48 307.58 127.78 308.10Z" fill="#a0a0a0" stroke="#1a1a1a" stroke-width="0.55"/><path d="M126.86 308.63C127.13 309.10 127.32 309.64 127.40 310.20C127.47 310.77 127.45 311.38 127.33 312.00C127.21 312.61 126.98 313.26 126.67 313.89C126.36 314.51 125.94 315.15 125.46 315.74C124.98 316.33 124.40 316.92 123.78 317.44C123.16 317.95 122.46 318.44 121.75 318.86C121.04 319.27 120.26 319.63 119.50 319.90C118.75 320.18 117.95 320.39 117.20 320.51C116.44 320.63 115.68 320.67 114.99 320.63C114.29 320.59 113.61 320.46 113.02 320.26C112.43 320.06 111.88 319.77 111.43 319.42C110.99 319.07 110.61 318.64 110.34 318.17C110.07 317.70 109.88 317.16 109.80 316.60C109.73 316.03 109.75 315.42 109.87 314.80C109.99 314.19 110.22 313.54 110.53 312.91C110.84 312.29 111.26 311.65 111.74 311.06C112.22 310.47 112.80 309.88 113.42 309.36C114.04 308.85 114.74 308.36 115.45 307.94C116.16 307.53 116.94 307.17 117.70 306.90C118.45 306.62 119.25 306.41 120.00 306.29C120.76 306.17 121.52 306.13 122.21 306.17C122.91 306.21 123.59 306.34 124.18 306.54C124.77 306.74 125.32 307.03 125.77 307.38C126.21 307.73 126.59 308.16 126.86 308.63Z" fill="#777" stroke="#1a1a1a" stroke-width="0.55"/><path d="M125.94 309.16C126.19 309.58 126.35 310.06 126.42 310.56C126.49 311.06 126.47 311.61 126.36 312.15C126.25 312.70 126.05 313.28 125.77 313.83C125.50 314.39 125.12 314.95 124.70 315.48C124.27 316.01 123.75 316.53 123.21 316.99C122.66 317.45 122.03 317.88 121.40 318.25C120.77 318.62 120.08 318.94 119.40 319.18C118.73 319.43 118.02 319.61 117.35 319.72C116.68 319.83 116.01 319.86 115.39 319.83C114.77 319.79 114.17 319.68 113.64 319.50C113.11 319.32 112.63 319.06 112.23 318.75C111.83 318.44 111.50 318.06 111.26 317.64C111.01 317.22 110.85 316.74 110.78 316.24C110.71 315.74 110.73 315.19 110.84 314.65C110.95 314.10 111.15 313.52 111.43 312.97C111.70 312.41 112.08 311.85 112.50 311.32C112.93 310.79 113.45 310.27 113.99 309.81C114.54 309.35 115.17 308.92 115.80 308.55C116.43 308.18 117.12 307.86 117.80 307.62C118.47 307.37 119.18 307.19 119.85 307.08C120.52 306.97 121.19 306.94 121.81 306.97C122.43 307.01 123.03 307.12 123.56 307.30C124.09 307.48 124.57 307.74 124.97 308.05C125.37 308.36 125.70 308.74 125.94 309.16Z" fill="#555" stroke="#1a1a1a" stroke-width="0.55"/><path d="M125.03 309.69C125.24 310.06 125.38 310.48 125.44 310.91C125.50 311.35 125.48 311.83 125.39 312.31C125.30 312.79 125.12 313.29 124.88 313.78C124.63 314.26 124.31 314.76 123.93 315.22C123.56 315.68 123.11 316.13 122.63 316.54C122.15 316.94 121.60 317.32 121.05 317.64C120.50 317.96 119.89 318.24 119.30 318.46C118.71 318.67 118.09 318.84 117.51 318.93C116.92 319.02 116.33 319.06 115.79 319.02C115.25 318.99 114.72 318.89 114.26 318.73C113.80 318.58 113.37 318.35 113.03 318.08C112.68 317.81 112.39 317.48 112.17 317.11C111.96 316.74 111.82 316.32 111.76 315.89C111.70 315.45 111.72 314.97 111.81 314.49C111.90 314.01 112.08 313.51 112.32 313.02C112.57 312.54 112.89 312.04 113.27 311.58C113.64 311.12 114.09 310.67 114.57 310.26C115.05 309.86 115.60 309.48 116.15 309.16C116.70 308.84 117.31 308.56 117.90 308.34C118.49 308.13 119.11 307.96 119.69 307.87C120.28 307.78 120.87 307.74 121.41 307.78C121.95 307.81 122.48 307.91 122.94 308.07C123.40 308.22 123.83 308.45 124.17 308.72C124.52 308.99 124.81 309.32 125.03 309.69Z" fill="#333" stroke="#1a1a1a" stroke-width="0.55"/><path d="M124.11 310.22C124.29 310.53 124.41 310.90 124.46 311.27C124.52 311.64 124.50 312.06 124.42 312.46C124.34 312.87 124.19 313.31 123.98 313.72C123.77 314.14 123.49 314.57 123.17 314.96C122.85 315.35 122.47 315.74 122.05 316.09C121.64 316.44 121.18 316.76 120.70 317.04C120.22 317.31 119.71 317.55 119.20 317.74C118.70 317.92 118.17 318.06 117.66 318.14C117.16 318.22 116.65 318.25 116.19 318.22C115.73 318.19 115.27 318.11 114.88 317.97C114.49 317.84 114.12 317.65 113.82 317.41C113.53 317.18 113.27 316.89 113.09 316.58C112.91 316.27 112.79 315.90 112.74 315.53C112.68 315.16 112.70 314.74 112.78 314.34C112.86 313.93 113.01 313.49 113.22 313.08C113.43 312.66 113.71 312.23 114.03 311.84C114.35 311.45 114.73 311.06 115.15 310.71C115.56 310.36 116.02 310.04 116.50 309.76C116.98 309.49 117.49 309.25 118.00 309.06C118.50 308.88 119.03 308.74 119.54 308.66C120.04 308.58 120.55 308.55 121.01 308.58C121.47 308.61 121.93 308.69 122.32 308.83C122.71 308.96 123.08 309.15 123.38 309.39C123.67 309.62 123.93 309.91 124.11 310.22Z" fill="#111" stroke="#1a1a1a" stroke-width="0.55"/><path d="M123.19 310.75C123.34 311.01 123.44 311.31 123.49 311.62C123.53 311.94 123.52 312.28 123.45 312.62C123.38 312.96 123.26 313.32 123.08 313.67C122.91 314.02 122.68 314.37 122.41 314.70C122.14 315.03 121.82 315.35 121.48 315.64C121.13 315.93 120.75 316.20 120.35 316.43C119.95 316.66 119.52 316.86 119.10 317.01C118.68 317.17 118.24 317.28 117.82 317.35C117.40 317.42 116.98 317.44 116.59 317.42C116.21 317.39 115.83 317.32 115.50 317.21C115.17 317.10 114.87 316.94 114.62 316.74C114.37 316.55 114.16 316.31 114.01 316.05C113.86 315.79 113.76 315.49 113.71 315.18C113.67 314.86 113.68 314.52 113.75 314.18C113.82 313.84 113.94 313.48 114.12 313.13C114.29 312.78 114.52 312.43 114.79 312.10C115.06 311.77 115.38 311.45 115.72 311.16C116.07 310.87 116.45 310.60 116.85 310.37C117.25 310.14 117.68 309.94 118.10 309.79C118.52 309.63 118.96 309.52 119.38 309.45C119.80 309.38 120.22 309.36 120.61 309.38C120.99 309.41 121.37 309.48 121.70 309.59C122.03 309.70 122.33 309.86 122.58 310.06C122.83 310.25 123.04 310.49 123.19 310.75Z" fill="#111" stroke="#1a1a1a" stroke-width="0.55"/><path d="M122.46 311.17C122.58 311.39 122.67 311.65 122.70 311.91C122.74 312.17 122.73 312.46 122.67 312.75C122.62 313.03 122.51 313.34 122.37 313.63C122.22 313.92 122.03 314.22 121.80 314.49C121.58 314.77 121.31 315.04 121.02 315.28C120.73 315.53 120.40 315.75 120.07 315.95C119.74 316.14 119.38 316.31 119.02 316.44C118.67 316.56 118.30 316.66 117.95 316.72C117.59 316.77 117.24 316.79 116.91 316.77C116.59 316.75 116.27 316.70 116.00 316.60C115.72 316.51 115.46 316.37 115.26 316.21C115.05 316.05 114.87 315.85 114.74 315.63C114.62 315.41 114.53 315.15 114.50 314.89C114.46 314.63 114.47 314.34 114.53 314.05C114.58 313.77 114.69 313.46 114.83 313.17C114.98 312.88 115.17 312.58 115.40 312.31C115.62 312.03 115.89 311.76 116.18 311.52C116.47 311.27 116.80 311.05 117.13 310.85C117.46 310.66 117.82 310.49 118.18 310.36C118.53 310.24 118.90 310.14 119.25 310.08C119.61 310.03 119.96 310.01 120.29 310.03C120.61 310.05 120.93 310.10 121.20 310.20C121.48 310.29 121.74 310.43 121.94 310.59C122.15 310.75 122.33 310.95 122.46 311.17Z" fill="#1a1a1a" stroke="#1a1a1a" stroke-width="0.55"/><path d="M121.72 311.60C121.82 311.78 121.89 311.98 121.92 312.19C121.95 312.40 121.94 312.64 121.90 312.87C121.85 313.10 121.77 313.35 121.65 313.58C121.53 313.82 121.37 314.06 121.19 314.28C121.01 314.51 120.79 314.73 120.56 314.92C120.32 315.12 120.06 315.31 119.79 315.46C119.52 315.62 119.23 315.75 118.94 315.86C118.65 315.96 118.35 316.04 118.07 316.09C117.79 316.13 117.50 316.15 117.23 316.13C116.97 316.12 116.72 316.07 116.49 315.99C116.27 315.91 116.06 315.81 115.89 315.67C115.72 315.54 115.58 315.38 115.48 315.20C115.38 315.02 115.31 314.82 115.28 314.61C115.25 314.40 115.26 314.16 115.30 313.93C115.35 313.70 115.43 313.45 115.55 313.22C115.67 312.98 115.83 312.74 116.01 312.52C116.19 312.29 116.41 312.07 116.64 311.88C116.88 311.68 117.14 311.49 117.41 311.34C117.68 311.18 117.97 311.05 118.26 310.94C118.55 310.84 118.85 310.76 119.13 310.71C119.41 310.67 119.70 310.65 119.97 310.67C120.23 310.68 120.48 310.73 120.71 310.81C120.93 310.89 121.14 310.99 121.31 311.13C121.48 311.26 121.62 311.42 121.72 311.60Z" fill="#333" stroke="#1a1a1a" stroke-width="0.55"/><path d="M120.99 312.02C121.07 312.16 121.12 312.31 121.14 312.48C121.16 312.64 121.16 312.82 121.12 312.99C121.09 313.17 121.02 313.36 120.93 313.54C120.84 313.72 120.72 313.91 120.58 314.08C120.44 314.25 120.28 314.42 120.10 314.57C119.92 314.72 119.72 314.86 119.51 314.98C119.30 315.10 119.08 315.20 118.86 315.28C118.64 315.36 118.41 315.42 118.19 315.45C117.98 315.49 117.76 315.50 117.56 315.49C117.35 315.48 117.16 315.44 116.99 315.38C116.82 315.32 116.66 315.24 116.53 315.14C116.40 315.04 116.29 314.91 116.21 314.78C116.13 314.64 116.08 314.49 116.06 314.32C116.04 314.16 116.04 313.98 116.08 313.81C116.11 313.63 116.18 313.44 116.27 313.26C116.36 313.08 116.48 312.89 116.62 312.72C116.76 312.55 116.92 312.38 117.10 312.23C117.28 312.08 117.48 311.94 117.69 311.82C117.90 311.70 118.12 311.60 118.34 311.52C118.56 311.44 118.79 311.38 119.01 311.35C119.22 311.31 119.44 311.30 119.64 311.31C119.85 311.32 120.04 311.36 120.21 311.42C120.38 311.48 120.54 311.56 120.67 311.66C120.80 311.76 120.91 311.89 120.99 312.02Z" fill="#555" stroke="#1a1a1a" stroke-width="0.55"/></g>
<path d="M85 321.6L96.5 320.9" stroke="#e0e0e0" stroke-width="0.9"/><path d="M114.8 316.4L122.4 311.6" stroke="#e8e8e8" stroke-width="1"/>
<path d="M51.5 271.8H133.4V353.8" fill="none" stroke="#111" stroke-width="1.2"/>
<path d="M51.5 271.3V353.8H133.9" fill="none" stroke="#111" stroke-width="1.5"/>
<rect x="65.5" y="285.3" width="36.3" height="24.89" fill="none" stroke="#2a2a2a" stroke-width="0.85"/>
<text x="55.8" y="324.90" font-size="8.6" text-anchor="start" fill="#000" font-weight="bold" textLength="15.4" lengthAdjust="spacingAndGlyphs" >9.54</text>
<clipPath id="c4"><rect x="160.5" y="271.7" width="81.6" height="82.10"/></clipPath>
<g stroke="#111" stroke-width="0.6"><line x1="158.7" y1="347.62" x2="160.5" y2="347.62"/><line x1="166.64" y1="353.8" x2="166.64" y2="355.6"/><line x1="158.7" y1="344.01" x2="160.5" y2="344.01"/><line x1="170.23" y1="353.8" x2="170.23" y2="355.6"/><line x1="158.7" y1="341.44" x2="160.5" y2="341.44"/><line x1="172.78" y1="353.8" x2="172.78" y2="355.6"/><line x1="158.7" y1="339.45" x2="160.5" y2="339.45"/><line x1="174.76" y1="353.8" x2="174.76" y2="355.6"/><line x1="158.7" y1="337.83" x2="160.5" y2="337.83"/><line x1="176.37" y1="353.8" x2="176.37" y2="355.6"/><line x1="158.7" y1="336.45" x2="160.5" y2="336.45"/><line x1="177.74" y1="353.8" x2="177.74" y2="355.6"/><line x1="158.7" y1="335.26" x2="160.5" y2="335.26"/><line x1="178.92" y1="353.8" x2="178.92" y2="355.6"/><line x1="158.7" y1="334.21" x2="160.5" y2="334.21"/><line x1="179.97" y1="353.8" x2="179.97" y2="355.6"/><line x1="158.7" y1="327.10" x2="160.5" y2="327.10"/><line x1="187.04" y1="353.8" x2="187.04" y2="355.6"/><line x1="158.7" y1="323.48" x2="160.5" y2="323.48"/><line x1="190.63" y1="353.8" x2="190.63" y2="355.6"/><line x1="158.7" y1="320.92" x2="160.5" y2="320.92"/><line x1="193.18" y1="353.8" x2="193.18" y2="355.6"/><line x1="158.7" y1="318.93" x2="160.5" y2="318.93"/><line x1="195.16" y1="353.8" x2="195.16" y2="355.6"/><line x1="158.7" y1="317.30" x2="160.5" y2="317.30"/><line x1="196.77" y1="353.8" x2="196.77" y2="355.6"/><line x1="158.7" y1="315.93" x2="160.5" y2="315.93"/><line x1="198.14" y1="353.8" x2="198.14" y2="355.6"/><line x1="158.7" y1="314.74" x2="160.5" y2="314.74"/><line x1="199.32" y1="353.8" x2="199.32" y2="355.6"/><line x1="158.7" y1="313.69" x2="160.5" y2="313.69"/><line x1="200.37" y1="353.8" x2="200.37" y2="355.6"/><line x1="158.7" y1="306.57" x2="160.5" y2="306.57"/><line x1="207.44" y1="353.8" x2="207.44" y2="355.6"/><line x1="158.7" y1="302.96" x2="160.5" y2="302.96"/><line x1="211.03" y1="353.8" x2="211.03" y2="355.6"/><line x1="158.7" y1="300.39" x2="160.5" y2="300.39"/><line x1="213.58" y1="353.8" x2="213.58" y2="355.6"/><line x1="158.7" y1="298.40" x2="160.5" y2="298.40"/><line x1="215.56" y1="353.8" x2="215.56" y2="355.6"/><line x1="158.7" y1="296.78" x2="160.5" y2="296.78"/><line x1="217.17" y1="353.8" x2="217.17" y2="355.6"/><line x1="158.7" y1="295.40" x2="160.5" y2="295.40"/><line x1="218.54" y1="353.8" x2="218.54" y2="355.6"/><line x1="158.7" y1="294.21" x2="160.5" y2="294.21"/><line x1="219.72" y1="353.8" x2="219.72" y2="355.6"/><line x1="158.7" y1="293.16" x2="160.5" y2="293.16"/><line x1="220.77" y1="353.8" x2="220.77" y2="355.6"/><line x1="158.7" y1="286.05" x2="160.5" y2="286.05"/><line x1="227.84" y1="353.8" x2="227.84" y2="355.6"/><line x1="158.7" y1="282.43" x2="160.5" y2="282.43"/><line x1="231.43" y1="353.8" x2="231.43" y2="355.6"/><line x1="158.7" y1="279.87" x2="160.5" y2="279.87"/><line x1="233.98" y1="353.8" x2="233.98" y2="355.6"/><line x1="158.7" y1="277.88" x2="160.5" y2="277.88"/><line x1="235.96" y1="353.8" x2="235.96" y2="355.6"/><line x1="158.7" y1="276.25" x2="160.5" y2="276.25"/><line x1="237.57" y1="353.8" x2="237.57" y2="355.6"/><line x1="158.7" y1="274.88" x2="160.5" y2="274.88"/><line x1="238.94" y1="353.8" x2="238.94" y2="355.6"/><line x1="158.7" y1="273.69" x2="160.5" y2="273.69"/><line x1="240.12" y1="353.8" x2="240.12" y2="355.6"/><line x1="158.7" y1="272.64" x2="160.5" y2="272.64"/><line x1="241.17" y1="353.8" x2="241.17" y2="355.6"/></g>
<g stroke="#111" stroke-width="0.9"><line x1="157.2" y1="353.80" x2="160.5" y2="353.80"/><line x1="160.50" y1="353.8" x2="160.50" y2="356.8"/><line x1="157.2" y1="333.27" x2="160.5" y2="333.27"/><line x1="180.90" y1="353.8" x2="180.90" y2="356.8"/><line x1="157.2" y1="312.75" x2="160.5" y2="312.75"/><line x1="201.30" y1="353.8" x2="201.30" y2="356.8"/><line x1="157.2" y1="292.23" x2="160.5" y2="292.23"/><line x1="221.70" y1="353.8" x2="221.70" y2="356.8"/><line x1="157.2" y1="271.70" x2="160.5" y2="271.70"/><line x1="242.10" y1="353.8" x2="242.10" y2="356.8"/></g>
<text x="155.3" y="356.60" font-size="7.2" text-anchor="end" fill="#1a1a1a">10<tspan font-size="5" dy="-3">0</tspan></text>
<text x="161.80" y="366.10" font-size="7.2" text-anchor="middle" fill="#1a1a1a">10<tspan font-size="5" dy="-3">0</tspan></text>
<text x="155.3" y="336.07" font-size="7.2" text-anchor="end" fill="#1a1a1a">10<tspan font-size="5" dy="-3">1</tspan></text>
<text x="182.20" y="366.10" font-size="7.2" text-anchor="middle" fill="#1a1a1a">10<tspan font-size="5" dy="-3">1</tspan></text>
<text x="155.3" y="315.55" font-size="7.2" text-anchor="end" fill="#1a1a1a">10<tspan font-size="5" dy="-3">2</tspan></text>
<text x="202.60" y="366.10" font-size="7.2" text-anchor="middle" fill="#1a1a1a">10<tspan font-size="5" dy="-3">2</tspan></text>
<text x="155.3" y="295.03" font-size="7.2" text-anchor="end" fill="#1a1a1a">10<tspan font-size="5" dy="-3">3</tspan></text>
<text x="223.00" y="366.10" font-size="7.2" text-anchor="middle" fill="#1a1a1a">10<tspan font-size="5" dy="-3">3</tspan></text>
<text x="155.3" y="274.50" font-size="7.2" text-anchor="end" fill="#1a1a1a">10<tspan font-size="5" dy="-3">4</tspan></text>
<text x="243.40" y="366.10" font-size="7.2" text-anchor="middle" fill="#1a1a1a">10<tspan font-size="5" dy="-3">4</tspan></text>
<g fill="#888" clip-path="url(#c4)"><circle cx="193.9" cy="292.1" r="0.3"/><circle cx="202.3" cy="287.3" r="0.3"/><circle cx="196.1" cy="298.7" r="0.3"/><circle cx="198.0" cy="305.8" r="0.3"/><circle cx="194.0" cy="298.6" r="0.3"/><circle cx="203.5" cy="288.8" r="0.3"/><circle cx="192.1" cy="298.4" r="0.3"/><circle cx="204.5" cy="293.2" r="0.3"/><circle cx="203.0" cy="300.3" r="0.3"/><circle cx="180.2" cy="289.2" r="0.3"/><circle cx="180.8" cy="298.8" r="0.3"/><circle cx="197.1" cy="302.3" r="0.3"/><circle cx="203.2" cy="294.7" r="0.3"/><circle cx="205.6" cy="302.9" r="0.3"/><circle cx="199.7" cy="300.9" r="0.3"/><circle cx="182.2" cy="300.2" r="0.3"/><circle cx="184.7" cy="290.9" r="0.3"/><circle cx="191.5" cy="298.8" r="0.3"/><circle cx="194.5" cy="296.0" r="0.3"/><circle cx="185.1" cy="299.1" r="0.3"/><circle cx="187.6" cy="289.6" r="0.3"/><circle cx="195.9" cy="306.7" r="0.3"/><circle cx="191.0" cy="291.7" r="0.3"/><circle cx="208.8" cy="308.2" r="0.3"/><circle cx="192.1" cy="296.7" r="0.3"/><circle cx="197.1" cy="315.6" r="0.3"/><circle cx="196.3" cy="303.9" r="0.3"/><circle cx="199.4" cy="287.1" r="0.3"/><circle cx="184.0" cy="290.6" r="0.3"/><circle cx="199.3" cy="298.6" r="0.3"/></g>
<g fill="#888" clip-path="url(#c4)"><circle cx="232.1" cy="323.3" r="0.3"/><circle cx="205.5" cy="326.7" r="0.3"/><circle cx="202.5" cy="349.1" r="0.3"/><circle cx="205.1" cy="340.7" r="0.3"/><circle cx="223.3" cy="320.0" r="0.3"/><circle cx="212.3" cy="322.2" r="0.3"/><circle cx="202.0" cy="327.6" r="0.3"/><circle cx="200.4" cy="321.3" r="0.3"/><circle cx="227.9" cy="323.4" r="0.3"/><circle cx="212.6" cy="342.7" r="0.3"/><circle cx="211.2" cy="336.2" r="0.3"/><circle cx="224.9" cy="336.8" r="0.3"/><circle cx="230.8" cy="311.8" r="0.3"/><circle cx="235.1" cy="326.3" r="0.3"/><circle cx="173.3" cy="316.0" r="0.3"/><circle cx="205.3" cy="327.6" r="0.3"/><circle cx="185.7" cy="323.7" r="0.3"/><circle cx="198.2" cy="326.7" r="0.3"/><circle cx="199.9" cy="323.8" r="0.3"/><circle cx="215.8" cy="310.0" r="0.3"/><circle cx="191.1" cy="327.3" r="0.3"/><circle cx="192.8" cy="320.5" r="0.3"/><circle cx="192.1" cy="328.1" r="0.3"/><circle cx="222.4" cy="324.1" r="0.3"/><circle cx="195.2" cy="329.6" r="0.3"/><circle cx="195.6" cy="306.7" r="0.3"/><circle cx="204.8" cy="322.2" r="0.3"/><circle cx="189.7" cy="332.3" r="0.3"/><circle cx="200.8" cy="320.4" r="0.3"/><circle cx="160.8" cy="308.8" r="0.3"/><circle cx="200.3" cy="324.8" r="0.3"/><circle cx="207.9" cy="328.2" r="0.3"/><circle cx="191.4" cy="313.4" r="0.3"/><circle cx="179.3" cy="333.6" r="0.3"/><circle cx="176.1" cy="308.1" r="0.3"/><circle cx="196.5" cy="308.3" r="0.3"/><circle cx="229.3" cy="316.1" r="0.3"/><circle cx="199.1" cy="323.6" r="0.3"/><circle cx="185.2" cy="308.3" r="0.3"/><circle cx="166.5" cy="334.6" r="0.3"/><circle cx="218.4" cy="347.6" r="0.3"/><circle cx="173.7" cy="331.6" r="0.3"/><circle cx="199.7" cy="334.5" r="0.3"/><circle cx="190.8" cy="333.2" r="0.3"/><circle cx="216.1" cy="332.1" r="0.3"/><circle cx="226.0" cy="324.3" r="0.3"/><circle cx="227.8" cy="319.0" r="0.3"/><circle cx="230.0" cy="298.5" r="0.3"/><circle cx="200.2" cy="318.0" r="0.3"/><circle cx="200.0" cy="336.3" r="0.3"/><circle cx="212.9" cy="326.9" r="0.3"/><circle cx="230.6" cy="311.2" r="0.3"/><circle cx="185.3" cy="341.1" r="0.3"/><circle cx="205.9" cy="305.3" r="0.3"/><circle cx="206.1" cy="314.2" r="0.3"/><circle cx="226.6" cy="337.4" r="0.3"/><circle cx="190.2" cy="338.9" r="0.3"/><circle cx="185.0" cy="335.2" r="0.3"/><circle cx="210.4" cy="324.7" r="0.3"/><circle cx="158.8" cy="320.4" r="0.3"/><circle cx="166.7" cy="338.2" r="0.3"/><circle cx="182.6" cy="301.7" r="0.3"/><circle cx="210.5" cy="329.7" r="0.3"/><circle cx="190.9" cy="347.2" r="0.3"/><circle cx="213.9" cy="326.7" r="0.3"/><circle cx="188.4" cy="296.4" r="0.3"/><circle cx="208.6" cy="335.6" r="0.3"/><circle cx="189.3" cy="311.9" r="0.3"/><circle cx="199.2" cy="309.3" r="0.3"/><circle cx="200.1" cy="333.7" r="0.3"/><circle cx="227.2" cy="328.7" r="0.3"/><circle cx="203.5" cy="333.5" r="0.3"/><circle cx="225.2" cy="322.8" r="0.3"/><circle cx="177.3" cy="317.1" r="0.3"/><circle cx="197.8" cy="329.4" r="0.3"/><circle cx="202.8" cy="326.7" r="0.3"/><circle cx="193.6" cy="330.2" r="0.3"/><circle cx="215.9" cy="333.6" r="0.3"/><circle cx="227.0" cy="323.1" r="0.3"/><circle cx="195.5" cy="342.9" r="0.3"/><circle cx="203.6" cy="330.1" r="0.3"/><circle cx="193.9" cy="335.7" r="0.3"/><circle cx="192.8" cy="315.9" r="0.3"/><circle cx="198.9" cy="321.6" r="0.3"/><circle cx="215.0" cy="322.2" r="0.3"/><circle cx="202.2" cy="323.8" r="0.3"/><circle cx="206.1" cy="319.7" r="0.3"/><circle cx="219.9" cy="311.8" r="0.3"/><circle cx="193.1" cy="318.9" r="0.3"/><circle cx="211.7" cy="326.4" r="0.3"/><circle cx="208.7" cy="322.7" r="0.3"/><circle cx="187.1" cy="314.8" r="0.3"/><circle cx="194.0" cy="320.6" r="0.3"/><circle cx="205.0" cy="329.5" r="0.3"/><circle cx="217.6" cy="324.9" r="0.3"/><circle cx="186.5" cy="315.4" r="0.3"/><circle cx="201.1" cy="329.6" r="0.3"/><circle cx="235.1" cy="327.8" r="0.3"/><circle cx="231.6" cy="344.7" r="0.3"/><circle cx="181.1" cy="338.1" r="0.3"/><circle cx="220.5" cy="339.5" r="0.3"/><circle cx="199.8" cy="335.6" r="0.3"/><circle cx="191.3" cy="325.3" r="0.3"/><circle cx="200.3" cy="343.8" r="0.3"/><circle cx="196.1" cy="335.6" r="0.3"/><circle cx="201.2" cy="318.9" r="0.3"/><circle cx="204.4" cy="332.6" r="0.3"/><circle cx="187.2" cy="332.3" r="0.3"/><circle cx="187.2" cy="317.2" r="0.3"/><circle cx="204.0" cy="323.6" r="0.3"/><circle cx="182.3" cy="309.7" r="0.3"/><circle cx="200.4" cy="328.4" r="0.3"/><circle cx="191.7" cy="327.9" r="0.3"/><circle cx="172.5" cy="329.9" r="0.3"/><circle cx="207.5" cy="328.8" r="0.3"/><circle cx="189.0" cy="326.8" r="0.3"/><circle cx="202.3" cy="336.7" r="0.3"/><circle cx="205.0" cy="328.5" r="0.3"/><circle cx="187.0" cy="334.6" r="0.3"/><circle cx="221.1" cy="321.1" r="0.3"/><circle cx="211.5" cy="329.1" r="0.3"/><circle cx="199.2" cy="313.1" r="0.3"/><circle cx="231.6" cy="307.3" r="0.3"/><circle cx="205.5" cy="322.2" r="0.3"/><circle cx="220.6" cy="321.8" r="0.3"/><circle cx="200.7" cy="332.1" r="0.3"/><circle cx="208.2" cy="320.8" r="0.3"/><circle cx="212.3" cy="329.9" r="0.3"/><circle cx="217.8" cy="320.9" r="0.3"/><circle cx="199.2" cy="322.1" r="0.3"/><circle cx="184.9" cy="328.5" r="0.3"/><circle cx="207.4" cy="340.2" r="0.3"/><circle cx="194.2" cy="329.9" r="0.3"/><circle cx="220.5" cy="324.9" r="0.3"/><circle cx="201.1" cy="327.3" r="0.3"/></g>
<g clip-path="url(#c4)"><path d="M181.70 324.30C181.53 322.78 182.12 321.08 183.50 319.50C184.88 317.92 187.08 315.98 190.00 314.80C192.92 313.62 197.17 312.83 201.00 312.40C204.83 311.97 209.50 312.17 213.00 312.20C216.50 312.23 219.83 311.97 222.00 312.60C224.17 313.23 225.50 314.43 226.00 316.00C226.50 317.57 225.83 320.42 225.00 322.00C224.17 323.58 222.47 324.43 221.00 325.50C219.53 326.57 217.48 327.18 216.20 328.40C214.92 329.62 214.43 331.37 213.30 332.80C212.17 334.23 210.97 336.30 209.40 337.00C207.83 337.70 206.82 337.70 203.90 337.00C200.98 336.30 195.13 334.20 191.90 332.80C188.67 331.40 186.20 330.02 184.50 328.60C182.80 327.18 181.87 325.82 181.70 324.30Z" fill="#f2f2f2" stroke="#2a2a2a" stroke-width="0.6"/><path d="M183.86 324.21C183.71 322.86 184.22 321.35 185.44 319.93C186.67 318.52 188.61 316.78 191.22 315.72C193.82 314.66 197.63 313.94 201.05 313.56C204.47 313.18 208.64 313.39 211.74 313.43C214.85 313.48 217.76 313.27 219.66 313.84C221.57 314.41 222.75 315.47 223.20 316.86C223.64 318.25 223.08 320.76 222.36 322.17C221.64 323.57 220.16 324.33 218.88 325.28C217.59 326.24 215.80 326.80 214.66 327.89C213.52 328.98 213.06 330.54 212.04 331.81C211.02 333.08 209.93 334.89 208.53 335.51C207.13 336.13 206.24 336.14 203.64 335.53C201.03 334.91 195.79 333.07 192.91 331.82C190.02 330.58 187.84 329.32 186.33 328.05C184.82 326.78 184.01 325.57 183.86 324.21Z" fill="#f6f6f6" stroke="#2a2a2a" stroke-width="0.6"/><path d="M186.02 324.13C185.89 322.94 186.32 321.61 187.39 320.36C188.46 319.12 190.14 317.58 192.43 316.64C194.72 315.70 198.09 315.04 201.10 314.71C204.11 314.39 207.78 314.61 210.49 314.67C213.19 314.73 215.68 314.58 217.33 315.08C218.98 315.59 219.99 316.51 220.39 317.72C220.79 318.93 220.32 321.11 219.72 322.34C219.11 323.56 217.85 324.22 216.75 325.06C215.65 325.90 214.12 326.42 213.13 327.38C212.13 328.33 211.69 329.71 210.78 330.81C209.87 331.92 208.89 333.48 207.66 334.02C206.42 334.56 205.67 334.59 203.38 334.06C201.09 333.53 196.45 331.94 193.91 330.85C191.38 329.76 189.47 328.62 188.16 327.50C186.84 326.38 186.15 325.32 186.02 324.13Z" fill="#fafafa" stroke="#2a2a2a" stroke-width="0.6"/><path d="M188.18 324.04C188.07 323.01 188.42 321.88 189.33 320.80C190.24 319.72 191.68 318.38 193.65 317.56C195.62 316.74 198.56 316.15 201.16 315.87C203.75 315.60 206.92 315.83 209.23 315.90C211.54 315.98 213.60 315.88 214.99 316.33C216.38 316.77 217.24 317.55 217.59 318.58C217.93 319.61 217.57 321.46 217.08 322.51C216.59 323.55 215.54 324.12 214.63 324.85C213.71 325.57 212.44 326.03 211.59 326.86C210.74 327.69 210.32 328.87 209.52 329.82C208.72 330.76 207.85 332.07 206.78 332.53C205.72 332.99 205.09 333.03 203.12 332.59C201.14 332.14 197.11 330.81 194.92 329.87C192.73 328.93 191.11 327.93 189.99 326.95C188.86 325.98 188.29 325.06 188.18 324.04Z" fill="#fff" stroke="#2a2a2a" stroke-width="0.6"/><path d="M190.33 323.95C190.25 323.09 190.52 322.14 191.28 321.23C192.03 320.32 193.21 319.18 194.86 318.48C196.52 317.78 199.02 317.25 201.21 317.03C203.39 316.81 206.07 317.05 207.97 317.14C209.88 317.23 211.52 317.19 212.66 317.57C213.79 317.95 214.48 318.58 214.78 319.43C215.08 320.29 214.82 321.81 214.44 322.67C214.06 323.54 213.24 324.02 212.51 324.63C211.78 325.24 210.76 325.65 210.05 326.35C209.35 327.05 208.95 328.04 208.26 328.83C207.57 329.61 206.81 330.66 205.91 331.04C205.01 331.42 204.52 331.47 202.85 331.12C201.19 330.76 197.77 329.68 195.93 328.90C194.09 328.11 192.75 327.23 191.81 326.41C190.88 325.58 190.42 324.81 190.33 323.95Z" fill="#fff" stroke="#2a2a2a" stroke-width="0.6"/><path d="M192.49 323.86C192.42 323.16 192.62 322.40 193.22 321.66C193.82 320.92 194.74 319.98 196.08 319.40C197.42 318.82 199.49 318.36 201.26 318.19C203.03 318.02 205.21 318.27 206.72 318.37C208.23 318.48 209.44 318.49 210.32 318.81C211.20 319.13 211.73 319.62 211.98 320.29C212.22 320.97 212.06 322.16 211.80 322.84C211.53 323.53 210.93 323.91 210.38 324.41C209.84 324.91 209.08 325.27 208.52 325.84C207.95 326.41 207.58 327.21 207.00 327.83C206.42 328.45 205.78 329.25 205.04 329.55C204.31 329.85 203.94 329.92 202.59 329.64C201.24 329.37 198.43 328.55 196.94 327.92C195.44 327.29 194.38 326.53 193.64 325.86C192.90 325.18 192.56 324.56 192.49 323.86Z" fill="#fff" stroke="#2a2a2a" stroke-width="0.6"/><path d="M194.65 323.78C194.60 323.24 194.73 322.67 195.16 322.09C195.60 321.52 196.27 320.77 197.29 320.32C198.32 319.86 199.95 319.46 201.31 319.34C202.67 319.22 204.35 319.49 205.46 319.61C206.57 319.73 207.37 319.79 207.98 320.05C208.60 320.31 208.98 320.66 209.17 321.15C209.37 321.65 209.31 322.50 209.16 323.01C209.00 323.52 208.62 323.81 208.26 324.19C207.90 324.58 207.40 324.89 206.98 325.33C206.56 325.77 206.21 326.38 205.74 326.84C205.27 327.30 204.74 327.84 204.17 328.06C203.60 328.28 203.37 328.36 202.33 328.17C201.29 327.99 199.09 327.42 197.94 326.95C196.80 326.47 196.02 325.84 195.47 325.31C194.92 324.78 194.70 324.31 194.65 323.78Z" fill="#fff" stroke="#2a2a2a" stroke-width="0.6"/></g>
<path d="M213.2 314.6H224M213.6 316.6H224M214 318.6H224M214 320.6H224M214 322.6H223M213.6 324.6H221" stroke="#444" stroke-width="0.5"/>
<ellipse cx="208.3" cy="320.4" rx="5.4" ry="5.0" fill="#5a5a5a" stroke="#222" stroke-width="0.6"/>
<ellipse cx="208.4" cy="320.8" rx="3.5" ry="2.9" fill="#fff" stroke="#222" stroke-width="0.6"/>
<ellipse cx="208.6" cy="320.8" rx="1.7" ry="1.3" fill="none" stroke="#333" stroke-width="0.5"/>
<g clip-path="url(#c4)"><path d="M243.09 312.21C243.39 312.84 243.56 313.54 243.61 314.26C243.65 314.98 243.56 315.75 243.35 316.51C243.14 317.26 242.80 318.05 242.35 318.80C241.91 319.55 241.33 320.30 240.68 320.99C240.02 321.67 239.25 322.34 238.43 322.91C237.62 323.49 236.70 324.02 235.78 324.45C234.86 324.88 233.86 325.24 232.90 325.49C231.93 325.75 230.93 325.91 229.98 325.97C229.04 326.03 228.09 325.99 227.23 325.85C226.37 325.72 225.54 325.47 224.83 325.14C224.11 324.82 223.47 324.39 222.95 323.89C222.42 323.40 222.00 322.81 221.71 322.19C221.41 321.56 221.24 320.86 221.19 320.14C221.15 319.42 221.24 318.65 221.45 317.89C221.66 317.14 222.00 316.35 222.45 315.60C222.89 314.85 223.47 314.10 224.12 313.41C224.78 312.73 225.55 312.06 226.37 311.49C227.18 310.91 228.10 310.38 229.02 309.95C229.94 309.52 230.94 309.16 231.90 308.91C232.87 308.65 233.87 308.49 234.82 308.43C235.76 308.37 236.71 308.41 237.57 308.55C238.43 308.68 239.26 308.93 239.97 309.26C240.69 309.58 241.33 310.01 241.85 310.51C242.38 311.00 242.80 311.59 243.09 312.21Z" fill="#888888" stroke="#1a1a1a" stroke-width="0.55"/><path d="M242.25 312.61C242.52 313.19 242.69 313.84 242.72 314.49C242.76 315.15 242.68 315.87 242.49 316.56C242.30 317.26 241.98 317.99 241.57 318.67C241.16 319.36 240.63 320.05 240.03 320.68C239.43 321.31 238.72 321.92 237.97 322.46C237.22 322.99 236.38 323.47 235.53 323.87C234.68 324.27 233.76 324.60 232.87 324.83C231.98 325.06 231.06 325.22 230.19 325.27C229.32 325.33 228.45 325.29 227.66 325.16C226.87 325.03 226.11 324.81 225.45 324.51C224.79 324.21 224.20 323.81 223.72 323.36C223.24 322.90 222.85 322.36 222.58 321.79C222.31 321.21 222.15 320.56 222.11 319.91C222.07 319.25 222.15 318.53 222.34 317.84C222.53 317.14 222.85 316.41 223.26 315.73C223.67 315.04 224.20 314.35 224.80 313.72C225.40 313.09 226.11 312.48 226.87 311.94C227.62 311.41 228.46 310.93 229.31 310.53C230.15 310.13 231.07 309.80 231.96 309.57C232.85 309.34 233.77 309.18 234.64 309.13C235.51 309.07 236.38 309.11 237.17 309.24C237.96 309.37 238.72 309.59 239.38 309.89C240.04 310.19 240.64 310.59 241.11 311.04C241.59 311.50 241.99 312.04 242.25 312.61Z" fill="#444" stroke="#1a1a1a" stroke-width="0.55"/><path d="M241.42 313.01C241.66 313.54 241.81 314.13 241.84 314.73C241.88 315.33 241.81 315.98 241.63 316.62C241.46 317.25 241.17 317.92 240.79 318.54C240.42 319.17 239.93 319.80 239.38 320.38C238.83 320.96 238.19 321.51 237.50 322.00C236.82 322.48 236.05 322.93 235.27 323.29C234.50 323.65 233.66 323.95 232.85 324.17C232.04 324.38 231.19 324.52 230.40 324.57C229.61 324.62 228.81 324.58 228.09 324.47C227.37 324.35 226.67 324.15 226.07 323.87C225.47 323.60 224.93 323.24 224.49 322.82C224.05 322.41 223.69 321.91 223.45 321.39C223.20 320.86 223.06 320.27 223.02 319.67C222.98 319.07 223.06 318.42 223.23 317.78C223.41 317.15 223.70 316.48 224.07 315.86C224.45 315.23 224.93 314.60 225.48 314.02C226.03 313.44 226.68 312.89 227.36 312.40C228.05 311.92 228.82 311.47 229.59 311.11C230.37 310.75 231.20 310.45 232.01 310.23C232.83 310.02 233.67 309.88 234.46 309.83C235.26 309.78 236.05 309.82 236.78 309.93C237.50 310.05 238.19 310.25 238.79 310.53C239.39 310.80 239.94 311.16 240.37 311.58C240.81 311.99 241.17 312.49 241.42 313.01Z" fill="#1a1a1a" stroke="#1a1a1a" stroke-width="0.55"/><path d="M240.58 313.41C240.80 313.89 240.93 314.42 240.96 314.97C241.00 315.51 240.93 316.10 240.77 316.67C240.61 317.25 240.35 317.85 240.01 318.42C239.67 318.98 239.23 319.56 238.74 320.08C238.24 320.60 237.65 321.10 237.03 321.54C236.41 321.98 235.72 322.38 235.02 322.71C234.32 323.04 233.56 323.31 232.83 323.50C232.09 323.70 231.33 323.82 230.61 323.87C229.89 323.91 229.17 323.88 228.52 323.78C227.87 323.67 227.24 323.49 226.69 323.24C226.15 322.99 225.66 322.66 225.26 322.29C224.87 321.91 224.54 321.47 224.32 320.99C224.10 320.51 223.96 319.98 223.93 319.43C223.90 318.89 223.97 318.30 224.12 317.73C224.28 317.15 224.54 316.55 224.88 315.98C225.22 315.42 225.66 314.84 226.16 314.32C226.66 313.80 227.24 313.30 227.86 312.86C228.48 312.42 229.18 312.02 229.88 311.69C230.58 311.36 231.33 311.09 232.07 310.90C232.80 310.70 233.57 310.58 234.29 310.53C235.00 310.49 235.73 310.52 236.38 310.62C237.03 310.73 237.66 310.91 238.20 311.16C238.74 311.41 239.24 311.74 239.63 312.11C240.03 312.49 240.35 312.93 240.58 313.41Z" fill="#111" stroke="#1a1a1a" stroke-width="0.55"/><path d="M239.74 313.81C239.93 314.23 240.05 314.71 240.08 315.20C240.11 315.69 240.05 316.21 239.91 316.73C239.77 317.24 239.54 317.78 239.23 318.29C238.93 318.80 238.54 319.31 238.09 319.77C237.65 320.24 237.12 320.69 236.57 321.08C236.01 321.48 235.39 321.84 234.76 322.13C234.14 322.42 233.46 322.67 232.80 322.84C232.15 323.01 231.46 323.12 230.82 323.17C230.18 323.21 229.53 323.18 228.95 323.08C228.36 322.99 227.80 322.82 227.32 322.60C226.83 322.38 226.39 322.09 226.03 321.75C225.68 321.42 225.39 321.02 225.19 320.59C224.99 320.17 224.87 319.69 224.84 319.20C224.82 318.71 224.87 318.19 225.02 317.67C225.16 317.16 225.39 316.62 225.70 316.11C226.00 315.60 226.39 315.09 226.84 314.63C227.28 314.16 227.81 313.71 228.36 313.32C228.92 312.92 229.54 312.56 230.16 312.27C230.79 311.98 231.47 311.73 232.13 311.56C232.78 311.39 233.47 311.28 234.11 311.23C234.75 311.19 235.40 311.22 235.98 311.32C236.56 311.41 237.13 311.58 237.61 311.80C238.10 312.02 238.54 312.31 238.89 312.65C239.25 312.98 239.54 313.38 239.74 313.81Z" fill="#333" stroke="#1a1a1a" stroke-width="0.55"/><path d="M238.90 314.21C239.07 314.58 239.18 315.01 239.20 315.44C239.23 315.87 239.18 316.33 239.05 316.78C238.93 317.24 238.72 317.71 238.45 318.16C238.18 318.61 237.84 319.06 237.45 319.47C237.05 319.88 236.59 320.28 236.10 320.63C235.61 320.97 235.06 321.29 234.51 321.55C233.95 321.81 233.36 322.02 232.78 322.18C232.20 322.33 231.60 322.43 231.03 322.46C230.46 322.50 229.89 322.47 229.38 322.39C228.86 322.31 228.37 322.16 227.94 321.97C227.51 321.77 227.12 321.51 226.81 321.22C226.49 320.92 226.24 320.57 226.06 320.19C225.89 319.82 225.78 319.39 225.76 318.96C225.73 318.53 225.78 318.07 225.91 317.62C226.03 317.16 226.24 316.69 226.51 316.24C226.78 315.79 227.12 315.34 227.51 314.93C227.91 314.52 228.37 314.12 228.86 313.77C229.35 313.43 229.90 313.11 230.45 312.85C231.01 312.59 231.60 312.38 232.18 312.22C232.76 312.07 233.36 311.97 233.93 311.94C234.50 311.90 235.07 311.93 235.58 312.01C236.10 312.09 236.59 312.24 237.02 312.43C237.45 312.63 237.84 312.89 238.15 313.18C238.47 313.48 238.72 313.83 238.90 314.21Z" fill="#555" stroke="#1a1a1a" stroke-width="0.55"/><path d="M238.06 314.61C238.21 314.93 238.30 315.30 238.32 315.67C238.34 316.04 238.30 316.45 238.19 316.84C238.08 317.23 237.90 317.64 237.67 318.03C237.44 318.42 237.14 318.81 236.80 319.17C236.46 319.52 236.06 319.87 235.63 320.17C235.21 320.47 234.73 320.75 234.25 320.97C233.77 321.19 233.26 321.38 232.75 321.51C232.25 321.64 231.73 321.73 231.24 321.76C230.75 321.79 230.25 321.77 229.81 321.70C229.36 321.63 228.93 321.50 228.56 321.33C228.19 321.16 227.85 320.94 227.58 320.68C227.31 320.42 227.09 320.12 226.93 319.79C226.78 319.47 226.69 319.10 226.67 318.73C226.65 318.36 226.69 317.95 226.80 317.56C226.91 317.17 227.09 316.76 227.32 316.37C227.55 315.98 227.85 315.59 228.19 315.23C228.53 314.88 228.93 314.53 229.36 314.23C229.78 313.93 230.26 313.65 230.74 313.43C231.22 313.21 231.73 313.02 232.24 312.89C232.74 312.76 233.26 312.67 233.75 312.64C234.25 312.61 234.74 312.63 235.19 312.70C235.63 312.77 236.06 312.90 236.43 313.07C236.80 313.24 237.14 313.46 237.41 313.72C237.68 313.98 237.91 314.28 238.06 314.61Z" fill="#666" stroke="#1a1a1a" stroke-width="0.55"/><path d="M237.22 315.01C237.35 315.28 237.42 315.59 237.44 315.91C237.46 316.22 237.42 316.56 237.33 316.89C237.24 317.23 237.09 317.58 236.89 317.90C236.69 318.23 236.44 318.56 236.15 318.87C235.87 319.17 235.53 319.46 235.17 319.71C234.81 319.97 234.41 320.20 234.00 320.39C233.59 320.58 233.16 320.74 232.73 320.85C232.31 320.96 231.86 321.03 231.45 321.06C231.03 321.09 230.61 321.07 230.24 321.01C229.86 320.95 229.49 320.84 229.18 320.70C228.87 320.55 228.58 320.36 228.35 320.15C228.12 319.93 227.93 319.67 227.81 319.39C227.68 319.12 227.60 318.81 227.58 318.49C227.56 318.18 227.60 317.84 227.69 317.51C227.78 317.17 227.94 316.82 228.13 316.50C228.33 316.17 228.58 315.84 228.87 315.53C229.16 315.23 229.50 314.94 229.86 314.69C230.22 314.43 230.62 314.20 231.02 314.01C231.43 313.82 231.87 313.66 232.29 313.55C232.72 313.44 233.16 313.37 233.58 313.34C233.99 313.31 234.41 313.33 234.79 313.39C235.17 313.45 235.53 313.56 235.84 313.70C236.16 313.85 236.44 314.04 236.67 314.25C236.90 314.47 237.09 314.73 237.22 315.01Z" fill="#555" stroke="#1a1a1a" stroke-width="0.55"/><path d="M236.38 315.40C236.48 315.63 236.55 315.88 236.56 316.14C236.58 316.40 236.55 316.68 236.47 316.95C236.40 317.22 236.27 317.51 236.11 317.78C235.95 318.04 235.74 318.32 235.51 318.56C235.27 318.81 234.99 319.05 234.70 319.26C234.41 319.46 234.08 319.66 233.75 319.81C233.41 319.97 233.06 320.09 232.71 320.19C232.36 320.28 232.00 320.34 231.66 320.36C231.32 320.38 230.98 320.36 230.67 320.32C230.36 320.27 230.06 320.18 229.80 320.06C229.55 319.94 229.31 319.79 229.12 319.61C228.94 319.43 228.78 319.22 228.68 319.00C228.57 318.77 228.51 318.52 228.49 318.26C228.48 318.00 228.51 317.72 228.59 317.45C228.66 317.18 228.78 316.89 228.94 316.62C229.11 316.36 229.31 316.08 229.55 315.84C229.78 315.59 230.06 315.35 230.36 315.14C230.65 314.94 230.98 314.74 231.31 314.59C231.64 314.43 232.00 314.31 232.35 314.21C232.70 314.12 233.06 314.06 233.40 314.04C233.74 314.02 234.08 314.04 234.39 314.08C234.70 314.13 235.00 314.22 235.25 314.34C235.51 314.46 235.74 314.61 235.93 314.79C236.12 314.97 236.27 315.18 236.38 315.40Z" fill="#333" stroke="#1a1a1a" stroke-width="0.55"/><path d="M235.54 315.80C235.62 315.98 235.67 316.18 235.68 316.38C235.69 316.58 235.67 316.79 235.61 317.01C235.55 317.22 235.46 317.44 235.33 317.65C235.21 317.86 235.04 318.07 234.86 318.26C234.68 318.45 234.46 318.64 234.23 318.80C234.01 318.96 233.75 319.11 233.49 319.23C233.23 319.35 232.95 319.45 232.68 319.52C232.41 319.59 232.13 319.64 231.87 319.66C231.60 319.67 231.34 319.66 231.10 319.62C230.86 319.58 230.62 319.52 230.42 319.42C230.22 319.33 230.04 319.21 229.90 319.07C229.75 318.94 229.63 318.77 229.55 318.60C229.47 318.42 229.42 318.22 229.41 318.02C229.39 317.82 229.42 317.61 229.48 317.39C229.54 317.18 229.63 316.96 229.76 316.75C229.88 316.54 230.04 316.33 230.23 316.14C230.41 315.95 230.63 315.76 230.85 315.60C231.08 315.44 231.34 315.29 231.60 315.17C231.86 315.05 232.13 314.95 232.40 314.88C232.68 314.81 232.96 314.76 233.22 314.74C233.49 314.73 233.75 314.74 233.99 314.78C234.23 314.82 234.46 314.88 234.66 314.98C234.86 315.07 235.05 315.19 235.19 315.33C235.34 315.46 235.46 315.63 235.54 315.80Z" fill="#222" stroke="#1a1a1a" stroke-width="0.55"/><path d="M234.70 316.20C234.76 316.33 234.79 316.47 234.80 316.61C234.81 316.76 234.79 316.91 234.75 317.06C234.71 317.21 234.64 317.37 234.55 317.52C234.46 317.67 234.35 317.82 234.22 317.96C234.08 318.09 233.93 318.23 233.77 318.34C233.60 318.46 233.42 318.56 233.24 318.65C233.05 318.74 232.85 318.81 232.66 318.86C232.47 318.91 232.27 318.94 232.08 318.95C231.89 318.97 231.70 318.96 231.53 318.93C231.35 318.90 231.19 318.85 231.05 318.79C230.90 318.72 230.77 318.64 230.67 318.54C230.56 318.44 230.48 318.32 230.42 318.20C230.36 318.07 230.33 317.93 230.32 317.79C230.31 317.64 230.33 317.49 230.37 317.34C230.41 317.19 230.48 317.03 230.57 316.88C230.66 316.73 230.77 316.58 230.90 316.44C231.04 316.31 231.19 316.17 231.35 316.06C231.52 315.94 231.70 315.84 231.88 315.75C232.07 315.66 232.27 315.59 232.46 315.54C232.65 315.49 232.85 315.46 233.04 315.45C233.23 315.43 233.42 315.44 233.59 315.47C233.77 315.50 233.93 315.55 234.07 315.61C234.22 315.68 234.35 315.76 234.45 315.86C234.56 315.96 234.64 316.08 234.70 316.20Z" fill="#111" stroke="#1a1a1a" stroke-width="0.55"/></g>
<circle cx="233" cy="317" r="0.9" fill="#fff"/>
<path d="M160.5 271.7H242.1V353.8" fill="none" stroke="#111" stroke-width="1.2"/>
<path d="M160.5 271.2V353.8H242.6" fill="none" stroke="#111" stroke-width="1.5"/>
<rect x="175.3" y="285.3" width="35.59" height="25.09" fill="none" stroke="#2a2a2a" stroke-width="0.85"/>
<ellipse cx="195.6" cy="299.4" rx="2.9" ry="3.3" fill="none" stroke="#333" stroke-width="0.7"/>
<text x="164.4" y="325.1" font-size="8.6" text-anchor="start" fill="#000" font-weight="bold" textLength="15.60" lengthAdjust="spacingAndGlyphs" >9.02</text>
<text x="282.7" y="160.6" font-size="11" text-anchor="start" fill="#000" font-weight="bold" textLength="8.0" lengthAdjust="spacingAndGlyphs" >D</text>
<rect x="313.3" y="156.5" width="3.0" height="3.0" fill="#c8102e"/>
<path d="M314.8 166.1L316.8 168.1L314.8 170.1L312.8 168.1Z" fill="#0b4f8f"/>
<text x="321" y="160.8" font-size="7.3" fill="#2a2a2a"><tspan font-style="italic">Tph1</tspan><tspan dy="-2.8" font-size="5.3" stroke-width="0.05" font-style="italic">fl/fl</tspan></text>
<text x="321" y="171.0" font-size="7.3" fill="#2a2a2a"><tspan font-style="italic">Vil1</tspan><tspan dy="-2.8" font-size="5.3" stroke-width="0.05" font-style="italic">cre</tspan><tspan dy="2.8" font-style="italic">Tph1</tspan><tspan dy="-2.8" font-size="5.3" stroke-width="0.05" font-style="italic">fl/fl</tspan></text>
<rect x="319.3" y="210.6" width="11.09" height="40.30" fill="#e08797" stroke="none" stroke-width="1"/>
<rect x="336.3" y="228.5" width="11.30" height="22.40" fill="#e08797" stroke="none" stroke-width="1"/>
<rect x="353" y="224.9" width="11.80" height="26.0" fill="#8eadcc" stroke="none" stroke-width="1"/>
<rect x="370.5" y="227.5" width="11.39" height="23.40" fill="#8eadcc" stroke="none" stroke-width="1"/>
<path d="M324.8 199.6V221.1M321.90 199.6H327.7M321.90 221.1H327.7" stroke="#2a2a2a" stroke-width="1.05" fill="none"/>
<path d="M342 218.6V237.6M339.1 218.6H344.9M339.1 237.6H344.9" stroke="#2a2a2a" stroke-width="1.05" fill="none"/>
<path d="M358.9 217.5V233.2M356.0 217.5H361.79M356.0 233.2H361.79" stroke="#2a2a2a" stroke-width="1.05" fill="none"/>
<path d="M376.2 220.3V234.2M373.3 220.3H379.09M373.3 234.2H379.09" stroke="#2a2a2a" stroke-width="1.05" fill="none"/>
<circle cx="324.7" cy="194.9" r="1.32" fill="#c8102e"/>
<circle cx="320.5" cy="202.5" r="1.32" fill="#c8102e"/>
<circle cx="329.1" cy="199.6" r="1.32" fill="#c8102e"/>
<circle cx="324.7" cy="202.5" r="1.32" fill="#c8102e"/>
<circle cx="324.7" cy="206.3" r="1.32" fill="#c8102e"/>
<circle cx="329.1" cy="218.6" r="1.32" fill="#c8102e"/>
<circle cx="324.7" cy="220.5" r="1.32" fill="#c8102e"/>
<circle cx="329.1" cy="224.3" r="1.32" fill="#c8102e"/>
<circle cx="320.5" cy="225.2" r="1.32" fill="#c8102e"/>
<circle cx="320.5" cy="220.5" r="1.32" fill="#c8102e"/>
<circle cx="341.8" cy="217.1" r="1.32" fill="#c8102e"/>
<circle cx="337.6" cy="225.8" r="1.32" fill="#c8102e"/>
<circle cx="342.3" cy="223.9" r="1.32" fill="#c8102e"/>
<circle cx="346.1" cy="228.6" r="1.32" fill="#c8102e"/>
<circle cx="337.6" cy="231.5" r="1.32" fill="#c8102e"/>
<circle cx="346.1" cy="232.8" r="1.32" fill="#c8102e"/>
<circle cx="342.3" cy="235.3" r="1.32" fill="#c8102e"/>
<circle cx="341.8" cy="242.3" r="1.32" fill="#c8102e"/>
<circle cx="342" cy="228" r="1.32" fill="#c8102e"/>
<circle cx="358.7" cy="210" r="1.32" fill="#0b4f8f"/>
<circle cx="354.4" cy="221.3" r="1.32" fill="#0b4f8f"/>
<circle cx="358.7" cy="223.2" r="1.32" fill="#0b4f8f"/>
<circle cx="363" cy="221.3" r="1.32" fill="#0b4f8f"/>
<circle cx="354.4" cy="228.5" r="1.32" fill="#0b4f8f"/>
<circle cx="358.7" cy="227.5" r="1.32" fill="#0b4f8f"/>
<circle cx="363" cy="229.9" r="1.32" fill="#0b4f8f"/>
<circle cx="358.7" cy="232" r="1.32" fill="#0b4f8f"/>
<circle cx="361.1" cy="233.7" r="1.32" fill="#0b4f8f"/>
<circle cx="356.8" cy="236.3" r="1.32" fill="#0b4f8f"/>
<circle cx="376.2" cy="214.6" r="1.32" fill="#0b4f8f"/>
<circle cx="376.2" cy="218.5" r="1.32" fill="#0b4f8f"/>
<circle cx="374.3" cy="224.9" r="1.32" fill="#0b4f8f"/>
<circle cx="371.5" cy="228.9" r="1.32" fill="#0b4f8f"/>
<circle cx="374.3" cy="228.9" r="1.32" fill="#0b4f8f"/>
<circle cx="378.6" cy="230.6" r="1.32" fill="#0b4f8f"/>
<circle cx="381" cy="232.3" r="1.32" fill="#0b4f8f"/>
<circle cx="374.3" cy="232.7" r="1.32" fill="#0b4f8f"/>
<circle cx="376.2" cy="234.2" r="1.32" fill="#0b4f8f"/>
<circle cx="376.2" cy="237.4" r="1.32" fill="#0b4f8f"/>
<line x1="313.3" y1="180.7" x2="313.3" y2="251.5" stroke="#1a1a1a" stroke-width="1.25" />
<line x1="312.7" y1="250.9" x2="386.8" y2="250.9" stroke="#1a1a1a" stroke-width="1.25" />
<line x1="310.2" y1="250.9" x2="313.3" y2="250.9" stroke="#1a1a1a" stroke-width="1.1" />
<text x="307.8" y="253.35" font-size="8.3" text-anchor="end" fill="#1a1a1a" >0</text>
<line x1="310.2" y1="228.9" x2="313.3" y2="228.9" stroke="#1a1a1a" stroke-width="1.1" />
<text x="307.8" y="231.35" font-size="8.3" text-anchor="end" fill="#1a1a1a" >10</text>
<line x1="310.2" y1="206.9" x2="313.3" y2="206.9" stroke="#1a1a1a" stroke-width="1.1" />
<text x="307.8" y="209.35" font-size="8.3" text-anchor="end" fill="#1a1a1a" >20</text>
<line x1="310.2" y1="184.9" x2="313.3" y2="184.9" stroke="#1a1a1a" stroke-width="1.1" />
<text x="307.8" y="187.35" font-size="8.3" text-anchor="end" fill="#1a1a1a" >30</text>
<line x1="324.8" y1="250.9" x2="324.8" y2="254.0" stroke="#1a1a1a" stroke-width="1.1" />
<line x1="342" y1="250.9" x2="342" y2="254.0" stroke="#1a1a1a" stroke-width="1.1" />
<line x1="358.9" y1="250.9" x2="358.9" y2="254.0" stroke="#1a1a1a" stroke-width="1.1" />
<line x1="376.2" y1="250.9" x2="376.2" y2="254.0" stroke="#1a1a1a" stroke-width="1.1" />
<line x1="319.2" y1="183.5" x2="364.4" y2="183.5" stroke="#3c3c3c" stroke-width="1.25" />
<g stroke="#222" stroke-width="1.0" stroke-linecap="round"><line x1="339.80" y1="179.15" x2="339.80" y2="181.65"/><line x1="338.72" y1="179.78" x2="340.88" y2="181.03"/><line x1="338.72" y1="181.03" x2="340.88" y2="179.78"/><line x1="343.80" y1="179.15" x2="343.80" y2="181.65"/><line x1="342.72" y1="179.78" x2="344.88" y2="181.03"/><line x1="342.72" y1="181.03" x2="344.88" y2="179.78"/></g>
<line x1="319.2" y1="191.1" x2="346.7" y2="191.1" stroke="#3c3c3c" stroke-width="1.25" />
<g stroke="#222" stroke-width="1.0" stroke-linecap="round"><line x1="330.95" y1="186.75" x2="330.95" y2="189.25"/><line x1="329.87" y1="187.38" x2="332.03" y2="188.62"/><line x1="329.87" y1="188.62" x2="332.03" y2="187.38"/><line x1="334.95" y1="186.75" x2="334.95" y2="189.25"/><line x1="333.87" y1="187.38" x2="336.03" y2="188.62"/><line x1="333.87" y1="188.62" x2="336.03" y2="187.38"/></g>
<line x1="353" y1="206.1" x2="380.5" y2="206.1" stroke="#3c3c3c" stroke-width="1.25" />
<text x="366.75" y="204.5" font-size="7.1" text-anchor="middle" fill="#1a1a1a" textLength="10" lengthAdjust="spacingAndGlyphs" >NS</text>
<text x="312.8" y="264.1" font-size="7.3" text-anchor="end" fill="#1a1a1a" >sST2</text>
<line x1="322.7" y1="261.5" x2="326.90" y2="261.5" stroke="#1a1a1a" stroke-width="0.8" />
<path d="M339.9 261.5H344.1M342 259.40V263.6" stroke="#1a1a1a" stroke-width="0.8" fill="none"/>
<line x1="356.79" y1="261.5" x2="361.0" y2="261.5" stroke="#1a1a1a" stroke-width="0.8" />
<path d="M374.09 261.5H378.3M376.2 259.40V263.6" stroke="#1a1a1a" stroke-width="0.8" fill="none"/>
<text x="289.4" y="214.5" font-size="8.4" text-anchor="middle" fill="#1a1a1a" textLength="47.7" lengthAdjust="spacingAndGlyphs" transform="rotate(-90 289.4 214.5)" >F4/80<tspan font-size="6" dy="-3.4" stroke-width="0.05">−</tspan><tspan dy="3.4">Ly6G</tspan><tspan font-size="6" dy="-3.4" stroke-width="0.05">+</tspan><tspan dy="3.4"> %</tspan></text>
<text x="407.7" y="160.2" font-size="11" text-anchor="start" fill="#000" font-weight="bold" textLength="7.3" lengthAdjust="spacingAndGlyphs" >E</text>
<rect x="438.5" y="156.7" width="3.0" height="3.0" fill="#c8102e"/>
<path d="M440 166.4L442.0 168.4L440 170.4L438.0 168.4Z" fill="#0b4f8f"/>
<text x="446.1" y="161.0" font-size="7.3" fill="#2a2a2a"><tspan font-style="italic">Tph1</tspan><tspan dy="-2.8" font-size="5.3" stroke-width="0.05" font-style="italic">fl/fl</tspan></text>
<text x="446.1" y="171.3" font-size="7.3" fill="#2a2a2a"><tspan font-style="italic">Vil1</tspan><tspan dy="-2.8" font-size="5.3" stroke-width="0.05" font-style="italic">cre</tspan><tspan dy="2.8" font-style="italic">Tph1</tspan><tspan dy="-2.8" font-size="5.3" stroke-width="0.05" font-style="italic">fl/fl</tspan></text>
<rect x="444.2" y="217.1" width="11.0" height="33.80" fill="#e08797" stroke="none" stroke-width="1"/>
<rect x="461.2" y="227.6" width="11.40" height="23.30" fill="#e08797" stroke="none" stroke-width="1"/>
<rect x="478.3" y="233.7" width="11.39" height="17.20" fill="#8eadcc" stroke="none" stroke-width="1"/>
<rect x="495.6" y="229.9" width="11.39" height="21.0" fill="#8eadcc" stroke="none" stroke-width="1"/>
<path d="M449.9 207.6V226.2M447.0 207.6H452.79M447.0 226.2H452.79" stroke="#2a2a2a" stroke-width="1.05" fill="none"/>
<path d="M466.9 221.4V236M464.0 221.4H469.79M464.0 236H469.79" stroke="#2a2a2a" stroke-width="1.05" fill="none"/>
<path d="M484 227.5V240.3M481.1 227.5H486.9M481.1 240.3H486.9" stroke="#2a2a2a" stroke-width="1.05" fill="none"/>
<path d="M501 219.5V239.4M498.1 219.5H503.9M498.1 239.4H503.9" stroke="#2a2a2a" stroke-width="1.05" fill="none"/>
<circle cx="449.9" cy="199.6" r="1.32" fill="#c8102e"/>
<circle cx="449.9" cy="205.7" r="1.32" fill="#c8102e"/>
<circle cx="445.7" cy="215.2" r="1.32" fill="#c8102e"/>
<circle cx="453.6" cy="216.3" r="1.32" fill="#c8102e"/>
<circle cx="445.7" cy="219.5" r="1.32" fill="#c8102e"/>
<circle cx="453.6" cy="221.1" r="1.32" fill="#c8102e"/>
<circle cx="449.9" cy="223.3" r="1.32" fill="#c8102e"/>
<circle cx="445.7" cy="225.2" r="1.32" fill="#c8102e"/>
<circle cx="453.6" cy="225.2" r="1.32" fill="#c8102e"/>
<circle cx="449.9" cy="230.4" r="1.32" fill="#c8102e"/>
<circle cx="466.9" cy="214.8" r="1.32" fill="#c8102e"/>
<circle cx="466.9" cy="221.8" r="1.32" fill="#c8102e"/>
<circle cx="462.5" cy="226.3" r="1.32" fill="#c8102e"/>
<circle cx="466.9" cy="225.9" r="1.32" fill="#c8102e"/>
<circle cx="471.1" cy="227.9" r="1.32" fill="#c8102e"/>
<circle cx="462.5" cy="230.6" r="1.32" fill="#c8102e"/>
<circle cx="471.1" cy="231.9" r="1.32" fill="#c8102e"/>
<circle cx="466.9" cy="234.5" r="1.32" fill="#c8102e"/>
<circle cx="471.1" cy="236" r="1.32" fill="#c8102e"/>
<circle cx="462.5" cy="237.3" r="1.32" fill="#c8102e"/>
<circle cx="479.4" cy="227.5" r="1.32" fill="#0b4f8f"/>
<circle cx="484" cy="226.3" r="1.32" fill="#0b4f8f"/>
<circle cx="488.2" cy="226" r="1.32" fill="#0b4f8f"/>
<circle cx="484" cy="230.6" r="1.32" fill="#0b4f8f"/>
<circle cx="479.4" cy="235.1" r="1.32" fill="#0b4f8f"/>
<circle cx="488.2" cy="235.6" r="1.32" fill="#0b4f8f"/>
<circle cx="479.4" cy="239.8" r="1.32" fill="#0b4f8f"/>
<circle cx="484" cy="240.6" r="1.32" fill="#0b4f8f"/>
<circle cx="488.2" cy="241.3" r="1.32" fill="#0b4f8f"/>
<circle cx="479.4" cy="243.1" r="1.32" fill="#0b4f8f"/>
<circle cx="501" cy="212.1" r="1.32" fill="#0b4f8f"/>
<circle cx="496.8" cy="221.8" r="1.32" fill="#0b4f8f"/>
<circle cx="505.6" cy="221.3" r="1.32" fill="#0b4f8f"/>
<circle cx="496.8" cy="225.6" r="1.32" fill="#0b4f8f"/>
<circle cx="505.6" cy="228" r="1.32" fill="#0b4f8f"/>
<circle cx="496.8" cy="232.7" r="1.32" fill="#0b4f8f"/>
<circle cx="505.6" cy="233.1" r="1.32" fill="#0b4f8f"/>
<circle cx="501" cy="237.4" r="1.32" fill="#0b4f8f"/>
<circle cx="501" cy="239.8" r="1.32" fill="#0b4f8f"/>
<circle cx="501" cy="244.5" r="1.32" fill="#0b4f8f"/>
<line x1="438.3" y1="180.4" x2="438.3" y2="251.5" stroke="#1a1a1a" stroke-width="1.25" />
<line x1="437.7" y1="250.9" x2="513" y2="250.9" stroke="#1a1a1a" stroke-width="1.25" />
<line x1="435.2" y1="250.9" x2="438.3" y2="250.9" stroke="#1a1a1a" stroke-width="1.1" />
<text x="432.8" y="253.35" font-size="8.3" text-anchor="end" fill="#1a1a1a" >0</text>
<line x1="435.2" y1="228.8" x2="438.3" y2="228.8" stroke="#1a1a1a" stroke-width="1.1" />
<text x="432.8" y="231.25" font-size="8.3" text-anchor="end" fill="#1a1a1a" >1</text>
<line x1="435.2" y1="206.7" x2="438.3" y2="206.7" stroke="#1a1a1a" stroke-width="1.1" />
<text x="432.8" y="209.14" font-size="8.3" text-anchor="end" fill="#1a1a1a" >2</text>
<line x1="435.2" y1="184.6" x2="438.3" y2="184.6" stroke="#1a1a1a" stroke-width="1.1" />
<text x="432.8" y="187.04" font-size="8.3" text-anchor="end" fill="#1a1a1a" >3</text>
<line x1="449.7" y1="250.9" x2="449.7" y2="254.0" stroke="#1a1a1a" stroke-width="1.1" />
<line x1="466.9" y1="250.9" x2="466.9" y2="254.0" stroke="#1a1a1a" stroke-width="1.1" />
<line x1="484" y1="250.9" x2="484" y2="254.0" stroke="#1a1a1a" stroke-width="1.1" />
<line x1="501.3" y1="250.9" x2="501.3" y2="254.0" stroke="#1a1a1a" stroke-width="1.1" />
<line x1="444.5" y1="183.7" x2="490.3" y2="183.7" stroke="#3c3c3c" stroke-width="1.25" />
<g stroke="#222" stroke-width="1.0" stroke-linecap="round"><line x1="463.40" y1="179.35" x2="463.40" y2="181.85"/><line x1="462.32" y1="179.97" x2="464.48" y2="181.22"/><line x1="462.32" y1="181.22" x2="464.48" y2="179.97"/><line x1="467.40" y1="179.35" x2="467.40" y2="181.85"/><line x1="466.32" y1="179.97" x2="468.48" y2="181.22"/><line x1="466.32" y1="181.22" x2="468.48" y2="179.97"/><line x1="471.40" y1="179.35" x2="471.40" y2="181.85"/><line x1="470.32" y1="179.97" x2="472.48" y2="181.22"/><line x1="470.32" y1="181.22" x2="472.48" y2="179.97"/></g>
<line x1="444.5" y1="195.1" x2="472.6" y2="195.1" stroke="#3c3c3c" stroke-width="1.25" />
<g stroke="#222" stroke-width="1.0" stroke-linecap="round"><line x1="456.55" y1="190.75" x2="456.55" y2="193.25"/><line x1="455.47" y1="191.38" x2="457.63" y2="192.62"/><line x1="455.47" y1="192.62" x2="457.63" y2="191.38"/><line x1="460.55" y1="190.75" x2="460.55" y2="193.25"/><line x1="459.47" y1="191.38" x2="461.63" y2="192.62"/><line x1="459.47" y1="192.62" x2="461.63" y2="191.38"/></g>
<line x1="479.4" y1="208.5" x2="506.5" y2="208.5" stroke="#3c3c3c" stroke-width="1.25" />
<text x="492.95" y="206.9" font-size="7.1" text-anchor="middle" fill="#1a1a1a" textLength="10" lengthAdjust="spacingAndGlyphs" >NS</text>
<text x="437.9" y="264.1" font-size="7.3" text-anchor="end" fill="#1a1a1a" >sST2</text>
<line x1="447.59" y1="261.5" x2="451.8" y2="261.5" stroke="#1a1a1a" stroke-width="0.8" />
<path d="M464.79 261.5H469.0M466.9 259.40V263.6" stroke="#1a1a1a" stroke-width="0.8" fill="none"/>
<line x1="481.9" y1="261.5" x2="486.1" y2="261.5" stroke="#1a1a1a" stroke-width="0.8" />
<path d="M499.2 261.5H503.40M501.3 259.40V263.6" stroke="#1a1a1a" stroke-width="0.8" fill="none"/>
<text x="421.9" y="216" font-size="8.4" text-anchor="middle" fill="#1a1a1a" textLength="30.3" lengthAdjust="spacingAndGlyphs" transform="rotate(-90 421.9 216)" >×10<tspan font-size="6" dy="-3.4" stroke-width="0.05">5</tspan><tspan dy="3.4"> cell</tspan></text>
<text x="282.7" y="291.8" font-size="11" text-anchor="start" fill="#000" font-weight="bold" textLength="6.7" lengthAdjust="spacingAndGlyphs" >F</text>
<text x="347.7" y="291.8" font-size="9" text-anchor="middle" fill="#1a1a1a" textLength="26.6" lengthAdjust="spacingAndGlyphs" >TNF-α</text>
<rect x="313.2" y="399.0" width="3.0" height="3.0" fill="#c8102e"/>
<path d="M314.7 409.5L316.7 411.5L314.7 413.5L312.7 411.5Z" fill="#0b4f8f"/>
<text x="320.8" y="403.3" font-size="7.3" fill="#2a2a2a"><tspan font-style="italic">Tph1</tspan><tspan dy="-2.8" font-size="5.3" stroke-width="0.05" font-style="italic">fl/fl</tspan></text>
<text x="320.8" y="414.4" font-size="7.3" fill="#2a2a2a"><tspan font-style="italic">Vil1</tspan><tspan dy="-2.8" font-size="5.3" stroke-width="0.05" font-style="italic">cre</tspan><tspan dy="2.8" font-style="italic">Tph1</tspan><tspan dy="-2.8" font-size="5.3" stroke-width="0.05" font-style="italic">fl/fl</tspan></text>
<rect x="319.6" y="334.2" width="10.09" height="42.19" fill="#e08797" stroke="none" stroke-width="1"/>
<rect x="336.1" y="348.9" width="11.09" height="27.5" fill="#e08797" stroke="none" stroke-width="1"/>
<rect x="352.9" y="344.5" width="11.30" height="31.89" fill="#8eadcc" stroke="none" stroke-width="1"/>
<rect x="369.8" y="345.8" width="11.30" height="30.59" fill="#8eadcc" stroke="none" stroke-width="1"/>
<path d="M324.6 324.1V343.2M321.70 324.1H327.5M321.70 343.2H327.5" stroke="#2a2a2a" stroke-width="1.05" fill="none"/>
<path d="M341.6 340.2V356.9M338.70 340.2H344.5M338.70 356.9H344.5" stroke="#2a2a2a" stroke-width="1.05" fill="none"/>
<path d="M358.5 337.8V351.2M355.6 337.8H361.4M355.6 351.2H361.4" stroke="#2a2a2a" stroke-width="1.05" fill="none"/>
<path d="M375.5 340.4V351.9M372.6 340.4H378.4M372.6 351.9H378.4" stroke="#2a2a2a" stroke-width="1.05" fill="none"/>
<circle cx="324.5" cy="319.5" r="1.32" fill="#c8102e"/>
<circle cx="324.5" cy="323.1" r="1.32" fill="#c8102e"/>
<circle cx="320.4" cy="329.6" r="1.32" fill="#c8102e"/>
<circle cx="329.1" cy="327.2" r="1.32" fill="#c8102e"/>
<circle cx="329.1" cy="332.2" r="1.32" fill="#c8102e"/>
<circle cx="320.4" cy="334.8" r="1.32" fill="#c8102e"/>
<circle cx="329.1" cy="336.8" r="1.32" fill="#c8102e"/>
<circle cx="324.5" cy="339.6" r="1.32" fill="#c8102e"/>
<circle cx="324.5" cy="343.2" r="1.32" fill="#c8102e"/>
<circle cx="324.5" cy="349.7" r="1.32" fill="#c8102e"/>
<circle cx="337.1" cy="338.2" r="1.32" fill="#c8102e"/>
<circle cx="341.7" cy="339.6" r="1.32" fill="#c8102e"/>
<circle cx="345.8" cy="341.6" r="1.32" fill="#c8102e"/>
<circle cx="337.1" cy="342.2" r="1.32" fill="#c8102e"/>
<circle cx="341.7" cy="348.3" r="1.32" fill="#c8102e"/>
<circle cx="337.1" cy="352.9" r="1.32" fill="#c8102e"/>
<circle cx="341.7" cy="353.3" r="1.32" fill="#c8102e"/>
<circle cx="345.8" cy="352.9" r="1.32" fill="#c8102e"/>
<circle cx="341.7" cy="355.3" r="1.32" fill="#c8102e"/>
<circle cx="341.7" cy="365" r="1.32" fill="#c8102e"/>
<circle cx="358.5" cy="332.2" r="1.32" fill="#0b4f8f"/>
<circle cx="358.5" cy="339.6" r="1.32" fill="#0b4f8f"/>
<circle cx="354.2" cy="345.5" r="1.32" fill="#0b4f8f"/>
<circle cx="356.5" cy="343.5" r="1.32" fill="#0b4f8f"/>
<circle cx="359.5" cy="343.9" r="1.32" fill="#0b4f8f"/>
<circle cx="362.6" cy="345" r="1.32" fill="#0b4f8f"/>
<circle cx="358.5" cy="346.5" r="1.32" fill="#0b4f8f"/>
<circle cx="354.2" cy="349.6" r="1.32" fill="#0b4f8f"/>
<circle cx="358.5" cy="351.6" r="1.32" fill="#0b4f8f"/>
<circle cx="358.5" cy="355.8" r="1.32" fill="#0b4f8f"/>
<circle cx="377.2" cy="336.5" r="1.32" fill="#0b4f8f"/>
<circle cx="372.9" cy="338.4" r="1.32" fill="#0b4f8f"/>
<circle cx="371.1" cy="342.7" r="1.32" fill="#0b4f8f"/>
<circle cx="379.5" cy="345.5" r="1.32" fill="#0b4f8f"/>
<circle cx="371.1" cy="347.3" r="1.32" fill="#0b4f8f"/>
<circle cx="379.5" cy="348.1" r="1.32" fill="#0b4f8f"/>
<circle cx="371.1" cy="350.4" r="1.32" fill="#0b4f8f"/>
<circle cx="375.4" cy="351.6" r="1.32" fill="#0b4f8f"/>
<circle cx="379.5" cy="352.7" r="1.32" fill="#0b4f8f"/>
<circle cx="375.5" cy="345" r="1.32" fill="#0b4f8f"/>
<line x1="313.7" y1="306.7" x2="313.7" y2="377.0" stroke="#1a1a1a" stroke-width="1.25" />
<line x1="313.09" y1="376.4" x2="386.3" y2="376.4" stroke="#1a1a1a" stroke-width="1.25" />
<line x1="310.59" y1="376.4" x2="313.7" y2="376.4" stroke="#1a1a1a" stroke-width="1.1" />
<text x="308.2" y="378.84" font-size="8.3" text-anchor="end" fill="#1a1a1a" >0</text>
<line x1="310.59" y1="354.4" x2="313.7" y2="354.4" stroke="#1a1a1a" stroke-width="1.1" />
<text x="308.2" y="356.84" font-size="8.3" text-anchor="end" fill="#1a1a1a" >20</text>
<line x1="310.59" y1="332.4" x2="313.7" y2="332.4" stroke="#1a1a1a" stroke-width="1.1" />
<text x="308.2" y="334.84" font-size="8.3" text-anchor="end" fill="#1a1a1a" >40</text>
<line x1="310.59" y1="310.4" x2="313.7" y2="310.4" stroke="#1a1a1a" stroke-width="1.1" />
<text x="308.2" y="312.84" font-size="8.3" text-anchor="end" fill="#1a1a1a" >60</text>
<line x1="324.5" y1="376.4" x2="324.5" y2="379.5" stroke="#1a1a1a" stroke-width="1.1" />
<line x1="341.4" y1="376.4" x2="341.4" y2="379.5" stroke="#1a1a1a" stroke-width="1.1" />
<line x1="358.4" y1="376.4" x2="358.4" y2="379.5" stroke="#1a1a1a" stroke-width="1.1" />
<line x1="375.2" y1="376.4" x2="375.2" y2="379.5" stroke="#1a1a1a" stroke-width="1.1" />
<line x1="319.6" y1="304" x2="364.5" y2="304" stroke="#3c3c3c" stroke-width="1.25" />
<g stroke="#222" stroke-width="1.0" stroke-linecap="round"><line x1="340.05" y1="299.65" x2="340.05" y2="302.15"/><line x1="338.97" y1="300.27" x2="341.13" y2="301.52"/><line x1="338.97" y1="301.52" x2="341.13" y2="300.27"/><line x1="344.05" y1="299.65" x2="344.05" y2="302.15"/><line x1="342.97" y1="300.27" x2="345.13" y2="301.52"/><line x1="342.97" y1="301.52" x2="345.13" y2="300.27"/></g>
<line x1="319.6" y1="315.1" x2="347.2" y2="315.1" stroke="#3c3c3c" stroke-width="1.25" />
<g stroke="#222" stroke-width="1.0" stroke-linecap="round"><line x1="331.40" y1="310.75" x2="331.40" y2="313.25"/><line x1="330.32" y1="311.38" x2="332.48" y2="312.62"/><line x1="330.32" y1="312.62" x2="332.48" y2="311.38"/><line x1="335.40" y1="310.75" x2="335.40" y2="313.25"/><line x1="334.32" y1="311.38" x2="336.48" y2="312.62"/><line x1="334.32" y1="312.62" x2="336.48" y2="311.38"/></g>
<line x1="352.9" y1="327" x2="381.1" y2="327" stroke="#3c3c3c" stroke-width="1.25" />
<text x="367.0" y="325.4" font-size="7.1" text-anchor="middle" fill="#1a1a1a" textLength="10" lengthAdjust="spacingAndGlyphs" >NS</text>
<text x="312.8" y="388.9" font-size="7.3" text-anchor="end" fill="#1a1a1a" >sST2</text>
<line x1="322.4" y1="386.29" x2="326.6" y2="386.29" stroke="#1a1a1a" stroke-width="0.8" />
<path d="M339.29 386.29H343.5M341.4 384.2V388.4" stroke="#1a1a1a" stroke-width="0.8" fill="none"/>
<line x1="356.29" y1="386.29" x2="360.5" y2="386.29" stroke="#1a1a1a" stroke-width="0.8" />
<path d="M373.09 386.29H377.3M375.2 384.2V388.4" stroke="#1a1a1a" stroke-width="0.8" fill="none"/>
<text x="290.6" y="340.5" font-size="8.8" text-anchor="middle" fill="#1a1a1a" textLength="20" lengthAdjust="spacingAndGlyphs" transform="rotate(-90 290.6 340.5)" >pg/ml</text>
<text x="407.9" y="291.9" font-size="11" text-anchor="start" fill="#000" font-weight="bold" textLength="8.4" lengthAdjust="spacingAndGlyphs" >G</text>
<rect x="438.3" y="399.0" width="3.0" height="3.0" fill="#c8102e"/>
<path d="M439.8 409.5L441.8 411.5L439.8 413.5L437.8 411.5Z" fill="#0b4f8f"/>
<text x="446.1" y="403.3" font-size="7.3" fill="#2a2a2a"><tspan font-style="italic">Tph1</tspan><tspan dy="-2.8" font-size="5.3" stroke-width="0.05" font-style="italic">fl/fl</tspan></text>
<text x="446.1" y="414.4" font-size="7.3" fill="#2a2a2a"><tspan font-style="italic">Vil1</tspan><tspan dy="-2.8" font-size="5.3" stroke-width="0.05" font-style="italic">cre</tspan><tspan dy="2.8" font-style="italic">Tph1</tspan><tspan dy="-2.8" font-size="5.3" stroke-width="0.05" font-style="italic">fl/fl</tspan></text>
<rect x="444.2" y="347.8" width="11.10" height="28.80" fill="#e08797" stroke="none" stroke-width="1"/>
<rect x="461.3" y="334.9" width="10.69" height="41.70" fill="#e08797" stroke="none" stroke-width="1"/>
<rect x="477.7" y="333.3" width="10.80" height="43.30" fill="#8eadcc" stroke="none" stroke-width="1"/>
<rect x="494.2" y="341.8" width="11.10" height="34.80" fill="#8eadcc" stroke="none" stroke-width="1"/>
<path d="M449.8 336.9V357M446.90 336.9H452.7M446.90 357H452.7" stroke="#2a2a2a" stroke-width="1.05" fill="none"/>
<path d="M466.7 324.8V344.4M463.8 324.8H469.59M463.8 344.4H469.59" stroke="#2a2a2a" stroke-width="1.05" fill="none"/>
<path d="M483.1 324.9V341.8M480.20 324.9H486.0M480.20 341.8H486.0" stroke="#2a2a2a" stroke-width="1.05" fill="none"/>
<path d="M499.9 331.7V352.5M497.0 331.7H502.79M497.0 352.5H502.79" stroke="#2a2a2a" stroke-width="1.05" fill="none"/>
<circle cx="445.8" cy="331.7" r="1.32" fill="#c8102e"/>
<circle cx="449.8" cy="334.3" r="1.32" fill="#c8102e"/>
<circle cx="449.8" cy="339.7" r="1.32" fill="#c8102e"/>
<circle cx="449.8" cy="343.8" r="1.32" fill="#c8102e"/>
<circle cx="445.8" cy="347.8" r="1.32" fill="#c8102e"/>
<circle cx="453.8" cy="347.8" r="1.32" fill="#c8102e"/>
<circle cx="449.8" cy="349.8" r="1.32" fill="#c8102e"/>
<circle cx="453.8" cy="355" r="1.32" fill="#c8102e"/>
<circle cx="445.8" cy="357" r="1.32" fill="#c8102e"/>
<circle cx="449.8" cy="361.9" r="1.32" fill="#c8102e"/>
<circle cx="466.7" cy="320.8" r="1.32" fill="#c8102e"/>
<circle cx="462.7" cy="330.9" r="1.32" fill="#c8102e"/>
<circle cx="468" cy="329.6" r="1.32" fill="#c8102e"/>
<circle cx="470.8" cy="331.7" r="1.32" fill="#c8102e"/>
<circle cx="466.7" cy="334.9" r="1.32" fill="#c8102e"/>
<circle cx="466.7" cy="338.3" r="1.32" fill="#c8102e"/>
<circle cx="462.7" cy="343.8" r="1.32" fill="#c8102e"/>
<circle cx="470.8" cy="343.8" r="1.32" fill="#c8102e"/>
<circle cx="466.7" cy="347.8" r="1.32" fill="#c8102e"/>
<circle cx="462.7" cy="354.4" r="1.32" fill="#c8102e"/>
<circle cx="483.1" cy="321.2" r="1.32" fill="#0b4f8f"/>
<circle cx="479.7" cy="327.7" r="1.32" fill="#0b4f8f"/>
<circle cx="485.1" cy="326.3" r="1.32" fill="#0b4f8f"/>
<circle cx="487.1" cy="328.3" r="1.32" fill="#0b4f8f"/>
<circle cx="479.7" cy="331.3" r="1.32" fill="#0b4f8f"/>
<circle cx="485.1" cy="331.3" r="1.32" fill="#0b4f8f"/>
<circle cx="483.1" cy="334.4" r="1.32" fill="#0b4f8f"/>
<circle cx="483.1" cy="339.8" r="1.32" fill="#0b4f8f"/>
<circle cx="487.1" cy="340.4" r="1.32" fill="#0b4f8f"/>
<circle cx="483.1" cy="353.1" r="1.32" fill="#0b4f8f"/>
<circle cx="499.9" cy="322.9" r="1.32" fill="#0b4f8f"/>
<circle cx="503.9" cy="334.4" r="1.32" fill="#0b4f8f"/>
<circle cx="499.9" cy="343" r="1.32" fill="#0b4f8f"/>
<circle cx="495.8" cy="347.9" r="1.32" fill="#0b4f8f"/>
<circle cx="503.9" cy="348.5" r="1.32" fill="#0b4f8f"/>
<circle cx="495.8" cy="352.5" r="1.32" fill="#0b4f8f"/>
<circle cx="498.2" cy="353.5" r="1.32" fill="#0b4f8f"/>
<circle cx="502.3" cy="353.5" r="1.32" fill="#0b4f8f"/>
<circle cx="499.9" cy="349.1" r="1.32" fill="#0b4f8f"/>
<circle cx="495.8" cy="349.5" r="1.32" fill="#0b4f8f"/>
<line x1="438.5" y1="306.5" x2="438.5" y2="377.20" stroke="#1a1a1a" stroke-width="1.25" />
<line x1="437.9" y1="376.6" x2="513.2" y2="376.6" stroke="#1a1a1a" stroke-width="1.25" />
<line x1="435.4" y1="376.6" x2="438.5" y2="376.6" stroke="#1a1a1a" stroke-width="1.1" />
<text x="433.0" y="379.05" font-size="8.3" text-anchor="end" fill="#1a1a1a" >30</text>
<line x1="435.4" y1="363.3" x2="438.5" y2="363.3" stroke="#1a1a1a" stroke-width="1.1" />
<text x="433.0" y="365.75" font-size="8.3" text-anchor="end" fill="#1a1a1a" >31</text>
<line x1="435.4" y1="350.0" x2="438.5" y2="350.0" stroke="#1a1a1a" stroke-width="1.1" />
<text x="433.0" y="352.45" font-size="8.3" text-anchor="end" fill="#1a1a1a" >32</text>
<line x1="435.4" y1="336.70" x2="438.5" y2="336.70" stroke="#1a1a1a" stroke-width="1.1" />
<text x="433.0" y="339.15" font-size="8.3" text-anchor="end" fill="#1a1a1a" >33</text>
<line x1="435.4" y1="323.40" x2="438.5" y2="323.40" stroke="#1a1a1a" stroke-width="1.1" />
<text x="433.0" y="325.85" font-size="8.3" text-anchor="end" fill="#1a1a1a" >34</text>
<line x1="435.4" y1="310.1" x2="438.5" y2="310.1" stroke="#1a1a1a" stroke-width="1.1" />
<text x="433.0" y="312.55" font-size="8.3" text-anchor="end" fill="#1a1a1a" >35</text>
<line x1="449.6" y1="376.6" x2="449.6" y2="379.70" stroke="#1a1a1a" stroke-width="1.1" />
<line x1="466.5" y1="376.6" x2="466.5" y2="379.70" stroke="#1a1a1a" stroke-width="1.1" />
<line x1="483.1" y1="376.6" x2="483.1" y2="379.70" stroke="#1a1a1a" stroke-width="1.1" />
<line x1="499.8" y1="376.6" x2="499.8" y2="379.70" stroke="#1a1a1a" stroke-width="1.1" />
<line x1="444.6" y1="304.1" x2="489.8" y2="304.1" stroke="#3c3c3c" stroke-width="1.25" />
<g stroke="#222" stroke-width="1.0" stroke-linecap="round"><line x1="465.20" y1="299.75" x2="465.20" y2="302.25"/><line x1="464.12" y1="300.38" x2="466.28" y2="301.62"/><line x1="464.12" y1="301.62" x2="466.28" y2="300.38"/><line x1="469.20" y1="299.75" x2="469.20" y2="302.25"/><line x1="468.12" y1="300.38" x2="470.28" y2="301.62"/><line x1="468.12" y1="301.62" x2="470.28" y2="300.38"/></g>
<line x1="444.6" y1="317.2" x2="472" y2="317.2" stroke="#3c3c3c" stroke-width="1.25" />
<g stroke="#222" stroke-width="1.0" stroke-linecap="round"><line x1="458.30" y1="312.85" x2="458.30" y2="315.35"/><line x1="457.22" y1="313.47" x2="459.38" y2="314.72"/><line x1="457.22" y1="314.72" x2="459.38" y2="313.47"/></g>
<line x1="478.5" y1="317.2" x2="506.3" y2="317.2" stroke="#3c3c3c" stroke-width="1.25" />
<text x="492.4" y="315.59" font-size="7.1" text-anchor="middle" fill="#1a1a1a" textLength="10" lengthAdjust="spacingAndGlyphs" >NS</text>
<text x="437.9" y="388.9" font-size="7.3" text-anchor="end" fill="#1a1a1a" >sST2</text>
<line x1="447.5" y1="386.29" x2="451.70" y2="386.29" stroke="#1a1a1a" stroke-width="0.8" />
<path d="M464.4 386.29H468.6M466.5 384.2V388.4" stroke="#1a1a1a" stroke-width="0.8" fill="none"/>
<line x1="481.0" y1="386.29" x2="485.20" y2="386.29" stroke="#1a1a1a" stroke-width="0.8" />
<path d="M497.7 386.29H501.90M499.8 384.2V388.4" stroke="#1a1a1a" stroke-width="0.8" fill="none"/>
<text x="415.4" y="340.4" font-size="8.3" text-anchor="middle" fill="#1a1a1a" textLength="33.7" lengthAdjust="spacingAndGlyphs" transform="rotate(-90 415.4 340.4)" >Temp (°C)</text>
<rect x="0.5" y="0.5" width="519" height="421" fill="none" stroke="#000" stroke-width="1"/>
</svg>
</body></html>
